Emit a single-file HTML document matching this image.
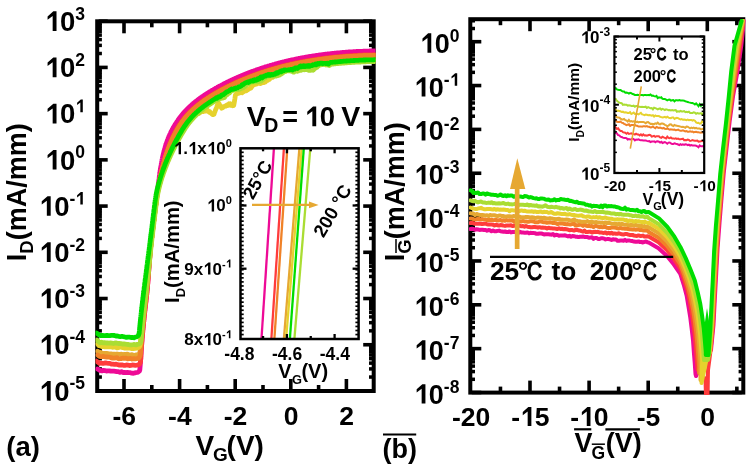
<!DOCTYPE html><html><head><meta charset="utf-8"><style>html,body{margin:0;padding:0;background:#fff;width:751px;height:468px;overflow:hidden}</style></head><body><svg width="751" height="468" viewBox="0 0 751 468" style="display:block;will-change:transform"><rect width="751" height="468" fill="#fff"/><defs><clipPath id="ca"><rect x="95.5" y="19" width="280" height="374"/></clipPath><clipPath id="cb"><rect x="469" y="17" width="276.5" height="378"/></clipPath><clipPath id="cai"><rect x="240" y="147.5" width="119" height="192"/></clipPath><clipPath id="cbi"><rect x="613.5" y="35.5" width="91.5" height="138"/></clipPath></defs><g stroke="#000" fill="none"><rect x="97.2" y="21.3" width="276.5" height="369.7" stroke-width="4"/><line x1="98.7" y1="390.96" x2="107.7" y2="390.96" stroke-width="3.6"/><line x1="98.7" y1="377.05" x2="101.9" y2="377.05" stroke-width="3.5"/><line x1="98.7" y1="368.91" x2="101.9" y2="368.91" stroke-width="3.5"/><line x1="98.7" y1="363.13" x2="101.9" y2="363.13" stroke-width="3.5"/><line x1="98.7" y1="358.65" x2="101.9" y2="358.65" stroke-width="3.5"/><line x1="98.7" y1="354.99" x2="101.9" y2="354.99" stroke-width="3.5"/><line x1="98.7" y1="351.9" x2="101.9" y2="351.9" stroke-width="3.5"/><line x1="98.7" y1="349.22" x2="101.9" y2="349.22" stroke-width="3.5"/><line x1="98.7" y1="346.85" x2="101.9" y2="346.85" stroke-width="3.5"/><line x1="98.7" y1="344.74" x2="107.7" y2="344.74" stroke-width="3.6"/><line x1="98.7" y1="330.83" x2="101.9" y2="330.83" stroke-width="3.5"/><line x1="98.7" y1="322.69" x2="101.9" y2="322.69" stroke-width="3.5"/><line x1="98.7" y1="316.91" x2="101.9" y2="316.91" stroke-width="3.5"/><line x1="98.7" y1="312.43" x2="101.9" y2="312.43" stroke-width="3.5"/><line x1="98.7" y1="308.77" x2="101.9" y2="308.77" stroke-width="3.5"/><line x1="98.7" y1="305.68" x2="101.9" y2="305.68" stroke-width="3.5"/><line x1="98.7" y1="303" x2="101.9" y2="303" stroke-width="3.5"/><line x1="98.7" y1="300.63" x2="101.9" y2="300.63" stroke-width="3.5"/><line x1="98.7" y1="298.52" x2="107.7" y2="298.52" stroke-width="3.6"/><line x1="98.7" y1="284.61" x2="101.9" y2="284.61" stroke-width="3.5"/><line x1="98.7" y1="276.47" x2="101.9" y2="276.47" stroke-width="3.5"/><line x1="98.7" y1="270.69" x2="101.9" y2="270.69" stroke-width="3.5"/><line x1="98.7" y1="266.21" x2="101.9" y2="266.21" stroke-width="3.5"/><line x1="98.7" y1="262.55" x2="101.9" y2="262.55" stroke-width="3.5"/><line x1="98.7" y1="259.46" x2="101.9" y2="259.46" stroke-width="3.5"/><line x1="98.7" y1="256.78" x2="101.9" y2="256.78" stroke-width="3.5"/><line x1="98.7" y1="254.41" x2="101.9" y2="254.41" stroke-width="3.5"/><line x1="98.7" y1="252.3" x2="107.7" y2="252.3" stroke-width="3.6"/><line x1="98.7" y1="238.39" x2="101.9" y2="238.39" stroke-width="3.5"/><line x1="98.7" y1="230.25" x2="101.9" y2="230.25" stroke-width="3.5"/><line x1="98.7" y1="224.47" x2="101.9" y2="224.47" stroke-width="3.5"/><line x1="98.7" y1="219.99" x2="101.9" y2="219.99" stroke-width="3.5"/><line x1="98.7" y1="216.33" x2="101.9" y2="216.33" stroke-width="3.5"/><line x1="98.7" y1="213.24" x2="101.9" y2="213.24" stroke-width="3.5"/><line x1="98.7" y1="210.56" x2="101.9" y2="210.56" stroke-width="3.5"/><line x1="98.7" y1="208.19" x2="101.9" y2="208.19" stroke-width="3.5"/><line x1="98.7" y1="206.08" x2="107.7" y2="206.08" stroke-width="3.6"/><line x1="98.7" y1="192.17" x2="101.9" y2="192.17" stroke-width="3.5"/><line x1="98.7" y1="184.03" x2="101.9" y2="184.03" stroke-width="3.5"/><line x1="98.7" y1="178.25" x2="101.9" y2="178.25" stroke-width="3.5"/><line x1="98.7" y1="173.77" x2="101.9" y2="173.77" stroke-width="3.5"/><line x1="98.7" y1="170.11" x2="101.9" y2="170.11" stroke-width="3.5"/><line x1="98.7" y1="167.02" x2="101.9" y2="167.02" stroke-width="3.5"/><line x1="98.7" y1="164.34" x2="101.9" y2="164.34" stroke-width="3.5"/><line x1="98.7" y1="161.97" x2="101.9" y2="161.97" stroke-width="3.5"/><line x1="98.7" y1="159.86" x2="107.7" y2="159.86" stroke-width="3.6"/><line x1="98.7" y1="145.95" x2="101.9" y2="145.95" stroke-width="3.5"/><line x1="98.7" y1="137.81" x2="101.9" y2="137.81" stroke-width="3.5"/><line x1="98.7" y1="132.03" x2="101.9" y2="132.03" stroke-width="3.5"/><line x1="98.7" y1="127.55" x2="101.9" y2="127.55" stroke-width="3.5"/><line x1="98.7" y1="123.89" x2="101.9" y2="123.89" stroke-width="3.5"/><line x1="98.7" y1="120.8" x2="101.9" y2="120.8" stroke-width="3.5"/><line x1="98.7" y1="118.12" x2="101.9" y2="118.12" stroke-width="3.5"/><line x1="98.7" y1="115.75" x2="101.9" y2="115.75" stroke-width="3.5"/><line x1="98.7" y1="113.64" x2="107.7" y2="113.64" stroke-width="3.6"/><line x1="98.7" y1="99.73" x2="101.9" y2="99.73" stroke-width="3.5"/><line x1="98.7" y1="91.59" x2="101.9" y2="91.59" stroke-width="3.5"/><line x1="98.7" y1="85.81" x2="101.9" y2="85.81" stroke-width="3.5"/><line x1="98.7" y1="81.33" x2="101.9" y2="81.33" stroke-width="3.5"/><line x1="98.7" y1="77.67" x2="101.9" y2="77.67" stroke-width="3.5"/><line x1="98.7" y1="74.58" x2="101.9" y2="74.58" stroke-width="3.5"/><line x1="98.7" y1="71.9" x2="101.9" y2="71.9" stroke-width="3.5"/><line x1="98.7" y1="69.53" x2="101.9" y2="69.53" stroke-width="3.5"/><line x1="98.7" y1="67.42" x2="107.7" y2="67.42" stroke-width="3.6"/><line x1="98.7" y1="53.51" x2="101.9" y2="53.51" stroke-width="3.5"/><line x1="98.7" y1="45.37" x2="101.9" y2="45.37" stroke-width="3.5"/><line x1="98.7" y1="39.59" x2="101.9" y2="39.59" stroke-width="3.5"/><line x1="98.7" y1="35.11" x2="101.9" y2="35.11" stroke-width="3.5"/><line x1="98.7" y1="31.45" x2="101.9" y2="31.45" stroke-width="3.5"/><line x1="98.7" y1="28.36" x2="101.9" y2="28.36" stroke-width="3.5"/><line x1="98.7" y1="25.68" x2="101.9" y2="25.68" stroke-width="3.5"/><line x1="98.7" y1="23.31" x2="101.9" y2="23.31" stroke-width="3.5"/><line x1="98.7" y1="21.2" x2="107.7" y2="21.2" stroke-width="3.6"/><line x1="372.2" y1="390.96" x2="363.2" y2="390.96" stroke-width="3.6"/><line x1="372.2" y1="377.05" x2="369" y2="377.05" stroke-width="3.5"/><line x1="372.2" y1="368.91" x2="369" y2="368.91" stroke-width="3.5"/><line x1="372.2" y1="363.13" x2="369" y2="363.13" stroke-width="3.5"/><line x1="372.2" y1="358.65" x2="369" y2="358.65" stroke-width="3.5"/><line x1="372.2" y1="354.99" x2="369" y2="354.99" stroke-width="3.5"/><line x1="372.2" y1="351.9" x2="369" y2="351.9" stroke-width="3.5"/><line x1="372.2" y1="349.22" x2="369" y2="349.22" stroke-width="3.5"/><line x1="372.2" y1="346.85" x2="369" y2="346.85" stroke-width="3.5"/><line x1="372.2" y1="344.74" x2="363.2" y2="344.74" stroke-width="3.6"/><line x1="372.2" y1="330.83" x2="369" y2="330.83" stroke-width="3.5"/><line x1="372.2" y1="322.69" x2="369" y2="322.69" stroke-width="3.5"/><line x1="372.2" y1="316.91" x2="369" y2="316.91" stroke-width="3.5"/><line x1="372.2" y1="312.43" x2="369" y2="312.43" stroke-width="3.5"/><line x1="372.2" y1="308.77" x2="369" y2="308.77" stroke-width="3.5"/><line x1="372.2" y1="305.68" x2="369" y2="305.68" stroke-width="3.5"/><line x1="372.2" y1="303" x2="369" y2="303" stroke-width="3.5"/><line x1="372.2" y1="300.63" x2="369" y2="300.63" stroke-width="3.5"/><line x1="372.2" y1="298.52" x2="363.2" y2="298.52" stroke-width="3.6"/><line x1="372.2" y1="284.61" x2="369" y2="284.61" stroke-width="3.5"/><line x1="372.2" y1="276.47" x2="369" y2="276.47" stroke-width="3.5"/><line x1="372.2" y1="270.69" x2="369" y2="270.69" stroke-width="3.5"/><line x1="372.2" y1="266.21" x2="369" y2="266.21" stroke-width="3.5"/><line x1="372.2" y1="262.55" x2="369" y2="262.55" stroke-width="3.5"/><line x1="372.2" y1="259.46" x2="369" y2="259.46" stroke-width="3.5"/><line x1="372.2" y1="256.78" x2="369" y2="256.78" stroke-width="3.5"/><line x1="372.2" y1="254.41" x2="369" y2="254.41" stroke-width="3.5"/><line x1="372.2" y1="252.3" x2="363.2" y2="252.3" stroke-width="3.6"/><line x1="372.2" y1="238.39" x2="369" y2="238.39" stroke-width="3.5"/><line x1="372.2" y1="230.25" x2="369" y2="230.25" stroke-width="3.5"/><line x1="372.2" y1="224.47" x2="369" y2="224.47" stroke-width="3.5"/><line x1="372.2" y1="219.99" x2="369" y2="219.99" stroke-width="3.5"/><line x1="372.2" y1="216.33" x2="369" y2="216.33" stroke-width="3.5"/><line x1="372.2" y1="213.24" x2="369" y2="213.24" stroke-width="3.5"/><line x1="372.2" y1="210.56" x2="369" y2="210.56" stroke-width="3.5"/><line x1="372.2" y1="208.19" x2="369" y2="208.19" stroke-width="3.5"/><line x1="372.2" y1="206.08" x2="363.2" y2="206.08" stroke-width="3.6"/><line x1="372.2" y1="192.17" x2="369" y2="192.17" stroke-width="3.5"/><line x1="372.2" y1="184.03" x2="369" y2="184.03" stroke-width="3.5"/><line x1="372.2" y1="178.25" x2="369" y2="178.25" stroke-width="3.5"/><line x1="372.2" y1="173.77" x2="369" y2="173.77" stroke-width="3.5"/><line x1="372.2" y1="170.11" x2="369" y2="170.11" stroke-width="3.5"/><line x1="372.2" y1="167.02" x2="369" y2="167.02" stroke-width="3.5"/><line x1="372.2" y1="164.34" x2="369" y2="164.34" stroke-width="3.5"/><line x1="372.2" y1="161.97" x2="369" y2="161.97" stroke-width="3.5"/><line x1="372.2" y1="159.86" x2="363.2" y2="159.86" stroke-width="3.6"/><line x1="372.2" y1="145.95" x2="369" y2="145.95" stroke-width="3.5"/><line x1="372.2" y1="137.81" x2="369" y2="137.81" stroke-width="3.5"/><line x1="372.2" y1="132.03" x2="369" y2="132.03" stroke-width="3.5"/><line x1="372.2" y1="127.55" x2="369" y2="127.55" stroke-width="3.5"/><line x1="372.2" y1="123.89" x2="369" y2="123.89" stroke-width="3.5"/><line x1="372.2" y1="120.8" x2="369" y2="120.8" stroke-width="3.5"/><line x1="372.2" y1="118.12" x2="369" y2="118.12" stroke-width="3.5"/><line x1="372.2" y1="115.75" x2="369" y2="115.75" stroke-width="3.5"/><line x1="372.2" y1="113.64" x2="363.2" y2="113.64" stroke-width="3.6"/><line x1="372.2" y1="99.73" x2="369" y2="99.73" stroke-width="3.5"/><line x1="372.2" y1="91.59" x2="369" y2="91.59" stroke-width="3.5"/><line x1="372.2" y1="85.81" x2="369" y2="85.81" stroke-width="3.5"/><line x1="372.2" y1="81.33" x2="369" y2="81.33" stroke-width="3.5"/><line x1="372.2" y1="77.67" x2="369" y2="77.67" stroke-width="3.5"/><line x1="372.2" y1="74.58" x2="369" y2="74.58" stroke-width="3.5"/><line x1="372.2" y1="71.9" x2="369" y2="71.9" stroke-width="3.5"/><line x1="372.2" y1="69.53" x2="369" y2="69.53" stroke-width="3.5"/><line x1="372.2" y1="67.42" x2="363.2" y2="67.42" stroke-width="3.6"/><line x1="372.2" y1="53.51" x2="369" y2="53.51" stroke-width="3.5"/><line x1="372.2" y1="45.37" x2="369" y2="45.37" stroke-width="3.5"/><line x1="372.2" y1="39.59" x2="369" y2="39.59" stroke-width="3.5"/><line x1="372.2" y1="35.11" x2="369" y2="35.11" stroke-width="3.5"/><line x1="372.2" y1="31.45" x2="369" y2="31.45" stroke-width="3.5"/><line x1="372.2" y1="28.36" x2="369" y2="28.36" stroke-width="3.5"/><line x1="372.2" y1="25.68" x2="369" y2="25.68" stroke-width="3.5"/><line x1="372.2" y1="23.31" x2="369" y2="23.31" stroke-width="3.5"/><line x1="372.2" y1="21.2" x2="363.2" y2="21.2" stroke-width="3.6"/><line x1="124" y1="389.5" x2="124" y2="379" stroke-width="3.6"/><line x1="179.6" y1="389.5" x2="179.6" y2="379" stroke-width="3.6"/><line x1="235.2" y1="389.5" x2="235.2" y2="379" stroke-width="3.6"/><line x1="290.8" y1="389.5" x2="290.8" y2="379" stroke-width="3.6"/><line x1="346.4" y1="389.5" x2="346.4" y2="379" stroke-width="3.6"/><line x1="151.8" y1="389.5" x2="151.8" y2="385" stroke-width="3.6"/><line x1="207.4" y1="389.5" x2="207.4" y2="385" stroke-width="3.6"/><line x1="263" y1="389.5" x2="263" y2="385" stroke-width="3.6"/><line x1="318.6" y1="389.5" x2="318.6" y2="385" stroke-width="3.6"/><line x1="124" y1="22.8" x2="124" y2="33.3" stroke-width="3.6"/><line x1="179.6" y1="22.8" x2="179.6" y2="33.3" stroke-width="3.6"/><line x1="235.2" y1="22.8" x2="235.2" y2="33.3" stroke-width="3.6"/><line x1="290.8" y1="22.8" x2="290.8" y2="33.3" stroke-width="3.6"/><line x1="346.4" y1="22.8" x2="346.4" y2="33.3" stroke-width="3.6"/><line x1="151.8" y1="22.8" x2="151.8" y2="27.3" stroke-width="3.6"/><line x1="207.4" y1="22.8" x2="207.4" y2="27.3" stroke-width="3.6"/><line x1="263" y1="22.8" x2="263" y2="27.3" stroke-width="3.6"/><line x1="318.6" y1="22.8" x2="318.6" y2="27.3" stroke-width="3.6"/></g><g clip-path="url(#ca)" fill="none" stroke-linejoin="round" stroke-linecap="round"><path d="M97.4,368.9 L98.9,369.8 L100.4,370.6 L101.9,370.9 L103.4,370.4 L104.9,370.6 L106.4,371.0 L107.9,370.9 L109.4,370.9 L110.9,371.2 L112.4,371.2 L113.9,371.2 L115.4,371.4 L116.9,371.7 L118.4,371.7 L119.9,372.3 L121.4,371.6 L122.9,372.5 L124.4,372.4 L125.9,372.7 L127.4,372.5 L128.9,372.7 L130.4,372.7 L131.9,373.2 L133.4,373.3 L134.9,372.9 L136.4,372.5 L137.5,372.3 L138.5,371.8 L139.3,371.1 L139.8,370.1 L139.9,369.0 L140.5,362.3 L140.6,361.6 L140.6,360.9 L140.6,360.3 L140.7,359.6 L140.7,358.9 L140.8,358.3 L140.8,357.6 L140.8,357.0 L140.9,356.3 L140.9,355.6 L140.9,355.0 L141.0,354.3 L141.0,353.6 L141.1,353.0 L141.1,352.3 L141.1,351.6 L141.2,351.0 L141.2,350.3 L141.3,349.7 L141.3,349.0 L141.4,348.3 L141.4,347.7 L141.5,347.0 L141.5,346.3 L141.6,345.7 L141.6,345.0 L141.7,344.3 L141.7,343.7 L141.8,343.0 L141.8,342.4 L141.9,341.7 L141.9,341.0 L142.0,340.4 L142.0,339.7 L142.1,339.0 L142.1,338.4 L142.2,337.7 L142.3,337.0 L142.3,336.4 L142.4,335.7 L142.4,335.1 L142.5,334.4 L142.5,333.7 L142.6,333.1 L142.7,332.4 L142.7,331.7 L142.8,331.1 L142.8,330.4 L142.9,329.7 L143.0,329.1 L143.0,328.4 L143.1,327.8 L143.2,327.1 L143.2,326.4 L143.3,325.8 L143.4,325.1 L143.4,324.4 L143.5,323.8 L143.6,323.1 L143.6,322.4 L143.7,321.8 L143.8,321.1 L143.8,320.4 L143.9,319.8 L144.0,319.1 L144.0,318.5 L144.1,317.8 L144.2,317.1 L144.2,316.5 L144.3,315.8 L144.4,315.1 L144.5,314.5 L144.5,313.8 L144.6,313.1 L144.7,312.5 L144.7,311.8 L144.8,311.2 L144.9,310.5 L145.0,309.8 L145.0,309.2 L145.1,308.5 L145.2,307.8 L145.3,307.2 L145.3,306.5 L145.4,305.8 L145.5,305.2 L145.6,304.5 L145.7,303.9 L145.7,303.2 L145.8,302.5 L145.9,301.9 L146.0,301.2 L146.0,300.5 L146.1,299.9 L146.2,299.2 L146.3,298.5 L146.4,297.9 L146.4,297.2 L146.5,296.5 L146.6,295.9 L146.6,295.2 L146.7,294.5 L146.8,293.9 L146.8,293.2 L146.9,292.5 L147.0,291.9 L147.0,291.2 L147.1,290.6 L147.2,289.9 L147.2,289.2 L147.3,288.5 L147.4,287.9 L147.4,287.2 L147.5,286.5 L147.5,285.9 L147.6,285.2 L147.6,284.5 L147.7,283.9 L147.8,283.2 L147.8,282.5 L147.9,281.9 L147.9,281.2 L148.0,280.5 L148.0,279.9 L148.1,279.2 L148.1,278.5 L148.2,277.9 L148.2,277.2 L148.3,276.5 L148.3,275.9 L148.4,275.2 L148.4,274.5 L148.5,273.8 L148.5,273.2 L148.6,272.5 L148.6,271.8 L148.7,271.2 L148.7,270.5 L148.8,269.8 L148.8,269.2 L148.9,268.5 L148.9,267.8 L149.0,267.2 L149.0,266.5 L149.1,265.8 L149.1,265.1 L149.2,264.5 L149.2,263.8 L149.3,263.1 L149.3,262.5 L149.4,261.8 L149.4,261.1 L149.5,260.5 L149.5,259.8 L149.6,259.1 L149.6,258.5 L149.7,257.8 L149.8,257.1 L149.8,256.4 L149.9,255.8 L149.9,255.1 L150.0,254.4 L150.0,253.8 L150.1,253.1 L150.1,252.4 L150.2,251.8 L150.3,251.1 L150.3,250.4 L150.4,249.8 L150.4,249.1 L150.5,248.4 L150.6,247.8 L150.6,247.1 L150.7,246.4 L150.7,245.8 L150.8,245.1 L150.9,244.4 L150.9,243.8 L151.0,243.1 L151.1,242.4 L151.2,241.8 L151.2,241.1 L151.3,240.4 L151.4,239.8 L151.4,239.1 L151.5,238.4 L151.6,237.8 L151.7,237.1 L151.8,236.4 L151.8,235.8 L151.9,235.1 L152.0,234.4 L152.1,233.8 L152.2,233.1 L152.2,232.4 L152.3,231.8 L152.4,231.1 L152.5,230.4 L152.6,229.8 L152.6,229.1 L152.7,228.5 L152.8,227.8 L152.9,227.1 L153.0,226.5 L153.0,225.8 L153.1,225.1 L153.2,224.5 L153.3,223.8 L153.4,223.1 L153.4,222.5 L153.5,221.8 L153.6,221.1 L153.7,220.5 L153.8,219.8 L153.9,219.2 L153.9,218.5 L154.0,217.8 L154.1,217.2 L154.2,216.5 L154.3,215.8 L154.3,215.2 L154.4,214.5 L154.5,213.8 L154.6,213.2 L154.7,212.5 L154.7,211.9 L154.8,211.2 L154.9,210.5 L155.0,209.9 L155.1,209.2 L155.2,208.5 L155.2,207.9 L155.3,207.2 L155.4,206.5 L155.5,205.9 L155.6,205.2 L155.7,204.5 L155.8,203.9 L155.8,203.2 L155.9,202.5 L156.0,201.9 L156.1,201.2 L156.2,200.5 L156.3,199.9 L156.4,199.2 L156.4,198.6 L156.5,197.9 L156.6,197.2 L156.7,196.6 L156.8,195.9 L156.9,195.2 L157.0,194.6 L157.0,193.9 L157.1,193.2 L157.2,192.6 L157.3,191.9 L157.4,191.2 L157.5,190.6 L157.6,189.9 L157.6,189.2 L157.7,188.5 L157.8,187.9 L157.9,187.2 L158.0,186.5 L158.1,185.9 L158.2,185.2 L158.3,184.5 L158.3,183.9 L158.4,183.2 L158.5,182.5 L158.6,181.9 L158.7,181.2 L158.8,180.5 L158.9,179.8 L159.0,179.2 L159.1,178.5 L159.2,177.8 L159.3,177.2 L159.3,176.5 L159.4,175.8 L159.5,175.2 L159.6,174.5 L159.7,173.8 L159.8,173.1 L159.9,172.5 L160.0,171.8 L160.1,171.1 L160.2,170.5 L160.3,169.8 L160.4,169.1 L160.5,168.5 L160.6,167.8 L160.7,167.2 L160.9,166.5 L161.0,165.8 L161.1,165.2 L161.2,164.5 L161.3,163.8 L161.4,163.2 L161.5,162.5 L161.7,161.9 L161.8,161.2 L161.9,160.6 L162.0,159.9 L162.2,159.2 L162.3,158.6 L162.4,157.9 L162.6,157.3 L162.7,156.6 L162.9,156.0 L163.0,155.3 L163.2,154.7 L163.3,154.0 L163.5,153.4 L163.6,152.8 L163.8,152.1 L163.9,151.5 L164.1,150.8 L164.3,150.2 L164.5,149.6 L164.6,148.9 L164.8,148.3 L165.0,147.7 L165.2,147.0 L165.4,146.4 L165.5,145.8 L165.7,145.2 L165.9,144.6 L166.1,143.9 L166.4,143.3 L166.6,142.7 L166.8,142.1 L167.0,141.5 L167.2,140.9 L167.4,140.3 L167.7,139.6 L167.9,139.0 L168.1,138.4 L168.4,137.8 L168.6,137.2 L168.9,136.6 L169.1,136.1 L169.4,135.5 L169.6,134.9 L169.9,134.3 L170.2,133.7 L170.5,133.1 L170.7,132.5 L171.0,132.0 L171.3,131.4 L171.6,130.8 L171.9,130.2 L172.2,129.7 L172.5,129.1 L172.8,128.5 L173.1,128.0 L173.4,127.4 L173.7,126.9 L174.1,126.3 L174.4,125.7 L174.7,125.2 L175.0,124.7 L175.4,124.1 L175.7,123.6 L176.1,123.0 L176.4,122.5 L176.8,122.0 L177.1,121.4 L177.5,120.9 L177.9,120.4 L178.2,119.8 L178.6,119.3 L179.0,118.8 L179.3,118.3 L179.7,117.8 L180.1,117.3 L180.5,116.8 L180.9,116.3 L181.3,115.8 L181.7,115.3 L182.1,114.8 L182.5,114.3 L182.9,113.8 L183.3,113.3 L183.8,112.8 L184.2,112.3 L184.6,111.8 L185.0,111.4 L185.5,110.9 L185.9,110.4 L186.4,110.0 L186.8,109.5 L187.2,109.0 L187.7,108.6 L188.2,108.1 L188.6,107.7 L189.1,107.2 L189.6,106.8 L190.0,106.4 L190.5,105.9 L191.0,105.5 L191.5,105.1 L191.9,104.6 L192.4,104.2 L192.9,103.8 L193.4,103.3 L193.9,102.9 L194.4,102.5 L194.9,102.1 L195.4,101.7 L196.0,101.3 L196.5,100.9 L197.0,100.5 L197.5,100.1 L198.0,99.7 L198.6,99.3 L199.1,98.9 L199.6,98.5 L200.2,98.1 L200.7,97.7 L201.2,97.3 L201.8,97.0 L202.3,96.6 L202.9,96.2 L203.4,95.8 L204.0,95.5 L204.5,95.1 L205.1,94.7 L205.6,94.4 L206.2,94.0 L206.8,93.6 L207.3,93.3 L207.9,92.9 L208.5,92.6 L209.0,92.2 L209.6,91.9 L210.2,91.5 L210.7,91.2 L211.3,90.8 L211.9,90.5 L212.5,90.1 L213.1,89.8 L213.6,89.5 L214.2,89.1 L214.8,88.8 L215.4,88.5 L216.0,88.1 L216.6,87.8 L217.1,87.5 L217.7,87.2 L218.3,86.8 L218.9,86.5 L219.5,86.2 L220.1,85.9 L220.7,85.6 L221.3,85.3 L221.9,84.9 L222.5,84.6 L223.1,84.3 L223.6,84.0 L224.2,83.7 L224.8,83.4 L225.4,83.1 L226.0,82.8 L226.6,82.5 L227.2,82.2 L227.8,81.9 L228.4,81.6 L229.0,81.3 L229.6,81.0 L230.2,80.8 L230.8,80.5 L231.4,80.2 L232.0,79.9 L232.6,79.6 L233.3,79.3 L233.9,79.1 L234.5,78.8 L235.1,78.5 L235.7,78.2 L236.3,78.0 L236.9,77.7 L237.5,77.4 L238.1,77.2 L238.7,76.9 L239.3,76.6 L240.0,76.4 L240.6,76.1 L241.2,75.8 L241.8,75.6 L242.4,75.3 L243.0,75.1 L243.6,74.8 L244.3,74.6 L244.9,74.3 L245.5,74.1 L246.1,73.8 L246.7,73.6 L247.4,73.3 L248.0,73.1 L248.6,72.9 L249.2,72.6 L249.8,72.4 L250.5,72.1 L251.1,71.9 L251.7,71.7 L252.3,71.4 L253.0,71.2 L253.6,71.0 L254.2,70.8 L254.8,70.5 L255.5,70.3 L256.1,70.1 L256.7,69.9 L257.3,69.6 L258.0,69.4 L258.6,69.2 L259.2,69.0 L259.9,68.8 L260.5,68.6 L261.1,68.4 L261.7,68.2 L262.4,67.9 L263.0,67.7 L263.6,67.5 L264.3,67.3 L264.9,67.1 L265.5,66.9 L266.2,66.7 L266.8,66.5 L267.5,66.3 L268.1,66.1 L268.7,66.0 L269.4,65.8 L270.0,65.6 L270.6,65.4 L271.3,65.2 L271.9,65.0 L272.6,64.8 L273.2,64.6 L273.8,64.5 L274.5,64.3 L275.1,64.1 L275.8,63.9 L276.4,63.8 L277.0,63.6 L277.7,63.4 L278.3,63.2 L279.0,63.1 L279.6,62.9 L280.3,62.7 L280.9,62.6 L281.5,62.4 L282.2,62.2 L282.8,62.1 L283.5,61.9 L284.1,61.8 L284.8,61.6 L285.4,61.4 L286.1,61.3 L286.7,61.1 L287.4,61.0 L288.0,60.8 L288.7,60.7 L289.3,60.5 L290.0,60.4 L290.6,60.2 L291.3,60.1 L291.9,59.9 L292.6,59.8 L293.2,59.7 L293.9,59.5 L294.5,59.4 L295.2,59.2 L295.8,59.1 L296.5,59.0 L297.1,58.8 L297.8,58.7 L298.4,58.6 L299.1,58.4 L299.7,58.3 L300.4,58.2 L301.1,58.1 L301.7,57.9 L302.4,57.8 L303.0,57.7 L303.7,57.6 L304.3,57.5 L305.0,57.3 L305.6,57.2 L306.3,57.1 L307.0,57.0 L307.6,56.9 L308.3,56.8 L308.9,56.6 L309.6,56.5 L310.2,56.4 L310.9,56.3 L311.6,56.2 L312.2,56.1 L312.9,56.0 L313.5,55.9 L314.2,55.8 L314.9,55.7 L315.5,55.6 L316.2,55.5 L316.8,55.4 L317.5,55.3 L318.2,55.2 L318.8,55.1 L319.5,55.0 L320.1,54.9 L320.8,54.8 L321.5,54.8 L322.1,54.7 L322.8,54.6 L323.5,54.5 L324.1,54.4 L324.8,54.3 L325.4,54.2 L326.1,54.2 L326.8,54.1 L327.4,54.0 L328.1,53.9 L328.8,53.8 L329.4,53.8 L330.1,53.7 L330.7,53.6 L331.4,53.6 L332.1,53.5 L332.7,53.4 L333.4,53.3 L334.1,53.3 L334.7,53.2 L335.4,53.1 L336.1,53.1 L336.7,53.0 L337.4,52.9 L338.1,52.9 L338.7,52.8 L339.4,52.8 L340.1,52.7 L340.7,52.6 L341.4,52.6 L342.0,52.5 L342.7,52.5 L343.4,52.4 L344.0,52.4 L344.7,52.3 L345.4,52.3 L346.0,52.2 L346.7,52.2 L347.4,52.1 L348.0,52.1 L348.7,52.0 L349.4,52.0 L350.0,51.9 L350.7,51.9 L351.4,51.8 L352.0,51.8 L352.7,51.8 L353.4,51.7 L354.0,51.7 L354.7,51.6 L355.4,51.6 L356.0,51.6 L356.7,51.5 L357.4,51.5 L358.0,51.5 L358.7,51.4 L359.4,51.4 L360.0,51.4 L360.7,51.3 L361.4,51.3 L362.0,51.3 L362.7,51.3 L363.4,51.2 L364.0,51.2 L364.7,51.2 L365.4,51.2 L366.0,51.1 L366.7,51.1 L367.3,51.1 L368.0,51.1 L368.7,51.1 L369.3,51.0 L370.0,51.0 L370.7,51.0 L371.3,51.0 L372.0,51.0 L372.7,51.0 L373.3,51.0 L374.0,50.9 L374.7,50.9 L375.3,50.9 L376.0,50.9 L376.7,50.9 L377.3,50.9 L378.0,50.9" stroke="#EE0A96" stroke-width="4.8"/><path d="M96.4,361.1 L97.9,362.2 L99.4,363.4 L100.9,363.0 L102.4,363.4 L103.9,363.3 L105.4,362.9 L106.9,363.2 L108.4,363.4 L109.9,363.4 L111.4,364.1 L112.9,364.1 L114.4,364.3 L115.9,364.2 L117.4,364.5 L118.9,365.0 L120.4,365.0 L121.9,364.9 L123.4,365.3 L124.9,365.3 L126.4,365.0 L127.9,365.2 L129.4,365.5 L130.9,365.3 L132.4,365.0 L133.9,365.1 L135.4,365.3 L136.9,365.2 L137.9,365.0 L138.9,364.5 L139.7,363.8 L140.2,362.8 L140.4,361.7 L140.6,361.6 L140.6,360.9 L140.6,360.3 L140.7,359.6 L140.7,358.9 L140.8,358.3 L140.8,357.6 L140.8,357.0 L140.9,356.3 L140.9,355.6 L140.9,355.0 L141.0,354.3 L141.0,353.6 L141.1,353.0 L141.1,352.3 L141.1,351.6 L141.2,351.0 L141.2,350.3 L141.3,349.7 L141.3,349.0 L141.4,348.3 L141.4,347.7 L141.5,347.0 L141.5,346.3 L141.6,345.7 L141.6,345.0 L141.7,344.3 L141.7,343.7 L141.8,343.0 L141.8,342.4 L141.9,341.7 L141.9,341.0 L142.0,340.4 L142.0,339.7 L142.1,339.0 L142.1,338.4 L142.2,337.7 L142.3,337.0 L142.3,336.4 L142.4,335.7 L142.4,335.1 L142.5,334.4 L142.5,333.7 L142.6,333.1 L142.7,332.4 L142.7,331.7 L142.8,331.1 L142.8,330.4 L142.9,329.7 L143.0,329.1 L143.0,328.4 L143.1,327.8 L143.2,327.1 L143.2,326.4 L143.3,325.8 L143.4,325.1 L143.4,324.4 L143.5,323.8 L143.6,323.1 L143.6,322.4 L143.7,321.8 L143.8,321.1 L143.8,320.4 L143.9,319.8 L144.0,319.1 L144.0,318.5 L144.1,317.8 L144.2,317.1 L144.2,316.5 L144.3,315.8 L144.4,315.1 L144.5,314.5 L144.5,313.8 L144.6,313.1 L144.7,312.5 L144.7,311.8 L144.8,311.2 L144.9,310.5 L145.0,309.8 L145.0,309.2 L145.1,308.5 L145.2,307.8 L145.3,307.2 L145.3,306.5 L145.4,305.8 L145.5,305.2 L145.6,304.5 L145.7,303.9 L145.7,303.2 L145.8,302.5 L145.9,301.9 L146.0,301.2 L146.0,300.5 L146.1,299.9 L146.2,299.2 L146.3,298.5 L146.4,297.9 L146.4,297.2 L146.5,296.5 L146.6,295.9 L146.6,295.2 L146.7,294.5 L146.8,293.9 L146.8,293.2 L146.9,292.6 L147.0,291.9 L147.0,291.2 L147.1,290.6 L147.2,289.9 L147.2,289.2 L147.3,288.6 L147.4,287.9 L147.4,287.2 L147.5,286.5 L147.5,285.9 L147.6,285.2 L147.7,284.5 L147.7,283.9 L147.8,283.2 L147.8,282.5 L147.9,281.9 L147.9,281.2 L148.0,280.5 L148.1,279.9 L148.1,279.2 L148.2,278.5 L148.2,277.9 L148.3,277.2 L148.3,276.5 L148.4,275.9 L148.4,275.2 L148.5,274.5 L148.5,273.9 L148.6,273.2 L148.6,272.5 L148.7,271.8 L148.7,271.2 L148.8,270.5 L148.8,269.8 L148.9,269.2 L148.9,268.5 L149.0,267.8 L149.0,267.2 L149.1,266.5 L149.1,265.8 L149.2,265.2 L149.2,264.5 L149.3,263.8 L149.3,263.1 L149.4,262.5 L149.5,261.8 L149.5,261.1 L149.6,260.5 L149.6,259.8 L149.7,259.1 L149.7,258.5 L149.8,257.8 L149.8,257.1 L149.9,256.5 L149.9,255.8 L150.0,255.1 L150.1,254.4 L150.1,253.8 L150.2,253.1 L150.2,252.4 L150.3,251.8 L150.3,251.1 L150.4,250.4 L150.5,249.8 L150.5,249.1 L150.6,248.4 L150.6,247.8 L150.7,247.1 L150.8,246.4 L150.8,245.8 L150.9,245.1 L151.0,244.4 L151.0,243.8 L151.1,243.1 L151.2,242.4 L151.2,241.8 L151.3,241.1 L151.4,240.4 L151.5,239.8 L151.5,239.1 L151.6,238.4 L151.7,237.8 L151.8,237.1 L151.8,236.4 L151.9,235.8 L152.0,235.1 L152.1,234.4 L152.2,233.8 L152.3,233.1 L152.3,232.5 L152.4,231.8 L152.5,231.1 L152.6,230.5 L152.7,229.8 L152.7,229.1 L152.8,228.5 L152.9,227.8 L153.0,227.1 L153.1,226.5 L153.1,225.8 L153.2,225.1 L153.3,224.5 L153.4,223.8 L153.5,223.2 L153.5,222.5 L153.6,221.8 L153.7,221.2 L153.8,220.5 L153.9,219.8 L153.9,219.2 L154.0,218.5 L154.1,217.8 L154.2,217.2 L154.3,216.5 L154.4,215.8 L154.4,215.2 L154.5,214.5 L154.6,213.9 L154.7,213.2 L154.8,212.5 L154.8,211.9 L154.9,211.2 L155.0,210.5 L155.1,209.9 L155.2,209.2 L155.3,208.5 L155.3,207.9 L155.4,207.2 L155.5,206.5 L155.6,205.9 L155.7,205.2 L155.8,204.6 L155.9,203.9 L155.9,203.2 L156.0,202.6 L156.1,201.9 L156.2,201.2 L156.3,200.6 L156.4,199.9 L156.5,199.2 L156.5,198.6 L156.6,197.9 L156.7,197.2 L156.8,196.6 L156.9,195.9 L157.0,195.2 L157.1,194.6 L157.2,193.9 L157.3,193.2 L157.4,192.6 L157.5,191.9 L157.6,191.3 L157.8,190.6 L157.9,189.9 L158.0,189.3 L158.1,188.6 L158.2,187.9 L158.3,187.3 L158.4,186.6 L158.5,185.9 L158.7,185.3 L158.8,184.6 L158.9,183.9 L159.0,183.3 L159.2,182.6 L159.3,182.0 L159.4,181.3 L159.5,180.6 L159.7,180.0 L159.8,179.3 L159.9,178.6 L160.1,178.0 L160.2,177.3 L160.3,176.6 L160.5,176.0 L160.6,175.3 L160.7,174.7 L160.9,174.0 L161.0,173.3 L161.2,172.7 L161.3,172.0 L161.5,171.4 L161.6,170.7 L161.8,170.1 L161.9,169.4 L162.1,168.8 L162.2,168.1 L162.4,167.4 L162.5,166.8 L162.7,166.1 L162.8,165.5 L163.0,164.9 L163.2,164.2 L163.3,163.6 L163.5,162.9 L163.7,162.3 L163.8,161.6 L164.0,161.0 L164.2,160.4 L164.4,159.7 L164.5,159.1 L164.7,158.5 L164.9,157.8 L165.1,157.2 L165.3,156.6 L165.5,155.9 L165.7,155.3 L165.8,154.7 L166.0,154.1 L166.2,153.5 L166.4,152.8 L166.6,152.2 L166.8,151.6 L167.0,151.0 L167.3,150.4 L167.5,149.8 L167.7,149.2 L167.9,148.6 L168.1,148.0 L168.3,147.4 L168.5,146.8 L168.8,146.2 L169.0,145.6 L169.2,145.0 L169.5,144.4 L169.7,143.8 L169.9,143.2 L170.2,142.7 L170.4,142.1 L170.7,141.5 L170.9,140.9 L171.1,140.4 L171.4,139.8 L171.7,139.2 L171.9,138.6 L172.2,138.1 L172.4,137.5 L172.7,137.0 L173.0,136.4 L173.2,135.8 L173.5,135.3 L173.8,134.7 L174.1,134.2 L174.4,133.6 L174.6,133.1 L174.9,132.5 L175.2,132.0 L175.5,131.4 L175.8,130.9 L176.1,130.4 L176.4,129.8 L176.7,129.3 L177.0,128.8 L177.3,128.2 L177.6,127.7 L178.0,127.2 L178.3,126.6 L178.6,126.1 L178.9,125.6 L179.3,125.1 L179.6,124.6 L179.9,124.1 L180.3,123.5 L180.6,123.0 L181.0,122.5 L181.3,122.0 L181.7,121.5 L182.0,121.0 L182.4,120.6 L182.8,120.1 L183.1,119.6 L183.5,119.1 L183.9,118.6 L184.3,118.1 L184.6,117.6 L185.0,117.2 L185.4,116.7 L185.8,116.2 L186.2,115.8 L186.6,115.3 L187.0,114.8 L187.4,114.4 L187.8,113.9 L188.3,113.5 L188.7,113.0 L189.1,112.6 L189.5,112.2 L190.0,111.7 L190.4,111.3 L190.8,110.8 L191.3,110.4 L191.7,110.0 L192.2,109.6 L192.6,109.1 L193.1,108.7 L193.5,108.3 L194.0,107.9 L194.5,107.5 L194.9,107.1 L195.4,106.7 L195.9,106.3 L196.4,105.9 L196.8,105.5 L197.3,105.1 L197.8,104.7 L198.3,104.3 L198.8,103.9 L199.3,103.5 L199.8,103.1 L200.3,102.7 L200.8,102.3 L201.3,101.9 L201.9,101.6 L202.4,101.2 L202.9,100.8 L203.4,100.4 L204.0,100.1 L204.5,99.7 L205.0,99.3 L205.5,99.0 L206.1,98.6 L206.6,98.3 L207.2,97.9 L207.7,97.5 L208.3,97.2 L208.8,96.8 L209.4,96.5 L209.9,96.1 L210.5,95.8 L211.0,95.5 L211.6,95.1 L212.1,94.8 L212.7,94.4 L213.3,94.1 L213.8,93.8 L214.4,93.4 L215.0,93.1 L215.5,92.8 L216.1,92.4 L216.7,92.1 L217.3,91.8 L217.8,91.5 L218.4,91.1 L219.0,90.8 L219.6,90.5 L220.1,90.2 L220.7,89.9 L221.3,89.5 L221.9,89.2 L222.5,88.9 L223.0,88.6 L223.6,88.3 L224.2,88.0 L224.8,87.7 L225.4,87.4 L226.0,87.1 L226.6,86.8 L227.1,86.5 L227.7,86.2 L228.3,85.9 L228.9,85.6 L229.5,85.3 L230.1,85.0 L230.7,84.8 L231.3,84.5 L231.9,84.2 L232.5,83.9 L233.1,83.6 L233.7,83.3 L234.3,83.1 L234.8,82.8 L235.4,82.5 L236.0,82.2 L236.6,82.0 L237.2,81.7 L237.8,81.4 L238.4,81.2 L239.0,80.9 L239.6,80.6 L240.2,80.4 L240.8,80.1 L241.4,79.9 L242.1,79.6 L242.7,79.3 L243.3,79.1 L243.9,78.8 L244.5,78.6 L245.1,78.3 L245.7,78.1 L246.3,77.8 L246.9,77.6 L247.5,77.4 L248.1,77.1 L248.7,76.9 L249.3,76.6 L250.0,76.4 L250.6,76.2 L251.2,75.9 L251.8,75.7 L252.4,75.5 L253.0,75.2 L253.6,75.0 L254.3,74.8 L254.9,74.6 L255.5,74.3 L256.1,74.1 L256.7,73.9 L257.3,73.7 L258.0,73.5 L258.6,73.2 L259.2,73.0 L259.8,72.8 L260.4,72.6 L261.1,72.4 L261.7,72.2 L262.3,72.0 L262.9,71.8 L263.6,71.6 L264.2,71.4 L264.8,71.2 L265.4,71.0 L266.1,70.8 L266.7,70.6 L267.3,70.4 L267.9,70.2 L268.6,70.0 L269.2,69.8 L269.8,69.6 L270.4,69.4 L271.1,69.2 L271.7,69.0 L272.3,68.8 L273.0,68.7 L273.6,68.5 L274.2,68.3 L274.9,68.1 L275.5,67.9 L276.1,67.8 L276.8,67.6 L277.4,67.4 L278.0,67.2 L278.7,67.1 L279.3,66.9 L279.9,66.7 L280.6,66.6 L281.2,66.4 L281.8,66.2 L282.5,66.1 L283.1,65.9 L283.8,65.8 L284.4,65.6 L285.0,65.4 L285.7,65.3 L286.3,65.1 L287.0,65.0 L287.6,64.8 L288.2,64.7 L288.9,64.5 L289.5,64.4 L290.2,64.2 L290.8,64.1 L291.4,63.9 L292.1,63.8 L292.7,63.7 L293.4,63.5 L294.0,63.4 L294.7,63.2 L295.3,63.1 L295.9,63.0 L296.6,62.8 L297.2,62.7 L297.9,62.6 L298.5,62.4 L299.2,62.3 L299.8,62.2 L300.5,62.0 L301.1,61.9 L301.8,61.8 L302.4,61.7 L303.1,61.6 L303.7,61.4 L304.4,61.3 L305.0,61.2 L305.7,61.1 L306.3,61.0 L307.0,60.8 L307.6,60.7 L308.3,60.6 L308.9,60.5 L309.6,60.4 L310.2,60.3 L310.9,60.2 L311.5,60.1 L312.2,60.0 L312.8,59.9 L313.5,59.8 L314.1,59.7 L314.8,59.6 L315.4,59.5 L316.1,59.4 L316.7,59.3 L317.4,59.2 L318.0,59.1 L318.7,59.0 L319.4,58.9 L320.0,58.8 L320.7,58.7 L321.3,58.6 L322.0,58.5 L322.6,58.4 L323.3,58.3 L323.9,58.3 L324.6,58.2 L325.3,58.1 L325.9,58.0 L326.6,57.9 L327.2,57.9 L327.9,57.8 L328.5,57.7 L329.2,57.6 L329.9,57.5 L330.5,57.5 L331.2,57.4 L331.8,57.3 L332.5,57.3 L333.1,57.2 L333.8,57.1 L334.5,57.1 L335.1,57.0 L335.8,56.9 L336.4,56.9 L337.1,56.8 L337.8,56.7 L338.4,56.7 L339.1,56.6 L339.7,56.5 L340.4,56.5 L341.0,56.4 L341.7,56.4 L342.4,56.3 L343.0,56.3 L343.7,56.2 L344.3,56.2 L345.0,56.1 L345.7,56.1 L346.3,56.0 L347.0,56.0 L347.6,55.9 L348.3,55.9 L349.0,55.8 L349.6,55.8 L350.3,55.7 L350.9,55.7 L351.6,55.6 L352.3,55.6 L352.9,55.6 L353.6,55.5 L354.3,55.5 L354.9,55.4 L355.6,55.4 L356.2,55.4 L356.9,55.3 L357.6,55.3 L358.2,55.3 L358.9,55.2 L359.5,55.2 L360.2,55.2 L360.9,55.1 L361.5,55.1 L362.2,55.1 L362.8,55.1 L363.5,55.0 L364.2,55.0 L364.8,55.0 L365.5,55.0 L366.1,54.9 L366.8,54.9 L367.5,54.9 L368.1,54.9 L368.8,54.9 L369.4,54.8 L370.1,54.8 L370.8,54.8 L371.4,54.8 L372.1,54.8 L372.7,54.8 L373.4,54.8 L374.1,54.7 L374.7,54.7 L375.4,54.7 L376.0,54.7 L376.7,54.7 L377.4,54.7 L378.0,54.7" stroke="#FF3C3C" stroke-width="4.8"/><path d="M97.5,351.2 L99.0,352.4 L100.5,352.3 L102.0,353.3 L103.5,353.4 L105.0,353.4 L106.5,353.4 L108.0,353.7 L109.5,354.0 L111.0,353.8 L112.5,354.2 L114.0,354.1 L115.5,354.4 L117.0,354.0 L118.5,354.4 L120.0,354.3 L121.5,354.2 L123.0,354.6 L124.5,354.4 L126.0,354.6 L127.5,354.1 L129.0,354.8 L130.5,355.0 L132.0,354.7 L133.5,355.4 L135.0,355.4 L136.5,354.9 L137.5,354.7 L138.5,354.2 L139.3,353.5 L139.8,352.5 L140.0,351.4 L140.2,350.9 L140.2,350.3 L140.3,349.6 L140.3,348.9 L140.4,348.3 L140.4,347.6 L140.5,346.9 L140.5,346.3 L140.6,345.6 L140.6,344.9 L140.7,344.3 L140.7,343.6 L140.8,342.9 L140.8,342.3 L140.9,341.6 L140.9,340.9 L141.0,340.3 L141.0,339.6 L141.1,339.0 L141.1,338.3 L141.2,337.6 L141.3,337.0 L141.3,336.3 L141.4,335.6 L141.4,335.0 L141.5,334.3 L141.5,333.6 L141.6,333.0 L141.7,332.3 L141.7,331.6 L141.8,331.0 L141.8,330.3 L141.9,329.6 L142.0,329.0 L142.0,328.3 L142.1,327.7 L142.2,327.0 L142.2,326.3 L142.3,325.7 L142.4,325.0 L142.4,324.3 L142.5,323.7 L142.6,323.0 L142.6,322.3 L142.7,321.7 L142.8,321.0 L142.8,320.3 L142.9,319.7 L143.0,319.0 L143.0,318.4 L143.1,317.7 L143.2,317.0 L143.2,316.4 L143.3,315.7 L143.4,315.0 L143.5,314.4 L143.5,313.7 L143.6,313.0 L143.7,312.4 L143.8,311.7 L143.8,311.0 L143.9,310.4 L144.0,309.7 L144.1,309.1 L144.1,308.4 L144.2,307.7 L144.3,307.1 L144.4,306.4 L144.4,305.7 L144.5,305.1 L144.6,304.4 L144.7,303.7 L144.7,303.1 L144.8,302.4 L144.9,301.7 L145.0,301.1 L145.1,300.4 L145.1,299.7 L145.2,299.1 L145.3,298.4 L145.4,297.8 L145.4,297.1 L145.5,296.4 L145.6,295.8 L145.7,295.1 L145.7,294.4 L145.8,293.8 L145.9,293.1 L146.0,292.4 L146.0,291.8 L146.1,291.1 L146.2,290.4 L146.3,289.8 L146.3,289.1 L146.4,288.4 L146.5,287.8 L146.5,287.1 L146.6,286.4 L146.7,285.8 L146.7,285.1 L146.8,284.4 L146.9,283.8 L147.0,283.1 L147.0,282.4 L147.1,281.8 L147.2,281.1 L147.2,280.4 L147.3,279.8 L147.4,279.1 L147.4,278.4 L147.5,277.8 L147.6,277.1 L147.6,276.4 L147.7,275.8 L147.8,275.1 L147.8,274.4 L147.9,273.8 L148.0,273.1 L148.0,272.4 L148.1,271.8 L148.2,271.1 L148.2,270.4 L148.3,269.8 L148.4,269.1 L148.4,268.4 L148.5,267.8 L148.6,267.1 L148.6,266.4 L148.7,265.8 L148.8,265.1 L148.8,264.4 L148.9,263.8 L149.0,263.1 L149.0,262.4 L149.1,261.8 L149.2,261.1 L149.2,260.4 L149.3,259.8 L149.4,259.1 L149.4,258.4 L149.5,257.8 L149.6,257.1 L149.6,256.4 L149.7,255.8 L149.8,255.1 L149.8,254.4 L149.9,253.8 L150.0,253.1 L150.1,252.4 L150.1,251.8 L150.2,251.1 L150.3,250.4 L150.3,249.8 L150.4,249.1 L150.5,248.4 L150.6,247.8 L150.6,247.1 L150.7,246.4 L150.8,245.8 L150.8,245.1 L150.9,244.4 L151.0,243.8 L151.1,243.1 L151.1,242.4 L151.2,241.8 L151.3,241.1 L151.4,240.4 L151.5,239.8 L151.5,239.1 L151.6,238.4 L151.7,237.8 L151.8,237.1 L151.8,236.4 L151.9,235.8 L152.0,235.1 L152.1,234.4 L152.2,233.8 L152.3,233.1 L152.3,232.5 L152.4,231.8 L152.5,231.1 L152.6,230.5 L152.7,229.8 L152.7,229.1 L152.8,228.5 L152.9,227.8 L153.0,227.1 L153.1,226.5 L153.1,225.8 L153.2,225.1 L153.3,224.5 L153.4,223.8 L153.5,223.2 L153.5,222.5 L153.6,221.8 L153.7,221.2 L153.8,220.5 L153.9,219.8 L153.9,219.2 L154.0,218.5 L154.1,217.8 L154.2,217.2 L154.3,216.5 L154.4,215.8 L154.4,215.2 L154.5,214.5 L154.6,213.9 L154.7,213.2 L154.8,212.5 L154.8,211.9 L154.9,211.2 L155.0,210.5 L155.1,209.9 L155.2,209.2 L155.3,208.5 L155.3,207.9 L155.4,207.2 L155.5,206.5 L155.6,205.9 L155.7,205.2 L155.8,204.6 L155.9,203.9 L155.9,203.2 L156.0,202.6 L156.1,201.9 L156.2,201.2 L156.3,200.6 L156.4,199.9 L156.5,199.2 L156.5,198.6 L156.6,197.9 L156.7,197.2 L156.8,196.6 L156.9,195.9 L157.0,195.2 L157.1,194.6 L157.2,193.9 L157.4,193.3 L157.5,192.6 L157.6,191.9 L157.7,191.3 L157.8,190.6 L157.9,189.9 L158.0,189.3 L158.2,188.6 L158.3,187.9 L158.4,187.3 L158.5,186.6 L158.6,186.0 L158.8,185.3 L158.9,184.6 L159.0,184.0 L159.2,183.3 L159.3,182.6 L159.4,182.0 L159.6,181.3 L159.7,180.7 L159.8,180.0 L160.0,179.3 L160.1,178.7 L160.3,178.0 L160.4,177.3 L160.6,176.7 L160.7,176.0 L160.9,175.4 L161.0,174.7 L161.2,174.1 L161.3,173.4 L161.5,172.7 L161.6,172.1 L161.8,171.4 L162.0,170.8 L162.1,170.1 L162.3,169.5 L162.4,168.8 L162.6,168.2 L162.8,167.5 L162.9,166.9 L163.1,166.2 L163.3,165.6 L163.5,164.9 L163.6,164.3 L163.8,163.7 L164.0,163.0 L164.2,162.4 L164.4,161.8 L164.5,161.1 L164.7,160.5 L164.9,159.9 L165.1,159.2 L165.3,158.6 L165.5,158.0 L165.7,157.3 L165.9,156.7 L166.1,156.1 L166.3,155.5 L166.5,154.9 L166.7,154.2 L166.9,153.6 L167.1,153.0 L167.3,152.4 L167.6,151.8 L167.8,151.2 L168.0,150.6 L168.2,150.0 L168.4,149.4 L168.6,148.8 L168.9,148.2 L169.1,147.6 L169.3,147.0 L169.6,146.4 L169.8,145.9 L170.0,145.3 L170.3,144.7 L170.5,144.1 L170.8,143.5 L171.0,143.0 L171.2,142.4 L171.5,141.8 L171.7,141.3 L172.0,140.7 L172.3,140.1 L172.5,139.6 L172.8,139.0 L173.0,138.5 L173.3,137.9 L173.6,137.3 L173.8,136.8 L174.1,136.2 L174.4,135.7 L174.7,135.1 L175.0,134.6 L175.2,134.1 L175.5,133.5 L175.8,133.0 L176.1,132.4 L176.4,131.9 L176.7,131.4 L177.0,130.8 L177.3,130.3 L177.6,129.8 L177.9,129.3 L178.2,128.7 L178.5,128.2 L178.8,127.7 L179.1,127.2 L179.5,126.7 L179.8,126.1 L180.1,125.6 L180.4,125.1 L180.8,124.6 L181.1,124.1 L181.4,123.6 L181.8,123.1 L182.1,122.6 L182.5,122.1 L182.8,121.6 L183.2,121.1 L183.6,120.7 L183.9,120.2 L184.3,119.7 L184.7,119.2 L185.0,118.7 L185.4,118.3 L185.8,117.8 L186.2,117.3 L186.6,116.9 L187.0,116.4 L187.4,116.0 L187.8,115.5 L188.2,115.1 L188.6,114.6 L189.0,114.2 L189.4,113.7 L189.8,113.3 L190.2,112.9 L190.7,112.4 L191.1,112.0 L191.5,111.6 L192.0,111.1 L192.4,110.7 L192.8,110.3 L193.3,109.9 L193.7,109.5 L194.2,109.0 L194.7,108.6 L195.1,108.2 L195.6,107.8 L196.0,107.4 L196.5,107.0 L197.0,106.6 L197.5,106.2 L198.0,105.8 L198.4,105.4 L198.9,105.0 L199.4,104.7 L199.9,104.3 L200.4,103.9 L200.9,103.5 L201.4,103.1 L201.9,102.8 L202.5,102.4 L203.0,102.0 L203.5,101.6 L204.0,101.3 L204.5,100.9 L205.1,100.5 L205.6,100.2 L206.1,99.8 L206.6,99.5 L207.2,99.1 L207.7,98.7 L208.3,98.4 L208.8,98.0 L209.3,97.7 L209.9,97.3 L210.4,97.0 L211.0,96.6 L211.5,96.3 L212.1,96.0 L212.7,95.6 L213.2,95.3 L213.8,95.0 L214.3,94.6 L214.9,94.3 L215.5,94.0 L216.0,93.6 L216.6,93.3 L217.2,93.0 L217.7,92.7 L218.3,92.3 L218.9,92.0 L219.5,91.7 L220.0,91.4 L220.6,91.1 L221.2,90.7 L221.8,90.4 L222.4,90.1 L222.9,89.8 L223.5,89.5 L224.1,89.2 L224.7,88.9 L225.3,88.6 L225.8,88.3 L226.4,88.0 L227.0,87.7 L227.6,87.4 L228.2,87.1 L228.8,86.8 L229.4,86.5 L229.9,86.2 L230.5,85.9 L231.1,85.7 L231.7,85.4 L232.3,85.1 L232.9,84.8 L233.5,84.5 L234.1,84.2 L234.7,84.0 L235.3,83.7 L235.9,83.4 L236.5,83.1 L237.1,82.9 L237.6,82.6 L238.2,82.3 L238.8,82.1 L239.4,81.8 L240.0,81.6 L240.6,81.3 L241.2,81.0 L241.8,80.8 L242.4,80.5 L243.0,80.3 L243.6,80.0 L244.3,79.8 L244.9,79.5 L245.5,79.3 L246.1,79.0 L246.7,78.8 L247.3,78.5 L247.9,78.3 L248.5,78.0 L249.1,77.8 L249.7,77.6 L250.3,77.3 L250.9,77.1 L251.5,76.9 L252.2,76.6 L252.8,76.4 L253.4,76.2 L254.0,75.9 L254.6,75.7 L255.2,75.5 L255.8,75.3 L256.4,75.1 L257.1,74.8 L257.7,74.6 L258.3,74.4 L258.9,74.2 L259.5,74.0 L260.1,73.8 L260.8,73.5 L261.4,73.3 L262.0,73.1 L262.6,72.9 L263.2,72.7 L263.9,72.5 L264.5,72.3 L265.1,72.1 L265.7,71.9 L266.4,71.7 L267.0,71.5 L267.6,71.3 L268.2,71.1 L268.9,70.9 L269.5,70.7 L270.1,70.6 L270.7,70.4 L271.4,70.2 L272.0,70.0 L272.6,69.8 L273.2,69.6 L273.9,69.4 L274.5,69.3 L275.1,69.1 L275.8,68.9 L276.4,68.7 L277.0,68.6 L277.7,68.4 L278.3,68.2 L278.9,68.0 L279.6,67.9 L280.2,67.7 L280.8,67.5 L281.5,67.4 L282.1,67.2 L282.7,67.0 L283.4,66.9 L284.0,66.7 L284.6,66.6 L285.3,66.4 L285.9,66.3 L286.5,66.1 L287.2,65.9 L287.8,65.8 L288.5,65.6 L289.1,65.5 L289.7,65.3 L290.4,65.2 L291.0,65.1 L291.7,64.9 L292.3,64.8 L292.9,64.6 L293.6,64.5 L294.2,64.3 L294.9,64.2 L295.5,64.1 L296.2,63.9 L296.8,63.8 L297.4,63.7 L298.1,63.5 L298.7,63.4 L299.4,63.3 L300.0,63.2 L300.7,63.0 L301.3,62.9 L302.0,62.8 L302.6,62.7 L303.2,62.5 L303.9,62.4 L304.5,62.3 L305.2,62.2 L305.8,62.1 L306.5,61.9 L307.1,61.8 L307.8,61.7 L308.4,61.6 L309.1,61.5 L309.7,61.4 L310.4,61.3 L311.0,61.2 L311.7,61.1 L312.3,61.0 L313.0,60.9 L313.6,60.7 L314.3,60.6 L314.9,60.5 L315.6,60.4 L316.2,60.3 L316.9,60.3 L317.5,60.2 L318.2,60.1 L318.8,60.0 L319.5,59.9 L320.1,59.8 L320.8,59.7 L321.5,59.6 L322.1,59.5 L322.8,59.4 L323.4,59.3 L324.1,59.3 L324.7,59.2 L325.4,59.1 L326.0,59.0 L326.7,58.9 L327.3,58.8 L328.0,58.8 L328.7,58.7 L329.3,58.6 L330.0,58.5 L330.6,58.5 L331.3,58.4 L331.9,58.3 L332.6,58.3 L333.2,58.2 L333.9,58.1 L334.6,58.0 L335.2,58.0 L335.9,57.9 L336.5,57.8 L337.2,57.8 L337.8,57.7 L338.5,57.7 L339.2,57.6 L339.8,57.5 L340.5,57.5 L341.1,57.4 L341.8,57.4 L342.5,57.3 L343.1,57.3 L343.8,57.2 L344.4,57.2 L345.1,57.1 L345.7,57.0 L346.4,57.0 L347.1,56.9 L347.7,56.9 L348.4,56.9 L349.0,56.8 L349.7,56.8 L350.4,56.7 L351.0,56.7 L351.7,56.6 L352.3,56.6 L353.0,56.6 L353.6,56.5 L354.3,56.5 L355.0,56.4 L355.6,56.4 L356.3,56.4 L356.9,56.3 L357.6,56.3 L358.3,56.3 L358.9,56.2 L359.6,56.2 L360.2,56.2 L360.9,56.1 L361.6,56.1 L362.2,56.1 L362.9,56.1 L363.5,56.0 L364.2,56.0 L364.9,56.0 L365.5,56.0 L366.2,55.9 L366.8,55.9 L367.5,55.9 L368.2,55.9 L368.8,55.9 L369.5,55.8 L370.1,55.8 L370.8,55.8 L371.4,55.8 L372.1,55.8 L372.8,55.8 L373.4,55.8 L374.1,55.7 L374.7,55.7 L375.4,55.7 L376.1,55.7 L376.7,55.7 L377.4,55.7 L378.0,55.7" stroke="#E6A832" stroke-width="4.8"/><path d="M97.6,355.0 L99.1,356.2 L100.6,356.6 L102.1,356.7 L103.6,356.5 L105.1,356.8 L106.6,357.0 L108.1,357.2 L109.6,357.2 L111.1,357.6 L112.6,358.1 L114.1,358.1 L115.6,357.9 L117.1,357.7 L118.6,358.8 L120.1,358.7 L121.6,358.5 L123.1,358.1 L124.6,358.4 L126.1,358.1 L127.6,358.8 L129.1,358.7 L130.6,358.3 L132.1,359.0 L133.6,358.6 L135.1,358.9 L136.6,358.7 L137.7,358.5 L138.7,358.0 L139.4,357.3 L139.9,356.3 L140.1,355.2 L140.3,354.9 L140.4,354.3 L140.4,353.6 L140.5,352.9 L140.5,352.3 L140.6,351.6 L140.6,350.9 L140.6,350.3 L140.7,349.6 L140.7,349.0 L140.8,348.3 L140.8,347.6 L140.9,347.0 L140.9,346.3 L141.0,345.6 L141.0,345.0 L141.1,344.3 L141.1,343.6 L141.2,343.0 L141.2,342.3 L141.3,341.6 L141.3,341.0 L141.4,340.3 L141.4,339.7 L141.5,339.0 L141.5,338.3 L141.6,337.7 L141.7,337.0 L141.7,336.3 L141.8,335.7 L141.8,335.0 L141.9,334.3 L141.9,333.7 L142.0,333.0 L142.1,332.3 L142.1,331.7 L142.2,331.0 L142.2,330.4 L142.3,329.7 L142.4,329.0 L142.4,328.4 L142.5,327.7 L142.6,327.0 L142.6,326.4 L142.7,325.7 L142.8,325.0 L142.8,324.4 L142.9,323.7 L143.0,323.0 L143.0,322.4 L143.1,321.7 L143.2,321.1 L143.2,320.4 L143.3,319.7 L143.4,319.1 L143.4,318.4 L143.5,317.7 L143.6,317.1 L143.6,316.4 L143.7,315.7 L143.8,315.1 L143.9,314.4 L143.9,313.7 L144.0,313.1 L144.1,312.4 L144.2,311.8 L144.2,311.1 L144.3,310.4 L144.4,309.8 L144.4,309.1 L144.5,308.4 L144.6,307.8 L144.7,307.1 L144.8,306.4 L144.8,305.8 L144.9,305.1 L145.0,304.4 L145.1,303.8 L145.1,303.1 L145.2,302.5 L145.3,301.8 L145.4,301.1 L145.5,300.5 L145.5,299.8 L145.6,299.1 L145.7,298.5 L145.8,297.8 L145.8,297.1 L145.9,296.5 L146.0,295.8 L146.1,295.1 L146.1,294.5 L146.2,293.8 L146.3,293.1 L146.3,292.5 L146.4,291.8 L146.5,291.1 L146.6,290.5 L146.6,289.8 L146.7,289.1 L146.8,288.5 L146.8,287.8 L146.9,287.2 L147.0,286.5 L147.0,285.8 L147.1,285.1 L147.2,284.5 L147.2,283.8 L147.3,283.1 L147.3,282.5 L147.4,281.8 L147.5,281.1 L147.5,280.5 L147.6,279.8 L147.7,279.1 L147.7,278.5 L147.8,277.8 L147.8,277.1 L147.9,276.5 L148.0,275.8 L148.0,275.1 L148.1,274.5 L148.2,273.8 L148.2,273.1 L148.3,272.5 L148.3,271.8 L148.4,271.1 L148.5,270.5 L148.5,269.8 L148.6,269.1 L148.6,268.5 L148.7,267.8 L148.8,267.1 L148.8,266.5 L148.9,265.8 L148.9,265.1 L149.0,264.5 L149.1,263.8 L149.1,263.1 L149.2,262.4 L149.2,261.8 L149.3,261.1 L149.4,260.4 L149.4,259.8 L149.5,259.1 L149.6,258.4 L149.6,257.8 L149.7,257.1 L149.7,256.4 L149.8,255.8 L149.9,255.1 L149.9,254.4 L150.0,253.8 L150.1,253.1 L150.1,252.4 L150.2,251.8 L150.3,251.1 L150.3,250.4 L150.4,249.8 L150.5,249.1 L150.5,248.4 L150.6,247.8 L150.7,247.1 L150.7,246.4 L150.8,245.8 L150.9,245.1 L150.9,244.4 L151.0,243.8 L151.1,243.1 L151.2,242.4 L151.2,241.8 L151.3,241.1 L151.4,240.4 L151.5,239.8 L151.5,239.1 L151.6,238.4 L151.7,237.8 L151.8,237.1 L151.8,236.4 L151.9,235.8 L152.0,235.1 L152.1,234.4 L152.2,233.8 L152.3,233.1 L152.3,232.5 L152.4,231.8 L152.5,231.1 L152.6,230.5 L152.7,229.8 L152.7,229.1 L152.8,228.5 L152.9,227.8 L153.0,227.1 L153.1,226.5 L153.1,225.8 L153.2,225.1 L153.3,224.5 L153.4,223.8 L153.5,223.2 L153.5,222.5 L153.6,221.8 L153.7,221.2 L153.8,220.5 L153.9,219.8 L153.9,219.2 L154.0,218.5 L154.1,217.8 L154.2,217.2 L154.3,216.5 L154.4,215.8 L154.4,215.2 L154.5,214.5 L154.6,213.9 L154.7,213.2 L154.8,212.5 L154.8,211.9 L154.9,211.2 L155.0,210.5 L155.1,209.9 L155.2,209.2 L155.3,208.5 L155.3,207.9 L155.4,207.2 L155.5,206.5 L155.6,205.9 L155.7,205.2 L155.8,204.6 L155.9,203.9 L155.9,203.2 L156.0,202.6 L156.1,201.9 L156.2,201.2 L156.3,200.6 L156.4,199.9 L156.5,199.2 L156.5,198.6 L156.6,197.9 L156.7,197.2 L156.8,196.6 L156.9,195.9 L157.0,195.2 L157.1,194.6 L157.2,193.9 L157.3,193.3 L157.5,192.6 L157.6,191.9 L157.7,191.3 L157.8,190.6 L157.9,189.9 L158.0,189.3 L158.1,188.6 L158.2,187.9 L158.4,187.3 L158.5,186.6 L158.6,186.0 L158.7,185.3 L158.9,184.6 L159.0,184.0 L159.1,183.3 L159.3,182.6 L159.4,182.0 L159.5,181.3 L159.7,180.6 L159.8,180.0 L159.9,179.3 L160.1,178.7 L160.2,178.0 L160.4,177.3 L160.5,176.7 L160.6,176.0 L160.8,175.4 L160.9,174.7 L161.1,174.0 L161.2,173.4 L161.4,172.7 L161.5,172.1 L161.7,171.4 L161.8,170.8 L162.0,170.1 L162.2,169.5 L162.3,168.8 L162.5,168.2 L162.7,167.5 L162.8,166.9 L163.0,166.2 L163.2,165.6 L163.3,164.9 L163.5,164.3 L163.7,163.6 L163.8,163.0 L164.0,162.4 L164.2,161.7 L164.4,161.1 L164.6,160.4 L164.8,159.8 L164.9,159.2 L165.1,158.6 L165.3,157.9 L165.5,157.3 L165.7,156.7 L165.9,156.1 L166.1,155.4 L166.3,154.8 L166.5,154.2 L166.7,153.6 L166.9,153.0 L167.1,152.4 L167.3,151.7 L167.5,151.1 L167.8,150.5 L168.0,149.9 L168.2,149.3 L168.4,148.7 L168.6,148.1 L168.9,147.5 L169.1,147.0 L169.3,146.4 L169.6,145.8 L169.8,145.2 L170.0,144.6 L170.3,144.0 L170.5,143.4 L170.7,142.9 L171.0,142.3 L171.2,141.7 L171.5,141.2 L171.7,140.6 L172.0,140.0 L172.3,139.5 L172.5,138.9 L172.8,138.3 L173.0,137.8 L173.3,137.2 L173.6,136.7 L173.9,136.1 L174.1,135.6 L174.4,135.0 L174.7,134.5 L175.0,133.9 L175.3,133.4 L175.5,132.8 L175.8,132.3 L176.1,131.8 L176.4,131.2 L176.7,130.7 L177.0,130.2 L177.3,129.6 L177.6,129.1 L177.9,128.6 L178.3,128.1 L178.6,127.5 L178.9,127.0 L179.2,126.5 L179.5,126.0 L179.9,125.5 L180.2,125.0 L180.5,124.4 L180.9,123.9 L181.2,123.4 L181.5,122.9 L181.9,122.4 L182.2,121.9 L182.6,121.5 L183.0,121.0 L183.3,120.5 L183.7,120.0 L184.1,119.5 L184.4,119.0 L184.8,118.6 L185.2,118.1 L185.6,117.6 L186.0,117.2 L186.4,116.7 L186.7,116.2 L187.1,115.8 L187.5,115.3 L188.0,114.9 L188.4,114.4 L188.8,114.0 L189.2,113.5 L189.6,113.1 L190.0,112.6 L190.5,112.2 L190.9,111.8 L191.3,111.3 L191.8,110.9 L192.2,110.5 L192.6,110.1 L193.1,109.7 L193.5,109.2 L194.0,108.8 L194.5,108.4 L194.9,108.0 L195.4,107.6 L195.9,107.2 L196.3,106.8 L196.8,106.4 L197.3,106.0 L197.8,105.6 L198.3,105.2 L198.7,104.8 L199.2,104.4 L199.7,104.0 L200.2,103.7 L200.7,103.3 L201.3,102.9 L201.8,102.5 L202.3,102.1 L202.8,101.8 L203.3,101.4 L203.8,101.0 L204.4,100.7 L204.9,100.3 L205.4,99.9 L205.9,99.6 L206.5,99.2 L207.0,98.8 L207.6,98.5 L208.1,98.1 L208.6,97.8 L209.2,97.4 L209.7,97.1 L210.3,96.7 L210.8,96.4 L211.4,96.1 L211.9,95.7 L212.5,95.4 L213.1,95.0 L213.6,94.7 L214.2,94.4 L214.7,94.0 L215.3,93.7 L215.9,93.4 L216.5,93.0 L217.0,92.7 L217.6,92.4 L218.2,92.1 L218.7,91.7 L219.3,91.4 L219.9,91.1 L220.5,90.8 L221.1,90.5 L221.6,90.2 L222.2,89.9 L222.8,89.5 L223.4,89.2 L224.0,88.9 L224.5,88.6 L225.1,88.3 L225.7,88.0 L226.3,87.7 L226.9,87.4 L227.5,87.1 L228.0,86.8 L228.6,86.5 L229.2,86.2 L229.8,86.0 L230.4,85.7 L231.0,85.4 L231.6,85.1 L232.2,84.8 L232.8,84.5 L233.4,84.3 L234.0,84.0 L234.5,83.7 L235.1,83.4 L235.7,83.1 L236.3,82.9 L236.9,82.6 L237.5,82.3 L238.1,82.1 L238.7,81.8 L239.3,81.5 L239.9,81.3 L240.5,81.0 L241.1,80.8 L241.7,80.5 L242.3,80.2 L242.9,80.0 L243.5,79.7 L244.1,79.5 L244.7,79.2 L245.3,79.0 L246.0,78.7 L246.6,78.5 L247.2,78.2 L247.8,78.0 L248.4,77.8 L249.0,77.5 L249.6,77.3 L250.2,77.0 L250.8,76.8 L251.4,76.6 L252.0,76.3 L252.7,76.1 L253.3,75.9 L253.9,75.7 L254.5,75.4 L255.1,75.2 L255.7,75.0 L256.3,74.8 L257.0,74.5 L257.6,74.3 L258.2,74.1 L258.8,73.9 L259.4,73.7 L260.1,73.5 L260.7,73.3 L261.3,73.0 L261.9,72.8 L262.5,72.6 L263.2,72.4 L263.8,72.2 L264.4,72.0 L265.0,71.8 L265.6,71.6 L266.3,71.4 L266.9,71.2 L267.5,71.0 L268.1,70.8 L268.8,70.6 L269.4,70.5 L270.0,70.3 L270.6,70.1 L271.3,69.9 L271.9,69.7 L272.5,69.5 L273.2,69.3 L273.8,69.2 L274.4,69.0 L275.1,68.8 L275.7,68.6 L276.3,68.4 L276.9,68.3 L277.6,68.1 L278.2,67.9 L278.8,67.8 L279.5,67.6 L280.1,67.4 L280.7,67.2 L281.4,67.1 L282.0,66.9 L282.7,66.8 L283.3,66.6 L283.9,66.4 L284.6,66.3 L285.2,66.1 L285.8,66.0 L286.5,65.8 L287.1,65.7 L287.8,65.5 L288.4,65.4 L289.0,65.2 L289.7,65.1 L290.3,64.9 L291.0,64.8 L291.6,64.6 L292.2,64.5 L292.9,64.3 L293.5,64.2 L294.2,64.1 L294.8,63.9 L295.4,63.8 L296.1,63.6 L296.7,63.5 L297.4,63.4 L298.0,63.2 L298.7,63.1 L299.3,63.0 L300.0,62.9 L300.6,62.7 L301.3,62.6 L301.9,62.5 L302.5,62.4 L303.2,62.2 L303.8,62.1 L304.5,62.0 L305.1,61.9 L305.8,61.8 L306.4,61.6 L307.1,61.5 L307.7,61.4 L308.4,61.3 L309.0,61.2 L309.7,61.1 L310.3,61.0 L311.0,60.9 L311.6,60.8 L312.3,60.7 L312.9,60.6 L313.6,60.5 L314.2,60.3 L314.9,60.2 L315.5,60.1 L316.2,60.1 L316.8,60.0 L317.5,59.9 L318.1,59.8 L318.8,59.7 L319.5,59.6 L320.1,59.5 L320.8,59.4 L321.4,59.3 L322.1,59.2 L322.7,59.1 L323.4,59.0 L324.0,59.0 L324.7,58.9 L325.3,58.8 L326.0,58.7 L326.7,58.6 L327.3,58.6 L328.0,58.5 L328.6,58.4 L329.3,58.3 L329.9,58.2 L330.6,58.2 L331.2,58.1 L331.9,58.0 L332.6,58.0 L333.2,57.9 L333.9,57.8 L334.5,57.7 L335.2,57.7 L335.8,57.6 L336.5,57.5 L337.2,57.5 L337.8,57.4 L338.5,57.4 L339.1,57.3 L339.8,57.2 L340.4,57.2 L341.1,57.1 L341.8,57.1 L342.4,57.0 L343.1,57.0 L343.7,56.9 L344.4,56.9 L345.1,56.8 L345.7,56.7 L346.4,56.7 L347.0,56.6 L347.7,56.6 L348.4,56.6 L349.0,56.5 L349.7,56.5 L350.3,56.4 L351.0,56.4 L351.7,56.3 L352.3,56.3 L353.0,56.3 L353.6,56.2 L354.3,56.2 L355.0,56.1 L355.6,56.1 L356.3,56.1 L356.9,56.0 L357.6,56.0 L358.3,56.0 L358.9,55.9 L359.6,55.9 L360.2,55.9 L360.9,55.8 L361.5,55.8 L362.2,55.8 L362.9,55.8 L363.5,55.7 L364.2,55.7 L364.8,55.7 L365.5,55.7 L366.2,55.6 L366.8,55.6 L367.5,55.6 L368.1,55.6 L368.8,55.6 L369.5,55.5 L370.1,55.5 L370.8,55.5 L371.4,55.5 L372.1,55.5 L372.8,55.5 L373.4,55.5 L374.1,55.4 L374.7,55.4 L375.4,55.4 L376.1,55.4 L376.7,55.4 L377.4,55.4 L378.0,55.4" stroke="#F08228" stroke-width="4.8"/><path d="M97.5,343.9 L99.0,345.7 L100.5,346.0 L102.0,346.6 L103.5,346.5 L105.0,346.9 L106.5,346.9 L108.0,346.8 L109.5,346.9 L111.0,346.9 L112.5,347.3 L114.0,347.0 L115.5,347.0 L117.0,347.9 L118.5,347.6 L120.0,346.9 L121.5,347.3 L123.0,347.5 L124.5,348.1 L126.0,347.9 L127.5,348.2 L129.0,347.7 L130.5,348.2 L132.0,348.7 L133.5,348.5 L135.0,348.4 L136.5,348.1 L137.6,347.9 L138.6,347.4 L139.4,346.7 L139.9,345.7 L140.0,344.6 L140.3,344.2 L140.3,343.6 L140.4,342.9 L140.4,342.2 L140.5,341.6 L140.5,340.9 L140.6,340.3 L140.6,339.6 L140.7,338.9 L140.7,338.3 L140.8,337.6 L140.9,336.9 L140.9,336.3 L141.0,335.6 L141.0,334.9 L141.1,334.3 L141.1,333.6 L141.2,332.9 L141.3,332.3 L141.3,331.6 L141.4,330.9 L141.5,330.3 L141.5,329.6 L141.6,328.9 L141.6,328.3 L141.7,327.6 L141.8,327.0 L141.8,326.3 L141.9,325.6 L142.0,325.0 L142.0,324.3 L142.1,323.6 L142.2,323.0 L142.2,322.3 L142.3,321.6 L142.4,321.0 L142.4,320.3 L142.5,319.6 L142.6,319.0 L142.6,318.3 L142.7,317.6 L142.8,317.0 L142.9,316.3 L142.9,315.7 L143.0,315.0 L143.1,314.3 L143.1,313.7 L143.2,313.0 L143.3,312.3 L143.4,311.7 L143.4,311.0 L143.5,310.3 L143.6,309.7 L143.7,309.0 L143.7,308.3 L143.8,307.7 L143.9,307.0 L144.0,306.3 L144.0,305.7 L144.1,305.0 L144.2,304.4 L144.3,303.7 L144.3,303.0 L144.4,302.4 L144.5,301.7 L144.6,301.0 L144.7,300.4 L144.7,299.7 L144.8,299.0 L144.9,298.4 L145.0,297.7 L145.0,297.0 L145.1,296.4 L145.2,295.7 L145.3,295.0 L145.4,294.4 L145.4,293.7 L145.5,293.1 L145.6,292.4 L145.7,291.7 L145.7,291.1 L145.8,290.4 L145.9,289.7 L146.0,289.1 L146.0,288.4 L146.1,287.7 L146.2,287.1 L146.3,286.4 L146.3,285.7 L146.4,285.1 L146.5,284.4 L146.6,283.7 L146.6,283.1 L146.7,282.4 L146.8,281.7 L146.9,281.1 L146.9,280.4 L147.0,279.7 L147.1,279.1 L147.1,278.4 L147.2,277.7 L147.3,277.1 L147.4,276.4 L147.4,275.7 L147.5,275.1 L147.6,274.4 L147.7,273.7 L147.7,273.1 L147.8,272.4 L147.9,271.7 L147.9,271.1 L148.0,270.4 L148.1,269.7 L148.2,269.1 L148.2,268.4 L148.3,267.7 L148.4,267.1 L148.4,266.4 L148.5,265.7 L148.6,265.1 L148.7,264.4 L148.7,263.7 L148.8,263.1 L148.9,262.4 L149.0,261.7 L149.0,261.1 L149.1,260.4 L149.2,259.7 L149.3,259.1 L149.3,258.4 L149.4,257.7 L149.5,257.1 L149.5,256.4 L149.6,255.7 L149.7,255.1 L149.8,254.4 L149.8,253.7 L149.9,253.1 L150.0,252.4 L150.1,251.7 L150.1,251.1 L150.2,250.4 L150.3,249.7 L150.4,249.1 L150.4,248.4 L150.5,247.7 L150.6,247.1 L150.7,246.4 L150.7,245.8 L150.8,245.1 L150.9,244.4 L151.0,243.8 L151.1,243.1 L151.1,242.4 L151.2,241.8 L151.3,241.1 L151.4,240.4 L151.4,239.8 L151.5,239.1 L151.6,238.4 L151.7,237.8 L151.8,237.1 L151.8,236.4 L151.9,235.8 L152.0,235.1 L152.1,234.4 L152.2,233.8 L152.3,233.1 L152.3,232.5 L152.4,231.8 L152.5,231.1 L152.6,230.5 L152.7,229.8 L152.7,229.1 L152.8,228.5 L152.9,227.8 L153.0,227.1 L153.1,226.5 L153.1,225.8 L153.2,225.1 L153.3,224.5 L153.4,223.8 L153.5,223.2 L153.5,222.5 L153.6,221.8 L153.7,221.2 L153.8,220.5 L153.9,219.8 L153.9,219.2 L154.0,218.5 L154.1,217.8 L154.2,217.2 L154.3,216.5 L154.4,215.8 L154.4,215.2 L154.5,214.5 L154.6,213.9 L154.7,213.2 L154.8,212.5 L154.8,211.9 L154.9,211.2 L155.0,210.5 L155.1,209.9 L155.2,209.2 L155.3,208.5 L155.3,207.9 L155.4,207.2 L155.5,206.5 L155.6,205.9 L155.7,205.2 L155.8,204.6 L155.9,203.9 L155.9,203.2 L156.0,202.6 L156.1,201.9 L156.2,201.2 L156.3,200.6 L156.4,199.9 L156.5,199.2 L156.6,198.6 L156.7,197.9 L156.8,197.2 L156.9,196.6 L157.0,195.9 L157.1,195.3 L157.2,194.6 L157.3,193.9 L157.5,193.3 L157.6,192.6 L157.7,191.9 L157.9,191.3 L158.0,190.6 L158.2,190.0 L158.3,189.3 L158.5,188.7 L158.6,188.0 L158.8,187.3 L158.9,186.7 L159.1,186.0 L159.3,185.4 L159.4,184.7 L159.6,184.0 L159.8,183.4 L160.0,182.7 L160.1,182.1 L160.3,181.4 L160.5,180.8 L160.7,180.1 L160.9,179.5 L161.1,178.8 L161.3,178.2 L161.5,177.5 L161.7,176.9 L161.9,176.2 L162.1,175.6 L162.3,174.9 L162.5,174.3 L162.7,173.6 L162.9,173.0 L163.1,172.3 L163.3,171.7 L163.5,171.1 L163.8,170.4 L164.0,169.8 L164.2,169.1 L164.4,168.5 L164.7,167.9 L164.9,167.2 L165.1,166.6 L165.4,166.0 L165.6,165.4 L165.8,164.7 L166.1,164.1 L166.3,163.5 L166.5,162.9 L166.8,162.3 L167.0,161.6 L167.3,161.0 L167.5,160.4 L167.8,159.8 L168.0,159.2 L168.3,158.6 L168.5,158.0 L168.8,157.4 L169.0,156.8 L169.3,156.2 L169.5,155.6 L169.8,155.1 L170.0,154.5 L170.3,153.9 L170.6,153.3 L170.8,152.7 L171.1,152.2 L171.3,151.6 L171.6,151.0 L171.9,150.4 L172.1,149.9 L172.4,149.3 L172.7,148.8 L172.9,148.2 L173.2,147.7 L173.5,147.1 L173.7,146.6 L174.0,146.0 L174.3,145.5 L174.6,144.9 L174.8,144.4 L175.1,143.9 L175.4,143.3 L175.6,142.8 L175.9,142.3 L176.2,141.7 L176.5,141.2 L176.8,140.7 L177.0,140.2 L177.3,139.7 L177.6,139.1 L177.9,138.6 L178.2,138.1 L178.4,137.6 L178.7,137.1 L179.0,136.6 L179.3,136.1 L179.6,135.6 L179.9,135.1 L180.1,134.6 L180.4,134.1 L180.7,133.6 L181.0,133.1 L181.3,132.6 L181.6,132.1 L181.9,131.6 L182.2,131.1 L182.5,130.6 L182.8,130.1 L183.1,129.6 L183.4,129.1 L183.7,128.6 L184.0,128.1 L184.3,127.6 L184.6,127.2 L184.9,126.7 L185.2,126.2 L185.6,125.7 L185.9,125.3 L186.2,124.8 L186.6,124.3 L186.9,123.9 L187.2,123.4 L187.6,123.0 L187.9,122.5 L188.3,122.1 L188.6,121.6 L189.0,121.2 L189.4,120.7 L189.7,120.3 L190.1,119.9 L190.5,119.4 L190.8,119.0 L191.2,118.6 L191.6,118.1 L192.0,117.7 L192.4,117.3 L192.8,116.9 L193.1,116.5 L193.5,116.1 L193.9,115.6 L194.3,115.2 L194.8,114.8 L195.2,114.4 L195.6,114.0 L196.0,113.6 L196.4,112.8 L196.8,113.6 L197.3,113.0 L197.7,113.4 L198.1,113.3 L198.6,113.5 L199.0,113.2 L199.5,113.2 L199.9,112.6 L200.4,112.3 L200.9,112.1 L201.3,112.0 L201.8,111.6 L202.3,111.7 L202.7,111.7 L203.2,111.7 L203.7,111.3 L204.2,110.4 L204.7,111.0 L205.2,111.0 L205.7,111.1 L206.2,110.7 L206.7,110.1 L207.2,109.9 L207.7,110.9 L208.2,110.8 L208.7,111.7 L209.2,112.3 L209.7,111.5 L210.2,112.5 L210.8,113.0 L211.3,113.5 L211.8,113.9 L212.3,114.3 L212.9,114.7 L213.4,114.5 L214.0,114.3 L214.5,112.6 L215.0,111.5 L215.6,109.8 L216.1,108.7 L216.7,107.3 L217.2,105.6 L217.8,104.1 L218.3,102.7 L218.9,103.4 L219.4,104.4 L220.0,105.2 L220.6,106.5 L221.1,107.2 L221.7,108.2 L222.3,107.1 L222.8,107.7 L223.4,106.8 L224.0,106.5 L224.5,106.5 L225.1,106.0 L225.7,106.1 L226.2,105.5 L226.8,105.0 L227.4,104.8 L227.9,105.4 L228.5,104.6 L229.1,103.8 L229.7,104.0 L230.2,103.7 L230.8,105.3 L231.4,104.3 L232.0,105.4 L232.5,105.7 L233.1,105.2 L233.7,105.5 L234.3,102.3 L234.9,98.6 L235.4,95.0 L236.0,94.3 L236.6,93.8 L237.2,93.7 L237.8,93.3 L238.4,93.4 L238.9,92.6 L239.5,93.1 L240.1,92.5 L240.7,92.0 L241.3,92.4 L241.9,92.8 L242.5,92.3 L243.1,91.5 L243.6,91.8 L244.2,91.1 L244.8,91.1 L245.4,91.0 L246.0,89.8 L246.6,90.6 L247.2,89.9 L247.8,89.9 L248.4,89.3 L249.0,88.7 L249.6,88.3 L250.2,88.4 L250.8,88.1 L251.4,86.9 L252.0,86.7 L252.6,85.5 L253.2,84.3 L253.8,84.6 L254.4,84.6 L255.0,84.1 L255.6,84.2 L256.2,84.2 L256.8,83.5 L257.4,83.1 L258.0,83.4 L258.6,83.3 L259.2,83.1 L259.8,83.5 L260.4,83.6 L261.0,82.6 L261.6,82.9 L262.2,82.9 L262.9,82.6 L263.5,82.6 L264.1,81.9 L264.7,82.0 L265.3,82.1 L265.9,81.3 L266.5,80.3 L267.1,80.4 L267.7,80.3 L268.4,79.5 L269.0,78.8 L269.6,79.2 L270.2,77.7 L270.8,78.1 L271.4,77.5 L272.1,76.6 L272.7,77.2 L273.3,76.4 L273.9,75.5 L274.5,75.8 L275.1,75.2 L275.8,74.9 L276.4,74.7 L277.0,74.4 L277.6,74.1 L278.2,73.9 L278.9,73.6 L279.5,73.4 L280.1,73.1 L280.7,72.9 L281.4,72.7 L282.0,72.4 L282.6,72.2 L283.2,72.0 L283.9,71.8 L284.5,71.6 L285.1,71.4 L285.7,71.2 L286.4,71.0 L287.0,70.8 L287.6,70.6 L288.3,70.4 L288.9,70.3 L289.5,70.1 L290.1,70.0 L290.8,69.8 L291.4,69.7 L292.0,69.5 L292.7,69.4 L293.3,69.3 L293.9,69.1 L294.6,69.0 L295.2,68.8 L295.8,68.7 L296.5,68.6 L297.1,68.4 L297.7,68.3 L298.4,68.2 L299.0,68.0 L299.6,67.9 L300.3,67.8 L300.9,67.7 L301.5,67.5 L302.2,67.4 L302.8,67.3 L303.5,67.2 L304.1,67.1 L304.7,66.9 L305.4,66.8 L306.0,66.7 L306.6,66.6 L307.3,66.5 L307.9,66.4 L308.6,66.2 L309.2,66.1 L309.8,66.0 L310.5,65.9 L311.1,65.8 L311.8,65.7 L312.4,65.6 L313.1,65.5 L313.7,65.4 L314.3,65.3 L315.0,65.2 L315.6,65.1 L316.3,65.0 L316.9,64.9 L317.6,64.8 L318.2,64.7 L318.8,64.6 L319.5,64.5 L320.1,64.4 L320.8,64.3 L321.4,64.2 L322.1,64.2 L322.7,64.1 L323.4,64.0 L324.0,63.9 L324.7,63.8 L325.3,63.7 L326.0,63.7 L326.6,63.6 L327.2,63.5 L327.9,63.4 L328.5,63.3 L329.2,63.3 L329.8,63.2 L330.5,63.1 L331.1,63.0 L331.8,63.0 L332.4,62.9 L333.1,62.8 L333.7,62.8 L334.4,62.7 L335.0,62.6 L335.7,62.6 L336.3,62.5 L337.0,62.4 L337.6,62.4 L338.3,62.3 L338.9,62.2 L339.6,62.2 L340.2,62.1 L340.9,62.1 L341.5,62.0 L342.2,61.9 L342.8,61.9 L343.5,61.8 L344.1,61.8 L344.8,61.7 L345.4,61.7 L346.1,61.6 L346.7,61.6 L347.4,61.5 L348.0,61.5 L348.7,61.4 L349.4,61.4 L350.0,61.4 L350.7,61.3 L351.3,61.3 L352.0,61.2 L352.6,61.2 L353.3,61.1 L353.9,61.1 L354.6,61.1 L355.2,61.0 L355.9,61.0 L356.5,61.0 L357.2,60.9 L357.8,60.9 L358.5,60.9 L359.1,60.8 L359.8,60.8 L360.5,60.8 L361.1,60.7 L361.8,60.7 L362.4,60.7 L363.1,60.7 L363.7,60.6 L364.4,60.6 L365.0,60.6 L365.7,60.6 L366.3,60.5 L367.0,60.5 L367.6,60.5 L368.3,60.5 L368.9,60.5 L369.6,60.4 L370.2,60.4 L370.9,60.4 L371.6,60.4 L372.2,60.4 L372.9,60.4 L373.5,60.4 L374.2,60.3 L374.8,60.3 L375.5,60.3 L376.1,60.3 L376.8,60.3 L377.4,60.3 L378.1,60.3" stroke="#E6D22D" stroke-width="4.8"/><path d="M96.9,340.0 L98.4,341.5 L99.9,342.8 L101.4,342.2 L102.9,342.8 L104.4,342.7 L105.9,343.0 L107.4,342.9 L108.9,343.1 L110.4,343.0 L111.9,343.2 L113.4,343.5 L114.9,343.0 L116.4,343.0 L117.9,343.5 L119.4,343.5 L120.9,343.6 L122.4,344.0 L123.9,343.8 L125.4,344.2 L126.9,344.3 L128.4,344.5 L129.9,344.8 L131.4,344.8 L132.9,344.7 L134.4,344.5 L135.9,344.9 L137.4,344.3 L138.5,344.1 L139.5,343.6 L140.3,342.9 L140.8,341.9 L140.9,340.8 L141.2,340.3 L141.2,339.6 L141.3,339.0 L141.3,338.3 L141.4,337.6 L141.5,337.0 L141.5,336.3 L141.6,335.6 L141.6,335.0 L141.7,334.3 L141.7,333.7 L141.8,333.0 L141.9,332.3 L141.9,331.7 L142.0,331.0 L142.0,330.3 L142.1,329.7 L142.2,329.0 L142.2,328.3 L142.3,327.7 L142.4,327.0 L142.4,326.3 L142.5,325.7 L142.6,325.0 L142.6,324.4 L142.7,323.7 L142.8,323.0 L142.8,322.4 L142.9,321.7 L143.0,321.0 L143.0,320.4 L143.1,319.7 L143.2,319.0 L143.2,318.4 L143.3,317.7 L143.4,317.0 L143.4,316.4 L143.5,315.7 L143.6,315.1 L143.7,314.4 L143.7,313.7 L143.8,313.1 L143.9,312.4 L144.0,311.7 L144.0,311.1 L144.1,310.4 L144.2,309.7 L144.3,309.1 L144.3,308.4 L144.4,307.7 L144.5,307.1 L144.6,306.4 L144.6,305.8 L144.7,305.1 L144.8,304.4 L144.9,303.8 L144.9,303.1 L145.0,302.4 L145.1,301.8 L145.2,301.1 L145.3,300.4 L145.3,299.8 L145.4,299.1 L145.5,298.4 L145.6,297.8 L145.6,297.1 L145.7,296.4 L145.8,295.8 L145.9,295.1 L145.9,294.5 L146.0,293.8 L146.1,293.1 L146.2,292.5 L146.2,291.8 L146.3,291.1 L146.4,290.5 L146.5,289.8 L146.5,289.1 L146.6,288.5 L146.7,287.8 L146.8,287.1 L146.8,286.5 L146.9,285.8 L147.0,285.1 L147.0,284.5 L147.1,283.8 L147.2,283.1 L147.3,282.5 L147.3,281.8 L147.4,281.1 L147.5,280.5 L147.5,279.8 L147.6,279.1 L147.7,278.5 L147.8,277.8 L147.8,277.1 L147.9,276.5 L148.0,275.8 L148.0,275.1 L148.1,274.5 L148.2,273.8 L148.2,273.1 L148.3,272.5 L148.4,271.8 L148.5,271.1 L148.5,270.5 L148.6,269.8 L148.7,269.1 L148.7,268.5 L148.8,267.8 L148.9,267.1 L148.9,266.5 L149.0,265.8 L149.1,265.1 L149.1,264.5 L149.2,263.8 L149.3,263.1 L149.4,262.5 L149.4,261.8 L149.5,261.1 L149.6,260.5 L149.6,259.8 L149.7,259.1 L149.8,258.5 L149.8,257.8 L149.9,257.1 L150.0,256.5 L150.1,255.8 L150.1,255.1 L150.2,254.5 L150.3,253.8 L150.3,253.1 L150.4,252.5 L150.5,251.8 L150.6,251.1 L150.6,250.5 L150.7,249.8 L150.8,249.1 L150.9,248.5 L150.9,247.8 L151.0,247.1 L151.1,246.5 L151.2,245.8 L151.2,245.1 L151.3,244.5 L151.4,243.8 L151.5,243.1 L151.5,242.5 L151.6,241.8 L151.7,241.1 L151.8,240.5 L151.8,239.8 L151.9,239.1 L152.0,238.5 L152.1,237.8 L152.2,237.2 L152.2,236.5 L152.3,235.8 L152.4,235.2 L152.5,234.5 L152.6,233.8 L152.7,233.2 L152.7,232.5 L152.8,231.8 L152.9,231.2 L153.0,230.5 L153.1,229.8 L153.1,229.2 L153.2,228.5 L153.3,227.8 L153.4,227.2 L153.5,226.5 L153.5,225.9 L153.6,225.2 L153.7,224.5 L153.8,223.9 L153.9,223.2 L153.9,222.5 L154.0,221.9 L154.1,221.2 L154.2,220.5 L154.3,219.9 L154.3,219.2 L154.4,218.6 L154.5,217.9 L154.6,217.2 L154.7,216.6 L154.8,215.9 L154.8,215.2 L154.9,214.6 L155.0,213.9 L155.1,213.2 L155.2,212.6 L155.2,211.9 L155.3,211.2 L155.4,210.6 L155.5,209.9 L155.6,209.3 L155.7,208.6 L155.7,207.9 L155.8,207.3 L155.9,206.6 L156.0,205.9 L156.1,205.3 L156.2,204.6 L156.2,203.9 L156.3,203.3 L156.4,202.6 L156.5,201.9 L156.6,201.3 L156.7,200.6 L156.8,199.9 L156.9,199.3 L157.0,198.6 L157.1,198.0 L157.2,197.3 L157.3,196.6 L157.4,196.0 L157.5,195.3 L157.6,194.6 L157.8,194.0 L157.9,193.3 L158.0,192.7 L158.2,192.0 L158.3,191.3 L158.4,190.7 L158.6,190.0 L158.8,189.4 L158.9,188.7 L159.1,188.1 L159.2,187.4 L159.4,186.7 L159.6,186.1 L159.7,185.4 L159.9,184.8 L160.1,184.1 L160.3,183.5 L160.5,182.8 L160.7,182.2 L160.8,181.5 L161.0,180.9 L161.2,180.2 L161.4,179.5 L161.6,178.9 L161.8,178.2 L162.0,177.6 L162.2,176.9 L162.5,176.3 L162.7,175.7 L162.9,175.0 L163.1,174.4 L163.3,173.7 L163.5,173.1 L163.8,172.4 L164.0,171.8 L164.2,171.2 L164.5,170.5 L164.7,169.9 L164.9,169.3 L165.2,168.6 L165.4,168.0 L165.6,167.4 L165.9,166.8 L166.1,166.1 L166.4,165.5 L166.6,164.9 L166.8,164.3 L167.1,163.7 L167.3,163.0 L167.6,162.4 L167.8,161.8 L168.1,161.2 L168.4,160.6 L168.6,160.0 L168.9,159.4 L169.1,158.8 L169.4,158.2 L169.7,157.6 L169.9,157.0 L170.2,156.5 L170.4,155.9 L170.7,155.3 L171.0,154.7 L171.2,154.1 L171.5,153.6 L171.8,153.0 L172.0,152.4 L172.3,151.9 L172.6,151.3 L172.9,150.7 L173.1,150.2 L173.4,149.6 L173.7,149.1 L173.9,148.5 L174.2,148.0 L174.5,147.4 L174.8,146.9 L175.0,146.4 L175.3,145.8 L175.6,145.3 L175.9,144.8 L176.1,144.3 L176.4,143.7 L176.7,143.2 L177.0,142.7 L177.3,142.2 L177.5,141.7 L177.8,141.2 L178.1,140.6 L178.4,140.1 L178.7,139.6 L178.9,139.1 L179.2,138.6 L179.5,138.1 L179.8,137.6 L180.1,137.1 L180.3,136.6 L180.6,136.1 L180.9,135.6 L181.2,135.1 L181.5,134.6 L181.8,134.1 L182.1,133.6 L182.3,133.1 L182.6,132.6 L182.9,132.2 L183.2,131.7 L183.5,131.2 L183.8,130.7 L184.1,130.2 L184.4,129.7 L184.7,129.2 L185.0,128.8 L185.3,128.3 L185.6,127.8 L185.9,127.4 L186.2,126.9 L186.6,126.4 L186.9,126.0 L187.2,125.5 L187.5,125.0 L187.9,124.6 L188.2,124.1 L188.5,123.7 L188.9,123.3 L189.2,122.8 L189.6,122.4 L189.9,121.9 L190.3,121.5 L190.6,121.1 L191.0,120.6 L191.4,120.2 L191.7,119.8 L192.1,119.4 L192.5,118.9 L192.9,118.5 L193.2,118.1 L193.6,117.7 L194.0,117.3 L194.4,116.9 L194.8,116.5 L195.2,116.1 L195.6,115.7 L196.0,115.3 L196.4,114.9 L196.8,114.5 L197.2,114.1 L197.7,113.7 L198.1,113.4 L198.5,113.0 L198.9,112.6 L199.4,112.2 L199.8,111.8 L200.3,111.5 L200.7,111.1 L201.2,110.7 L201.6,110.3 L202.1,110.0 L202.5,109.6 L203.0,109.2 L203.5,108.9 L203.9,108.5 L204.4,108.1 L204.9,107.8 L205.4,107.4 L205.9,107.1 L206.4,106.7 L206.9,106.4 L207.3,106.0 L207.8,105.7 L208.3,105.3 L208.9,105.0 L209.4,104.6 L209.9,104.3 L210.4,103.9 L210.9,103.6 L211.4,103.2 L211.9,102.9 L212.5,102.6 L213.0,102.2 L213.5,101.9 L214.1,101.6 L214.6,101.2 L215.1,99.7 L215.7,99.4 L216.2,99.3 L216.7,98.7 L217.3,99.0 L217.8,99.9 L218.4,98.3 L218.9,98.7 L219.5,98.4 L220.0,98.5 L220.6,97.8 L221.2,97.8 L221.7,98.2 L222.3,97.8 L222.8,98.1 L223.4,97.1 L224.0,97.1 L224.5,97.5 L225.1,96.0 L225.7,95.6 L226.2,95.3 L226.8,94.8 L227.4,94.6 L227.9,93.8 L228.5,93.0 L229.1,92.8 L229.6,93.0 L230.2,92.1 L230.8,90.5 L231.4,90.9 L231.9,90.3 L232.5,90.4 L233.1,89.9 L233.6,90.3 L234.2,89.9 L234.8,89.7 L235.4,89.4 L236.0,89.3 L236.5,89.4 L237.1,89.6 L237.7,89.4 L238.3,89.1 L238.9,89.5 L239.4,89.1 L240.0,88.9 L240.6,88.5 L241.2,88.4 L241.8,88.1 L242.4,87.2 L242.9,88.0 L243.5,87.4 L244.1,86.8 L244.7,86.7 L245.3,86.0 L245.9,85.5 L246.5,84.2 L247.1,84.4 L247.7,84.1 L248.2,84.0 L248.8,83.7 L249.4,83.2 L250.0,82.1 L250.6,81.6 L251.2,82.2 L251.8,81.9 L252.4,82.1 L253.0,81.7 L253.6,81.8 L254.2,81.3 L254.8,81.9 L255.4,81.6 L256.0,81.9 L256.6,81.9 L257.2,81.7 L257.8,81.8 L258.4,81.6 L259.0,81.7 L259.6,81.4 L260.2,80.9 L260.8,80.6 L261.4,80.9 L262.0,80.0 L262.6,79.9 L263.2,79.3 L263.8,78.5 L264.5,78.0 L265.1,77.8 L265.7,77.4 L266.3,77.1 L266.9,76.2 L267.5,76.1 L268.1,76.0 L268.7,76.3 L269.3,75.0 L269.9,75.8 L270.6,75.4 L271.2,75.7 L271.8,75.5 L272.4,75.8 L273.0,76.2 L273.6,75.9 L274.2,76.0 L274.9,76.1 L275.5,75.7 L276.1,76.1 L276.7,75.8 L277.3,75.4 L277.9,75.5 L278.6,75.2 L279.2,75.2 L279.8,74.6 L280.4,74.1 L281.0,74.3 L281.7,73.7 L282.3,73.4 L282.9,72.8 L283.5,72.2 L284.2,71.7 L284.8,71.4 L285.4,71.5 L286.0,71.0 L286.7,70.4 L287.3,70.7 L287.9,70.3 L288.5,70.8 L289.2,70.4 L289.8,70.5 L290.4,71.0 L291.0,71.0 L291.7,70.7 L292.3,71.5 L292.9,72.0 L293.6,71.0 L294.2,71.9 L294.8,71.1 L295.4,71.1 L296.1,71.0 L296.7,70.6 L297.3,71.4 L298.0,71.1 L298.6,70.6 L299.2,70.5 L299.9,70.0 L300.5,70.1 L301.1,70.3 L301.8,69.3 L302.4,69.5 L303.0,69.6 L303.7,69.7 L304.3,69.8 L304.9,69.2 L305.6,69.1 L306.2,69.5 L306.9,69.4 L307.5,69.5 L308.1,70.0 L308.8,70.3 L309.4,70.0 L310.0,69.9 L310.7,70.2 L311.3,69.4 L312.0,69.8 L312.6,69.4 L313.2,70.2 L313.9,69.4 L314.5,68.8 L315.2,68.3 L315.8,67.1 L316.4,67.5 L317.1,67.2 L317.7,65.9 L318.4,65.9 L319.0,65.5 L319.7,64.5 L320.3,65.0 L320.9,64.9 L321.6,64.3 L322.2,64.1 L322.9,64.3 L323.5,63.6 L324.2,64.2 L324.8,64.6 L325.5,64.0 L326.1,64.9 L326.7,64.6 L327.4,64.3 L328.0,65.1 L328.7,65.0 L329.3,65.5 L330.0,65.1 L330.6,64.3 L331.3,64.2 L331.9,64.2 L332.6,64.1 L333.2,64.0 L333.9,63.9 L334.5,63.9 L335.2,63.8 L335.8,63.7 L336.4,63.7 L337.1,63.6 L337.7,63.6 L338.4,63.5 L339.0,63.4 L339.7,63.4 L340.3,63.3 L341.0,63.3 L341.6,63.2 L342.3,63.1 L342.9,63.1 L343.6,63.0 L344.2,63.0 L344.9,62.9 L345.5,62.9 L346.2,62.8 L346.8,62.8 L347.5,62.7 L348.1,62.7 L348.8,62.6 L349.4,62.6 L350.1,62.6 L350.7,62.5 L351.4,62.5 L352.0,62.4 L352.7,62.4 L353.3,62.3 L354.0,62.3 L354.6,62.3 L355.3,62.2 L355.9,62.2 L356.6,62.2 L357.2,62.1 L357.9,62.1 L358.5,62.1 L359.2,62.0 L359.9,62.0 L360.5,62.0 L361.2,61.9 L361.8,61.9 L362.5,61.9 L363.1,61.9 L363.8,61.8 L364.4,61.8 L365.1,61.8 L365.7,61.8 L366.4,61.7 L367.0,61.7 L367.7,61.7 L368.3,61.7 L369.0,61.7 L369.6,61.6 L370.3,61.6 L370.9,61.6 L371.6,61.6 L372.2,61.6 L372.9,61.6 L373.5,61.6 L374.2,61.5 L374.8,61.5 L375.5,61.5 L376.1,61.5 L376.8,61.5 L377.4,61.5 L378.1,61.5" stroke="#AADD33" stroke-width="4.8"/><path d="M96.4,333.0 L97.9,334.0 L99.4,335.1 L100.9,335.6 L102.4,335.4 L103.9,335.6 L105.4,335.6 L106.9,335.3 L108.4,335.6 L109.9,335.6 L111.4,335.4 L112.9,335.4 L114.4,335.5 L115.9,336.0 L117.4,336.0 L118.9,336.4 L120.4,336.7 L121.9,336.3 L123.4,336.7 L124.9,337.0 L126.4,337.4 L127.9,337.1 L129.4,337.2 L130.9,337.5 L132.4,337.3 L133.9,337.8 L135.4,337.0 L136.5,336.8 L137.5,336.3 L138.3,335.6 L138.8,334.6 L138.9,333.5 L139.2,333.4 L139.2,332.8 L139.3,332.1 L139.3,331.4 L139.4,330.8 L139.5,330.1 L139.5,329.4 L139.6,328.8 L139.6,328.1 L139.7,327.4 L139.8,326.8 L139.8,326.1 L139.9,325.4 L140.0,324.8 L140.0,324.1 L140.1,323.4 L140.2,322.8 L140.2,322.1 L140.3,321.4 L140.4,320.8 L140.4,320.1 L140.5,319.4 L140.6,318.8 L140.6,318.1 L140.7,317.4 L140.8,316.8 L140.9,316.1 L140.9,315.4 L141.0,314.8 L141.1,314.1 L141.1,313.4 L141.2,312.8 L141.3,312.1 L141.4,311.4 L141.4,310.8 L141.5,310.1 L141.6,309.4 L141.7,308.8 L141.7,308.1 L141.8,307.5 L141.9,306.8 L142.0,306.1 L142.0,305.5 L142.1,304.8 L142.2,304.1 L142.3,303.5 L142.4,302.8 L142.4,302.1 L142.5,301.5 L142.6,300.8 L142.7,300.1 L142.8,299.5 L142.8,298.8 L142.9,298.1 L143.0,297.5 L143.1,296.8 L143.2,296.1 L143.2,295.5 L143.3,294.8 L143.4,294.1 L143.5,293.5 L143.6,292.8 L143.6,292.1 L143.7,291.5 L143.8,290.8 L143.9,290.2 L144.0,289.5 L144.1,288.8 L144.1,288.2 L144.2,287.5 L144.3,286.8 L144.4,286.2 L144.5,285.5 L144.6,284.8 L144.6,284.2 L144.7,283.5 L144.8,282.8 L144.9,282.2 L145.0,281.5 L145.1,280.8 L145.1,280.2 L145.2,279.5 L145.3,278.8 L145.4,278.2 L145.5,277.5 L145.6,276.8 L145.7,276.2 L145.7,275.5 L145.8,274.9 L145.9,274.2 L146.0,273.5 L146.1,272.9 L146.2,272.2 L146.3,271.5 L146.3,270.9 L146.4,270.2 L146.5,269.5 L146.6,268.9 L146.7,268.2 L146.8,267.5 L146.9,266.9 L146.9,266.2 L147.0,265.5 L147.1,264.9 L147.2,264.2 L147.3,263.6 L147.4,262.9 L147.5,262.2 L147.5,261.6 L147.6,260.9 L147.7,260.2 L147.8,259.6 L147.9,258.9 L148.0,258.2 L148.1,257.6 L148.1,256.9 L148.2,256.2 L148.3,255.6 L148.4,254.9 L148.5,254.2 L148.6,253.6 L148.7,252.9 L148.7,252.3 L148.8,251.6 L148.9,250.9 L149.0,250.3 L149.1,249.6 L149.2,248.9 L149.3,248.3 L149.3,247.6 L149.4,246.9 L149.5,246.3 L149.6,245.6 L149.7,244.9 L149.8,244.3 L149.8,243.6 L149.9,242.9 L150.0,242.3 L150.1,241.6 L150.2,241.0 L150.3,240.3 L150.3,239.6 L150.4,239.0 L150.5,238.3 L150.6,237.6 L150.7,237.0 L150.8,236.3 L150.8,235.6 L150.9,235.0 L151.0,234.3 L151.1,233.6 L151.2,233.0 L151.2,232.3 L151.3,231.7 L151.4,231.0 L151.5,230.3 L151.6,229.7 L151.6,229.0 L151.7,228.3 L151.8,227.7 L151.9,227.0 L152.0,226.3 L152.1,225.7 L152.1,225.0 L152.2,224.3 L152.3,223.7 L152.4,223.0 L152.5,222.4 L152.5,221.7 L152.6,221.0 L152.7,220.4 L152.8,219.7 L152.9,219.0 L152.9,218.4 L153.0,217.7 L153.1,217.0 L153.2,216.4 L153.3,215.7 L153.3,215.1 L153.4,214.4 L153.5,213.7 L153.6,213.1 L153.7,212.4 L153.8,211.7 L153.8,211.1 L153.9,210.4 L154.0,209.7 L154.1,209.1 L154.2,208.4 L154.3,207.7 L154.3,207.1 L154.4,206.4 L154.5,205.7 L154.6,205.1 L154.7,204.4 L154.8,203.7 L154.8,203.1 L154.9,202.4 L155.0,201.8 L155.1,201.1 L155.2,200.4 L155.3,199.8 L155.4,199.1 L155.5,198.4 L155.6,197.8 L155.7,197.1 L155.8,196.4 L155.9,195.8 L156.0,195.1 L156.1,194.4 L156.3,193.8 L156.4,193.1 L156.5,192.5 L156.7,191.8 L156.8,191.1 L156.9,190.5 L157.1,189.8 L157.2,189.2 L157.4,188.5 L157.6,187.8 L157.7,187.2 L157.9,186.5 L158.1,185.9 L158.2,185.2 L158.4,184.6 L158.6,183.9 L158.8,183.2 L158.9,182.6 L159.1,181.9 L159.3,181.3 L159.5,180.6 L159.7,180.0 L159.9,179.3 L160.1,178.7 L160.3,178.0 L160.5,177.4 L160.7,176.7 L160.9,176.1 L161.1,175.4 L161.3,174.8 L161.5,174.1 L161.8,173.5 L162.0,172.8 L162.2,172.2 L162.4,171.5 L162.6,170.9 L162.9,170.3 L163.1,169.6 L163.3,169.0 L163.6,168.3 L163.8,167.7 L164.0,167.1 L164.3,166.5 L164.5,165.8 L164.7,165.2 L165.0,164.6 L165.2,163.9 L165.5,163.3 L165.7,162.7 L166.0,162.1 L166.2,161.5 L166.5,160.9 L166.7,160.3 L167.0,159.6 L167.2,159.0 L167.5,158.4 L167.7,157.8 L168.0,157.2 L168.3,156.6 L168.5,156.0 L168.8,155.5 L169.1,154.9 L169.3,154.3 L169.6,153.7 L169.9,153.1 L170.1,152.5 L170.4,152.0 L170.7,151.4 L170.9,150.8 L171.2,150.2 L171.5,149.7 L171.7,149.1 L172.0,148.6 L172.3,148.0 L172.6,147.4 L172.8,146.9 L173.1,146.3 L173.4,145.8 L173.7,145.2 L173.9,144.7 L174.2,144.2 L174.5,143.6 L174.8,143.1 L175.0,142.6 L175.3,142.0 L175.6,141.5 L175.9,141.0 L176.2,140.5 L176.5,139.9 L176.7,139.4 L177.0,138.9 L177.3,138.4 L177.6,137.9 L177.9,137.3 L178.2,136.8 L178.5,136.3 L178.7,135.8 L179.0,135.3 L179.3,134.8 L179.6,134.3 L179.9,133.8 L180.2,133.3 L180.5,132.8 L180.8,132.3 L181.1,131.8 L181.4,131.3 L181.6,130.8 L181.9,130.3 L182.2,129.8 L182.5,129.3 L182.8,128.8 L183.2,128.3 L183.5,127.8 L183.8,127.3 L184.1,126.8 L184.4,126.3 L184.7,125.9 L185.1,125.4 L185.4,124.9 L185.7,124.5 L186.1,124.0 L186.4,123.5 L186.8,123.1 L187.1,122.6 L187.5,122.1 L187.8,121.7 L188.2,121.2 L188.5,120.8 L188.9,120.4 L189.3,119.9 L189.6,119.5 L190.0,119.0 L190.4,118.6 L190.8,118.2 L191.1,117.7 L191.5,117.3 L191.9,116.9 L192.3,116.5 L192.7,116.1 L193.1,115.6 L193.5,115.2 L193.9,114.8 L194.3,114.4 L194.7,114.0 L195.2,113.6 L195.6,113.2 L196.0,112.8 L196.4,112.4 L196.9,112.0 L197.3,111.6 L197.8,111.2 L198.2,110.8 L198.6,110.5 L199.1,110.1 L199.6,109.7 L200.0,109.3 L200.5,108.9 L200.9,108.6 L201.4,108.2 L201.9,107.8 L202.4,107.4 L202.9,107.1 L203.3,106.7 L203.8,106.3 L204.3,106.0 L204.8,105.6 L205.3,105.2 L205.8,104.9 L206.3,104.5 L206.8,104.2 L207.3,103.8 L207.8,103.5 L208.4,103.1 L208.9,102.8 L209.4,102.4 L209.9,102.1 L210.4,101.7 L211.0,101.4 L211.5,101.1 L212.0,100.7 L212.6,100.4 L213.1,100.0 L213.6,99.7 L214.2,99.4 L214.7,99.0 L215.3,98.5 L215.8,98.6 L216.4,97.7 L216.9,98.3 L217.5,97.4 L218.0,97.3 L218.6,96.7 L219.1,97.1 L219.7,97.0 L220.3,96.6 L220.8,96.3 L221.4,95.2 L222.0,95.1 L222.5,94.8 L223.1,94.3 L223.7,94.5 L224.2,93.9 L224.8,93.4 L225.4,93.2 L226.0,92.3 L226.5,91.9 L227.1,91.6 L227.7,91.6 L228.2,91.2 L228.8,91.0 L229.4,90.8 L230.0,89.8 L230.5,89.7 L231.1,89.7 L231.7,89.0 L232.3,89.1 L232.9,89.3 L233.4,89.2 L234.0,89.0 L234.6,88.5 L235.2,88.2 L235.8,88.5 L236.4,87.8 L236.9,87.8 L237.5,87.9 L238.1,87.2 L238.7,86.8 L239.3,86.7 L239.9,86.6 L240.5,86.3 L241.1,85.9 L241.6,85.6 L242.2,84.6 L242.8,84.5 L243.4,84.5 L244.0,83.8 L244.6,83.3 L245.2,83.0 L245.8,82.8 L246.4,82.7 L247.0,82.2 L247.6,82.3 L248.2,82.5 L248.8,81.7 L249.4,82.0 L250.0,81.5 L250.6,80.9 L251.2,81.0 L251.8,80.7 L252.4,81.1 L253.0,80.4 L253.6,81.0 L254.2,80.6 L254.8,79.7 L255.4,80.4 L256.0,80.4 L256.6,79.5 L257.2,79.8 L257.8,78.7 L258.4,79.1 L259.0,78.2 L259.6,78.6 L260.2,77.6 L260.8,77.0 L261.4,77.6 L262.1,77.9 L262.7,76.7 L263.3,76.8 L263.9,76.3 L264.5,76.0 L265.1,76.0 L265.7,76.1 L266.3,75.1 L267.0,75.4 L267.6,75.2 L268.2,74.6 L268.8,75.4 L269.4,75.4 L270.0,74.5 L270.6,75.2 L271.3,74.6 L271.9,74.4 L272.5,74.8 L273.1,74.3 L273.7,74.2 L274.4,74.4 L275.0,74.2 L275.6,73.8 L276.2,72.9 L276.8,72.6 L277.5,73.2 L278.1,72.3 L278.7,72.4 L279.3,71.7 L280.0,71.7 L280.6,71.1 L281.2,71.7 L281.8,70.7 L282.5,70.7 L283.1,70.5 L283.7,70.8 L284.3,69.9 L285.0,70.2 L285.6,70.0 L286.2,70.2 L286.9,70.1 L287.5,69.8 L288.1,69.9 L288.7,69.7 L289.4,69.9 L290.0,69.7 L290.6,69.4 L291.3,69.5 L291.9,69.6 L292.5,70.0 L293.2,69.0 L293.8,69.1 L294.4,69.2 L295.1,68.0 L295.7,67.8 L296.3,67.8 L297.0,67.8 L297.6,68.4 L298.2,67.5 L298.9,67.5 L299.5,66.9 L300.2,66.0 L300.8,65.9 L301.4,66.8 L302.1,66.4 L302.7,65.9 L303.3,66.5 L304.0,65.7 L304.6,66.5 L305.3,66.5 L305.9,65.9 L306.5,65.8 L307.2,66.3 L307.8,65.7 L308.5,66.3 L309.1,65.6 L309.7,66.2 L310.4,65.9 L311.0,65.6 L311.7,65.3 L312.3,65.5 L313.0,64.7 L313.6,64.9 L314.2,64.7 L314.9,64.8 L315.5,64.0 L316.2,64.7 L316.8,63.9 L317.5,63.5 L318.1,64.1 L318.8,64.0 L319.4,63.4 L320.1,63.1 L320.7,63.3 L321.3,63.1 L322.0,63.2 L322.6,63.7 L323.3,63.4 L323.9,63.3 L324.6,63.4 L325.2,63.3 L325.9,63.6 L326.5,63.6 L327.2,63.2 L327.8,63.3 L328.5,64.0 L329.1,63.3 L329.8,63.0 L330.4,62.5 L331.1,62.4 L331.7,62.4 L332.4,62.3 L333.0,62.2 L333.7,62.2 L334.3,62.1 L335.0,62.0 L335.6,62.0 L336.3,61.9 L336.9,61.8 L337.6,61.8 L338.2,61.7 L338.9,61.6 L339.5,61.6 L340.2,61.5 L340.8,61.5 L341.5,61.4 L342.1,61.4 L342.8,61.3 L343.4,61.2 L344.1,61.2 L344.7,61.1 L345.4,61.1 L346.0,61.0 L346.7,61.0 L347.4,60.9 L348.0,60.9 L348.7,60.8 L349.3,60.8 L350.0,60.8 L350.6,60.7 L351.3,60.7 L351.9,60.6 L352.6,60.6 L353.2,60.5 L353.9,60.5 L354.5,60.5 L355.2,60.4 L355.8,60.4 L356.5,60.4 L357.2,60.3 L357.8,60.3 L358.5,60.3 L359.1,60.2 L359.8,60.2 L360.4,60.2 L361.1,60.1 L361.7,60.1 L362.4,60.1 L363.0,60.1 L363.7,60.0 L364.3,60.0 L365.0,60.0 L365.7,60.0 L366.3,59.9 L367.0,59.9 L367.6,59.9 L368.3,59.9 L368.9,59.9 L369.6,59.8 L370.2,59.8 L370.9,59.8 L371.5,59.8 L372.2,59.8 L372.8,59.8 L373.5,59.8 L374.2,59.7 L374.8,59.7 L375.5,59.7 L376.1,59.7 L376.8,59.7 L377.4,59.7 L378.1,59.7" stroke="#00DD00" stroke-width="4.8"/></g><g font-family='"Liberation Sans", sans-serif' font-weight="bold" fill="#000"><path d="M0.43,0 V-0.716 H0.315 L0.105,-0.53 V-0.41 L0.29,-0.545 V0 Z" transform="translate(44.69,30.95) scale(27.5)"/><text x="59.98" y="30.95" font-size="27.5">0</text><text x="75.27" y="19.7" font-size="17.5">3</text><path d="M0.43,0 V-0.716 H0.315 L0.105,-0.53 V-0.41 L0.29,-0.545 V0 Z" transform="translate(44.69,77.17) scale(27.5)"/><text x="59.98" y="77.17" font-size="27.5">0</text><text x="75.27" y="65.92" font-size="17.5">2</text><path d="M0.43,0 V-0.716 H0.315 L0.105,-0.53 V-0.41 L0.29,-0.545 V0 Z" transform="translate(44.69,123.39) scale(27.5)"/><text x="59.98" y="123.39" font-size="27.5">0</text><path d="M0.43,0 V-0.716 H0.315 L0.105,-0.53 V-0.41 L0.29,-0.545 V0 Z" transform="translate(75.27,112.14) scale(17.5)"/><path d="M0.43,0 V-0.716 H0.315 L0.105,-0.53 V-0.41 L0.29,-0.545 V0 Z" transform="translate(44.69,169.61) scale(27.5)"/><text x="59.98" y="169.61" font-size="27.5">0</text><text x="75.27" y="158.36" font-size="17.5">0</text><path d="M0.43,0 V-0.716 H0.315 L0.105,-0.53 V-0.41 L0.29,-0.545 V0 Z" transform="translate(38.86,215.83) scale(27.5)"/><text x="54.15" y="215.83" font-size="27.5">0</text><text x="69.44" y="204.58" font-size="17.5">-</text><path d="M0.43,0 V-0.716 H0.315 L0.105,-0.53 V-0.41 L0.29,-0.545 V0 Z" transform="translate(75.27,204.58) scale(17.5)"/><path d="M0.43,0 V-0.716 H0.315 L0.105,-0.53 V-0.41 L0.29,-0.545 V0 Z" transform="translate(38.86,262.05) scale(27.5)"/><text x="54.15" y="262.05" font-size="27.5">0</text><text x="69.44" y="250.8" font-size="17.5">-2</text><path d="M0.43,0 V-0.716 H0.315 L0.105,-0.53 V-0.41 L0.29,-0.545 V0 Z" transform="translate(38.86,308.27) scale(27.5)"/><text x="54.15" y="308.27" font-size="27.5">0</text><text x="69.44" y="297.02" font-size="17.5">-3</text><path d="M0.43,0 V-0.716 H0.315 L0.105,-0.53 V-0.41 L0.29,-0.545 V0 Z" transform="translate(38.86,354.49) scale(27.5)"/><text x="54.15" y="354.49" font-size="27.5">0</text><text x="69.44" y="343.24" font-size="17.5">-4</text><path d="M0.43,0 V-0.716 H0.315 L0.105,-0.53 V-0.41 L0.29,-0.545 V0 Z" transform="translate(38.86,400.71) scale(27.5)"/><text x="54.15" y="400.71" font-size="27.5">0</text><text x="69.44" y="389.46" font-size="17.5">-5</text><text x="124.3" y="424.8" font-size="26.5" text-anchor="middle">-6</text><text x="179.9" y="424.8" font-size="26.5" text-anchor="middle">-4</text><text x="235.5" y="424.8" font-size="26.5" text-anchor="middle">-2</text><text x="291.1" y="424.8" font-size="26.5" text-anchor="middle">0</text><text x="346.7" y="424.8" font-size="26.5" text-anchor="middle">2</text><text x="195.4" y="454.5" font-size="28">V</text><text x="213.02" y="461.1" font-size="19">G</text><text x="226.6" y="454.5" font-size="28">(V)</text><text transform="translate(26.2,261.2) rotate(-90)" font-size="27">I<tspan font-size="18.5" dy="7">D</tspan><tspan dy="-7">(mA/mm)</tspan></text><text x="6.22" y="456.1" font-size="27.5">(a)</text><text x="246.7" y="126.2" font-size="28.5">V</text><text x="264.29" y="132.4" font-size="19.5">D</text><text x="282.17" y="126.2" font-size="27">=</text><path d="M0.43,0 V-0.716 H0.315 L0.105,-0.53 V-0.41 L0.29,-0.545 V0 Z" transform="translate(304.38,126.2) scale(27.5)"/><text x="319.67" y="126.2" font-size="27.5">0</text><text x="341.3" y="126.2" font-size="28.5">V</text></g><rect x="239.3" y="147.10000000000002" width="120.5" height="193.1" fill="#fff"/><g clip-path="url(#cai)"><line x1="274" y1="147" x2="261.4" y2="340" stroke="#EE0A96" stroke-width="2.3"/><line x1="284" y1="147" x2="271.3" y2="340" stroke="#FF3C3C" stroke-width="2.3"/><line x1="287.4" y1="147" x2="274.3" y2="340" stroke="#F08228" stroke-width="2.3"/><line x1="299.5" y1="147" x2="283.8" y2="340" stroke="#E6A832" stroke-width="2.3"/><line x1="301.8" y1="147" x2="286" y2="340" stroke="#E6D22D" stroke-width="2.3"/><line x1="303.9" y1="147" x2="289.8" y2="340" stroke="#00DD00" stroke-width="2.3"/><line x1="310.4" y1="147" x2="294.3" y2="340" stroke="#AADD33" stroke-width="2.3"/></g><g stroke="#000" fill="none"><rect x="240.5" y="148.3" width="118.1" height="190.7" stroke-width="2.5"/><line x1="240.5" y1="152.3" x2="243.7" y2="152.3" stroke-width="1.7"/><line x1="358.6" y1="152.3" x2="355.4" y2="152.3" stroke-width="1.7"/><line x1="240.5" y1="156.35" x2="243.7" y2="156.35" stroke-width="1.7"/><line x1="358.6" y1="156.35" x2="355.4" y2="156.35" stroke-width="1.7"/><line x1="240.5" y1="160.4" x2="243.7" y2="160.4" stroke-width="1.7"/><line x1="358.6" y1="160.4" x2="355.4" y2="160.4" stroke-width="1.7"/><line x1="240.5" y1="164.45" x2="243.7" y2="164.45" stroke-width="1.7"/><line x1="358.6" y1="164.45" x2="355.4" y2="164.45" stroke-width="1.7"/><line x1="240.5" y1="168.5" x2="243.7" y2="168.5" stroke-width="1.7"/><line x1="358.6" y1="168.5" x2="355.4" y2="168.5" stroke-width="1.7"/><line x1="240.5" y1="172.55" x2="243.7" y2="172.55" stroke-width="1.7"/><line x1="358.6" y1="172.55" x2="355.4" y2="172.55" stroke-width="1.7"/><line x1="240.5" y1="176.6" x2="243.7" y2="176.6" stroke-width="1.7"/><line x1="358.6" y1="176.6" x2="355.4" y2="176.6" stroke-width="1.7"/><line x1="240.5" y1="180.65" x2="243.7" y2="180.65" stroke-width="1.7"/><line x1="358.6" y1="180.65" x2="355.4" y2="180.65" stroke-width="1.7"/><line x1="240.5" y1="184.7" x2="243.7" y2="184.7" stroke-width="1.7"/><line x1="358.6" y1="184.7" x2="355.4" y2="184.7" stroke-width="1.7"/><line x1="240.5" y1="188.75" x2="243.7" y2="188.75" stroke-width="1.7"/><line x1="358.6" y1="188.75" x2="355.4" y2="188.75" stroke-width="1.7"/><line x1="240.5" y1="192.8" x2="243.7" y2="192.8" stroke-width="1.7"/><line x1="358.6" y1="192.8" x2="355.4" y2="192.8" stroke-width="1.7"/><line x1="240.5" y1="196.85" x2="243.7" y2="196.85" stroke-width="1.7"/><line x1="358.6" y1="196.85" x2="355.4" y2="196.85" stroke-width="1.7"/><line x1="240.5" y1="200.9" x2="243.7" y2="200.9" stroke-width="1.7"/><line x1="358.6" y1="200.9" x2="355.4" y2="200.9" stroke-width="1.7"/><line x1="240.5" y1="204.95" x2="243.7" y2="204.95" stroke-width="1.7"/><line x1="358.6" y1="204.95" x2="355.4" y2="204.95" stroke-width="1.7"/><line x1="240.5" y1="209" x2="243.7" y2="209" stroke-width="1.7"/><line x1="358.6" y1="209" x2="355.4" y2="209" stroke-width="1.7"/><line x1="240.5" y1="213.05" x2="243.7" y2="213.05" stroke-width="1.7"/><line x1="358.6" y1="213.05" x2="355.4" y2="213.05" stroke-width="1.7"/><line x1="240.5" y1="217.1" x2="243.7" y2="217.1" stroke-width="1.7"/><line x1="358.6" y1="217.1" x2="355.4" y2="217.1" stroke-width="1.7"/><line x1="240.5" y1="221.15" x2="243.7" y2="221.15" stroke-width="1.7"/><line x1="358.6" y1="221.15" x2="355.4" y2="221.15" stroke-width="1.7"/><line x1="240.5" y1="225.2" x2="243.7" y2="225.2" stroke-width="1.7"/><line x1="358.6" y1="225.2" x2="355.4" y2="225.2" stroke-width="1.7"/><line x1="240.5" y1="229.25" x2="243.7" y2="229.25" stroke-width="1.7"/><line x1="358.6" y1="229.25" x2="355.4" y2="229.25" stroke-width="1.7"/><line x1="240.5" y1="233.3" x2="243.7" y2="233.3" stroke-width="1.7"/><line x1="358.6" y1="233.3" x2="355.4" y2="233.3" stroke-width="1.7"/><line x1="240.5" y1="237.35" x2="243.7" y2="237.35" stroke-width="1.7"/><line x1="358.6" y1="237.35" x2="355.4" y2="237.35" stroke-width="1.7"/><line x1="240.5" y1="241.4" x2="243.7" y2="241.4" stroke-width="1.7"/><line x1="358.6" y1="241.4" x2="355.4" y2="241.4" stroke-width="1.7"/><line x1="240.5" y1="245.45" x2="243.7" y2="245.45" stroke-width="1.7"/><line x1="358.6" y1="245.45" x2="355.4" y2="245.45" stroke-width="1.7"/><line x1="240.5" y1="249.5" x2="243.7" y2="249.5" stroke-width="1.7"/><line x1="358.6" y1="249.5" x2="355.4" y2="249.5" stroke-width="1.7"/><line x1="240.5" y1="253.55" x2="243.7" y2="253.55" stroke-width="1.7"/><line x1="358.6" y1="253.55" x2="355.4" y2="253.55" stroke-width="1.7"/><line x1="240.5" y1="257.6" x2="243.7" y2="257.6" stroke-width="1.7"/><line x1="358.6" y1="257.6" x2="355.4" y2="257.6" stroke-width="1.7"/><line x1="240.5" y1="261.65" x2="243.7" y2="261.65" stroke-width="1.7"/><line x1="358.6" y1="261.65" x2="355.4" y2="261.65" stroke-width="1.7"/><line x1="240.5" y1="265.7" x2="243.7" y2="265.7" stroke-width="1.7"/><line x1="358.6" y1="265.7" x2="355.4" y2="265.7" stroke-width="1.7"/><line x1="240.5" y1="269.75" x2="243.7" y2="269.75" stroke-width="1.7"/><line x1="358.6" y1="269.75" x2="355.4" y2="269.75" stroke-width="1.7"/><line x1="240.5" y1="273.8" x2="243.7" y2="273.8" stroke-width="1.7"/><line x1="358.6" y1="273.8" x2="355.4" y2="273.8" stroke-width="1.7"/><line x1="240.5" y1="277.85" x2="243.7" y2="277.85" stroke-width="1.7"/><line x1="358.6" y1="277.85" x2="355.4" y2="277.85" stroke-width="1.7"/><line x1="240.5" y1="281.9" x2="243.7" y2="281.9" stroke-width="1.7"/><line x1="358.6" y1="281.9" x2="355.4" y2="281.9" stroke-width="1.7"/><line x1="240.5" y1="285.95" x2="243.7" y2="285.95" stroke-width="1.7"/><line x1="358.6" y1="285.95" x2="355.4" y2="285.95" stroke-width="1.7"/><line x1="240.5" y1="290" x2="243.7" y2="290" stroke-width="1.7"/><line x1="358.6" y1="290" x2="355.4" y2="290" stroke-width="1.7"/><line x1="240.5" y1="294.05" x2="243.7" y2="294.05" stroke-width="1.7"/><line x1="358.6" y1="294.05" x2="355.4" y2="294.05" stroke-width="1.7"/><line x1="240.5" y1="298.1" x2="243.7" y2="298.1" stroke-width="1.7"/><line x1="358.6" y1="298.1" x2="355.4" y2="298.1" stroke-width="1.7"/><line x1="240.5" y1="302.15" x2="243.7" y2="302.15" stroke-width="1.7"/><line x1="358.6" y1="302.15" x2="355.4" y2="302.15" stroke-width="1.7"/><line x1="240.5" y1="306.2" x2="243.7" y2="306.2" stroke-width="1.7"/><line x1="358.6" y1="306.2" x2="355.4" y2="306.2" stroke-width="1.7"/><line x1="240.5" y1="310.25" x2="243.7" y2="310.25" stroke-width="1.7"/><line x1="358.6" y1="310.25" x2="355.4" y2="310.25" stroke-width="1.7"/><line x1="240.5" y1="314.3" x2="243.7" y2="314.3" stroke-width="1.7"/><line x1="358.6" y1="314.3" x2="355.4" y2="314.3" stroke-width="1.7"/><line x1="240.5" y1="318.35" x2="243.7" y2="318.35" stroke-width="1.7"/><line x1="358.6" y1="318.35" x2="355.4" y2="318.35" stroke-width="1.7"/><line x1="240.5" y1="322.4" x2="243.7" y2="322.4" stroke-width="1.7"/><line x1="358.6" y1="322.4" x2="355.4" y2="322.4" stroke-width="1.7"/><line x1="240.5" y1="326.45" x2="243.7" y2="326.45" stroke-width="1.7"/><line x1="358.6" y1="326.45" x2="355.4" y2="326.45" stroke-width="1.7"/><line x1="240.5" y1="330.5" x2="243.7" y2="330.5" stroke-width="1.7"/><line x1="358.6" y1="330.5" x2="355.4" y2="330.5" stroke-width="1.7"/><line x1="240.5" y1="334.55" x2="243.7" y2="334.55" stroke-width="1.7"/><line x1="358.6" y1="334.55" x2="355.4" y2="334.55" stroke-width="1.7"/><line x1="240.5" y1="205.48" x2="246.5" y2="205.48" stroke-width="2.3"/><line x1="358.6" y1="205.48" x2="352.6" y2="205.48" stroke-width="2.3"/><line x1="240.5" y1="268.7" x2="246.5" y2="268.7" stroke-width="2.3"/><line x1="358.6" y1="268.7" x2="352.6" y2="268.7" stroke-width="2.3"/><line x1="263.05" y1="339.0" x2="263.05" y2="336" stroke-width="2.3"/><line x1="263.05" y1="148.3" x2="263.05" y2="151.3" stroke-width="2.3"/><line x1="286.9" y1="339.0" x2="286.9" y2="334" stroke-width="2.3"/><line x1="286.9" y1="148.3" x2="286.9" y2="153.3" stroke-width="2.3"/><line x1="310.75" y1="339.0" x2="310.75" y2="336" stroke-width="2.3"/><line x1="310.75" y1="148.3" x2="310.75" y2="151.3" stroke-width="2.3"/><line x1="334.6" y1="339.0" x2="334.6" y2="334" stroke-width="2.3"/><line x1="334.6" y1="148.3" x2="334.6" y2="153.3" stroke-width="2.3"/></g><line x1="252" y1="204.9" x2="311" y2="204.9" stroke="#E6A832" stroke-width="2.3"/><path d="M309,201.5 L318.6,204.9 L309,208.3 Z" fill="#E6A832"/><g font-family='"Liberation Sans", sans-serif' font-weight="bold" fill="#000"><path d="M0.43,0 V-0.716 H0.315 L0.105,-0.53 V-0.41 L0.29,-0.545 V0 Z" transform="translate(173.7,154.2) scale(17)"/><text x="183.15" y="154.2" font-size="17">.</text><path d="M0.43,0 V-0.716 H0.315 L0.105,-0.53 V-0.41 L0.29,-0.545 V0 Z" transform="translate(187.88,154.2) scale(17)"/><text x="197.33" y="154.2" font-size="17">x</text><path d="M0.43,0 V-0.716 H0.315 L0.105,-0.53 V-0.41 L0.29,-0.545 V0 Z" transform="translate(206.78,154.2) scale(17)"/><text x="216.23" y="154.2" font-size="17">0</text><text x="225.68" y="147.1" font-size="11">0</text><path d="M0.43,0 V-0.716 H0.315 L0.105,-0.53 V-0.41 L0.29,-0.545 V0 Z" transform="translate(206.78,211.38) scale(17)"/><text x="216.23" y="211.38" font-size="17">0</text><text x="225.68" y="204.28" font-size="11">0</text><text x="184.21" y="274.6" font-size="17">9x</text><path d="M0.43,0 V-0.716 H0.315 L0.105,-0.53 V-0.41 L0.29,-0.545 V0 Z" transform="translate(203.12,274.6) scale(17)"/><text x="212.57" y="274.6" font-size="17">0</text><text x="222.02" y="267.5" font-size="11">-</text><path d="M0.43,0 V-0.716 H0.315 L0.105,-0.53 V-0.41 L0.29,-0.545 V0 Z" transform="translate(225.68,267.5) scale(11)"/><text x="184.21" y="345.27" font-size="17">8x</text><path d="M0.43,0 V-0.716 H0.315 L0.105,-0.53 V-0.41 L0.29,-0.545 V0 Z" transform="translate(203.12,345.27) scale(17)"/><text x="212.57" y="345.27" font-size="17">0</text><text x="222.02" y="338.17" font-size="11">-</text><path d="M0.43,0 V-0.716 H0.315 L0.105,-0.53 V-0.41 L0.29,-0.545 V0 Z" transform="translate(225.68,338.17) scale(11)"/><text x="239.4" y="359.8" font-size="17.5" text-anchor="middle">-4.8</text><text x="287.1" y="359.8" font-size="17.5" text-anchor="middle">-4.6</text><text x="334.8" y="359.8" font-size="17.5" text-anchor="middle">-4.4</text><text x="278.26" y="377.6" font-size="19.7">V</text><text x="291.88" y="383.5" font-size="12.8">G</text><text x="301.4" y="377.6" font-size="20">(V)</text><text transform="translate(179.2,302.9) rotate(-90)" font-size="20.2">I<tspan font-size="13" dy="5.6">D</tspan><tspan dy="-5.6">(mA/mm)</tspan></text><text transform="translate(253,200.6) rotate(-61)" font-size="18.3">25°C</text><text transform="translate(323.5,238.5) rotate(-59.5)" font-size="18.5">200 °C</text></g><g stroke="#000" fill="none"><rect x="470.3" y="19.2" width="273" height="373.4" stroke-width="4"/><line x1="471.8" y1="392.5" x2="481.3" y2="392.5" stroke-width="3.6"/><line x1="471.8" y1="379.3" x2="475" y2="379.3" stroke-width="3.5"/><line x1="471.8" y1="371.58" x2="475" y2="371.58" stroke-width="3.5"/><line x1="471.8" y1="366.1" x2="475" y2="366.1" stroke-width="3.5"/><line x1="471.8" y1="361.85" x2="475" y2="361.85" stroke-width="3.5"/><line x1="471.8" y1="358.38" x2="475" y2="358.38" stroke-width="3.5"/><line x1="471.8" y1="355.44" x2="475" y2="355.44" stroke-width="3.5"/><line x1="471.8" y1="352.9" x2="475" y2="352.9" stroke-width="3.5"/><line x1="471.8" y1="350.66" x2="475" y2="350.66" stroke-width="3.5"/><line x1="471.8" y1="348.65" x2="481.3" y2="348.65" stroke-width="3.6"/><line x1="471.8" y1="335.45" x2="475" y2="335.45" stroke-width="3.5"/><line x1="471.8" y1="327.73" x2="475" y2="327.73" stroke-width="3.5"/><line x1="471.8" y1="322.25" x2="475" y2="322.25" stroke-width="3.5"/><line x1="471.8" y1="318" x2="475" y2="318" stroke-width="3.5"/><line x1="471.8" y1="314.53" x2="475" y2="314.53" stroke-width="3.5"/><line x1="471.8" y1="311.59" x2="475" y2="311.59" stroke-width="3.5"/><line x1="471.8" y1="309.05" x2="475" y2="309.05" stroke-width="3.5"/><line x1="471.8" y1="306.81" x2="475" y2="306.81" stroke-width="3.5"/><line x1="471.8" y1="304.8" x2="481.3" y2="304.8" stroke-width="3.6"/><line x1="471.8" y1="291.6" x2="475" y2="291.6" stroke-width="3.5"/><line x1="471.8" y1="283.88" x2="475" y2="283.88" stroke-width="3.5"/><line x1="471.8" y1="278.4" x2="475" y2="278.4" stroke-width="3.5"/><line x1="471.8" y1="274.15" x2="475" y2="274.15" stroke-width="3.5"/><line x1="471.8" y1="270.68" x2="475" y2="270.68" stroke-width="3.5"/><line x1="471.8" y1="267.74" x2="475" y2="267.74" stroke-width="3.5"/><line x1="471.8" y1="265.2" x2="475" y2="265.2" stroke-width="3.5"/><line x1="471.8" y1="262.96" x2="475" y2="262.96" stroke-width="3.5"/><line x1="471.8" y1="260.95" x2="481.3" y2="260.95" stroke-width="3.6"/><line x1="471.8" y1="247.75" x2="475" y2="247.75" stroke-width="3.5"/><line x1="471.8" y1="240.03" x2="475" y2="240.03" stroke-width="3.5"/><line x1="471.8" y1="234.55" x2="475" y2="234.55" stroke-width="3.5"/><line x1="471.8" y1="230.3" x2="475" y2="230.3" stroke-width="3.5"/><line x1="471.8" y1="226.83" x2="475" y2="226.83" stroke-width="3.5"/><line x1="471.8" y1="223.89" x2="475" y2="223.89" stroke-width="3.5"/><line x1="471.8" y1="221.35" x2="475" y2="221.35" stroke-width="3.5"/><line x1="471.8" y1="219.11" x2="475" y2="219.11" stroke-width="3.5"/><line x1="471.8" y1="217.1" x2="481.3" y2="217.1" stroke-width="3.6"/><line x1="471.8" y1="203.9" x2="475" y2="203.9" stroke-width="3.5"/><line x1="471.8" y1="196.18" x2="475" y2="196.18" stroke-width="3.5"/><line x1="471.8" y1="190.7" x2="475" y2="190.7" stroke-width="3.5"/><line x1="471.8" y1="186.45" x2="475" y2="186.45" stroke-width="3.5"/><line x1="471.8" y1="182.98" x2="475" y2="182.98" stroke-width="3.5"/><line x1="471.8" y1="180.04" x2="475" y2="180.04" stroke-width="3.5"/><line x1="471.8" y1="177.5" x2="475" y2="177.5" stroke-width="3.5"/><line x1="471.8" y1="175.26" x2="475" y2="175.26" stroke-width="3.5"/><line x1="471.8" y1="173.25" x2="481.3" y2="173.25" stroke-width="3.6"/><line x1="471.8" y1="160.05" x2="475" y2="160.05" stroke-width="3.5"/><line x1="471.8" y1="152.33" x2="475" y2="152.33" stroke-width="3.5"/><line x1="471.8" y1="146.85" x2="475" y2="146.85" stroke-width="3.5"/><line x1="471.8" y1="142.6" x2="475" y2="142.6" stroke-width="3.5"/><line x1="471.8" y1="139.13" x2="475" y2="139.13" stroke-width="3.5"/><line x1="471.8" y1="136.19" x2="475" y2="136.19" stroke-width="3.5"/><line x1="471.8" y1="133.65" x2="475" y2="133.65" stroke-width="3.5"/><line x1="471.8" y1="131.41" x2="475" y2="131.41" stroke-width="3.5"/><line x1="471.8" y1="129.4" x2="481.3" y2="129.4" stroke-width="3.6"/><line x1="471.8" y1="116.2" x2="475" y2="116.2" stroke-width="3.5"/><line x1="471.8" y1="108.48" x2="475" y2="108.48" stroke-width="3.5"/><line x1="471.8" y1="103" x2="475" y2="103" stroke-width="3.5"/><line x1="471.8" y1="98.75" x2="475" y2="98.75" stroke-width="3.5"/><line x1="471.8" y1="95.28" x2="475" y2="95.28" stroke-width="3.5"/><line x1="471.8" y1="92.34" x2="475" y2="92.34" stroke-width="3.5"/><line x1="471.8" y1="89.8" x2="475" y2="89.8" stroke-width="3.5"/><line x1="471.8" y1="87.56" x2="475" y2="87.56" stroke-width="3.5"/><line x1="471.8" y1="85.55" x2="481.3" y2="85.55" stroke-width="3.6"/><line x1="471.8" y1="72.35" x2="475" y2="72.35" stroke-width="3.5"/><line x1="471.8" y1="64.63" x2="475" y2="64.63" stroke-width="3.5"/><line x1="471.8" y1="59.15" x2="475" y2="59.15" stroke-width="3.5"/><line x1="471.8" y1="54.9" x2="475" y2="54.9" stroke-width="3.5"/><line x1="471.8" y1="51.43" x2="475" y2="51.43" stroke-width="3.5"/><line x1="471.8" y1="48.49" x2="475" y2="48.49" stroke-width="3.5"/><line x1="471.8" y1="45.95" x2="475" y2="45.95" stroke-width="3.5"/><line x1="471.8" y1="43.71" x2="475" y2="43.71" stroke-width="3.5"/><line x1="471.8" y1="41.7" x2="481.3" y2="41.7" stroke-width="3.6"/><line x1="471.8" y1="28.5" x2="475" y2="28.5" stroke-width="3.5"/><line x1="471.8" y1="20.78" x2="475" y2="20.78" stroke-width="3.5"/><line x1="741.8" y1="392.5" x2="732.3" y2="392.5" stroke-width="3.6"/><line x1="741.8" y1="379.3" x2="738.6" y2="379.3" stroke-width="3.5"/><line x1="741.8" y1="371.58" x2="738.6" y2="371.58" stroke-width="3.5"/><line x1="741.8" y1="366.1" x2="738.6" y2="366.1" stroke-width="3.5"/><line x1="741.8" y1="361.85" x2="738.6" y2="361.85" stroke-width="3.5"/><line x1="741.8" y1="358.38" x2="738.6" y2="358.38" stroke-width="3.5"/><line x1="741.8" y1="355.44" x2="738.6" y2="355.44" stroke-width="3.5"/><line x1="741.8" y1="352.9" x2="738.6" y2="352.9" stroke-width="3.5"/><line x1="741.8" y1="350.66" x2="738.6" y2="350.66" stroke-width="3.5"/><line x1="741.8" y1="348.65" x2="732.3" y2="348.65" stroke-width="3.6"/><line x1="741.8" y1="335.45" x2="738.6" y2="335.45" stroke-width="3.5"/><line x1="741.8" y1="327.73" x2="738.6" y2="327.73" stroke-width="3.5"/><line x1="741.8" y1="322.25" x2="738.6" y2="322.25" stroke-width="3.5"/><line x1="741.8" y1="318" x2="738.6" y2="318" stroke-width="3.5"/><line x1="741.8" y1="314.53" x2="738.6" y2="314.53" stroke-width="3.5"/><line x1="741.8" y1="311.59" x2="738.6" y2="311.59" stroke-width="3.5"/><line x1="741.8" y1="309.05" x2="738.6" y2="309.05" stroke-width="3.5"/><line x1="741.8" y1="306.81" x2="738.6" y2="306.81" stroke-width="3.5"/><line x1="741.8" y1="304.8" x2="732.3" y2="304.8" stroke-width="3.6"/><line x1="741.8" y1="291.6" x2="738.6" y2="291.6" stroke-width="3.5"/><line x1="741.8" y1="283.88" x2="738.6" y2="283.88" stroke-width="3.5"/><line x1="741.8" y1="278.4" x2="738.6" y2="278.4" stroke-width="3.5"/><line x1="741.8" y1="274.15" x2="738.6" y2="274.15" stroke-width="3.5"/><line x1="741.8" y1="270.68" x2="738.6" y2="270.68" stroke-width="3.5"/><line x1="741.8" y1="267.74" x2="738.6" y2="267.74" stroke-width="3.5"/><line x1="741.8" y1="265.2" x2="738.6" y2="265.2" stroke-width="3.5"/><line x1="741.8" y1="262.96" x2="738.6" y2="262.96" stroke-width="3.5"/><line x1="741.8" y1="260.95" x2="732.3" y2="260.95" stroke-width="3.6"/><line x1="741.8" y1="247.75" x2="738.6" y2="247.75" stroke-width="3.5"/><line x1="741.8" y1="240.03" x2="738.6" y2="240.03" stroke-width="3.5"/><line x1="741.8" y1="234.55" x2="738.6" y2="234.55" stroke-width="3.5"/><line x1="741.8" y1="230.3" x2="738.6" y2="230.3" stroke-width="3.5"/><line x1="741.8" y1="226.83" x2="738.6" y2="226.83" stroke-width="3.5"/><line x1="741.8" y1="223.89" x2="738.6" y2="223.89" stroke-width="3.5"/><line x1="741.8" y1="221.35" x2="738.6" y2="221.35" stroke-width="3.5"/><line x1="741.8" y1="219.11" x2="738.6" y2="219.11" stroke-width="3.5"/><line x1="741.8" y1="217.1" x2="732.3" y2="217.1" stroke-width="3.6"/><line x1="741.8" y1="203.9" x2="738.6" y2="203.9" stroke-width="3.5"/><line x1="741.8" y1="196.18" x2="738.6" y2="196.18" stroke-width="3.5"/><line x1="741.8" y1="190.7" x2="738.6" y2="190.7" stroke-width="3.5"/><line x1="741.8" y1="186.45" x2="738.6" y2="186.45" stroke-width="3.5"/><line x1="741.8" y1="182.98" x2="738.6" y2="182.98" stroke-width="3.5"/><line x1="741.8" y1="180.04" x2="738.6" y2="180.04" stroke-width="3.5"/><line x1="741.8" y1="177.5" x2="738.6" y2="177.5" stroke-width="3.5"/><line x1="741.8" y1="175.26" x2="738.6" y2="175.26" stroke-width="3.5"/><line x1="741.8" y1="173.25" x2="732.3" y2="173.25" stroke-width="3.6"/><line x1="741.8" y1="160.05" x2="738.6" y2="160.05" stroke-width="3.5"/><line x1="741.8" y1="152.33" x2="738.6" y2="152.33" stroke-width="3.5"/><line x1="741.8" y1="146.85" x2="738.6" y2="146.85" stroke-width="3.5"/><line x1="741.8" y1="142.6" x2="738.6" y2="142.6" stroke-width="3.5"/><line x1="741.8" y1="139.13" x2="738.6" y2="139.13" stroke-width="3.5"/><line x1="741.8" y1="136.19" x2="738.6" y2="136.19" stroke-width="3.5"/><line x1="741.8" y1="133.65" x2="738.6" y2="133.65" stroke-width="3.5"/><line x1="741.8" y1="131.41" x2="738.6" y2="131.41" stroke-width="3.5"/><line x1="741.8" y1="129.4" x2="732.3" y2="129.4" stroke-width="3.6"/><line x1="741.8" y1="116.2" x2="738.6" y2="116.2" stroke-width="3.5"/><line x1="741.8" y1="108.48" x2="738.6" y2="108.48" stroke-width="3.5"/><line x1="741.8" y1="103" x2="738.6" y2="103" stroke-width="3.5"/><line x1="741.8" y1="98.75" x2="738.6" y2="98.75" stroke-width="3.5"/><line x1="741.8" y1="95.28" x2="738.6" y2="95.28" stroke-width="3.5"/><line x1="741.8" y1="92.34" x2="738.6" y2="92.34" stroke-width="3.5"/><line x1="741.8" y1="89.8" x2="738.6" y2="89.8" stroke-width="3.5"/><line x1="741.8" y1="87.56" x2="738.6" y2="87.56" stroke-width="3.5"/><line x1="741.8" y1="85.55" x2="732.3" y2="85.55" stroke-width="3.6"/><line x1="741.8" y1="72.35" x2="738.6" y2="72.35" stroke-width="3.5"/><line x1="741.8" y1="64.63" x2="738.6" y2="64.63" stroke-width="3.5"/><line x1="741.8" y1="59.15" x2="738.6" y2="59.15" stroke-width="3.5"/><line x1="741.8" y1="54.9" x2="738.6" y2="54.9" stroke-width="3.5"/><line x1="741.8" y1="51.43" x2="738.6" y2="51.43" stroke-width="3.5"/><line x1="741.8" y1="48.49" x2="738.6" y2="48.49" stroke-width="3.5"/><line x1="741.8" y1="45.95" x2="738.6" y2="45.95" stroke-width="3.5"/><line x1="741.8" y1="43.71" x2="738.6" y2="43.71" stroke-width="3.5"/><line x1="741.8" y1="41.7" x2="732.3" y2="41.7" stroke-width="3.6"/><line x1="741.8" y1="28.5" x2="738.6" y2="28.5" stroke-width="3.5"/><line x1="741.8" y1="20.78" x2="738.6" y2="20.78" stroke-width="3.5"/><line x1="530" y1="391.1" x2="530" y2="380.6" stroke-width="3.6"/><line x1="589.1" y1="391.1" x2="589.1" y2="380.6" stroke-width="3.6"/><line x1="648.2" y1="391.1" x2="648.2" y2="380.6" stroke-width="3.6"/><line x1="707.3" y1="391.1" x2="707.3" y2="380.6" stroke-width="3.6"/><line x1="500.45" y1="391.1" x2="500.45" y2="386.6" stroke-width="3.6"/><line x1="559.55" y1="391.1" x2="559.55" y2="386.6" stroke-width="3.6"/><line x1="618.65" y1="391.1" x2="618.65" y2="386.6" stroke-width="3.6"/><line x1="677.75" y1="391.1" x2="677.75" y2="386.6" stroke-width="3.6"/><line x1="736.85" y1="391.1" x2="736.85" y2="386.6" stroke-width="3.6"/><line x1="530" y1="20.7" x2="530" y2="31.2" stroke-width="3.6"/><line x1="589.1" y1="20.7" x2="589.1" y2="31.2" stroke-width="3.6"/><line x1="648.2" y1="20.7" x2="648.2" y2="31.2" stroke-width="3.6"/><line x1="707.3" y1="20.7" x2="707.3" y2="31.2" stroke-width="3.6"/><line x1="500.45" y1="20.7" x2="500.45" y2="25.2" stroke-width="3.6"/><line x1="559.55" y1="20.7" x2="559.55" y2="25.2" stroke-width="3.6"/><line x1="618.65" y1="20.7" x2="618.65" y2="25.2" stroke-width="3.6"/><line x1="677.75" y1="20.7" x2="677.75" y2="25.2" stroke-width="3.6"/><line x1="736.85" y1="20.7" x2="736.85" y2="25.2" stroke-width="3.6"/></g><g clip-path="url(#cb)" fill="none" stroke-linejoin="round" stroke-linecap="round"><path d="M470.5,229.0 L472.0,228.8 L473.5,228.9 L475.0,229.7 L476.5,229.3 L478.0,229.5 L479.5,229.9 L481.0,229.8 L482.5,229.7 L484.0,229.9 L485.5,230.0 L487.0,230.7 L488.5,230.1 L490.0,230.3 L491.5,231.3 L493.0,230.5 L494.5,231.3 L496.0,231.3 L497.5,230.9 L499.0,230.6 L500.5,231.3 L502.0,231.5 L503.5,231.7 L505.0,231.5 L506.5,232.0 L508.0,232.1 L509.5,231.4 L511.0,232.4 L512.5,232.0 L514.0,231.9 L515.5,232.0 L517.0,232.9 L518.5,232.7 L520.0,231.8 L521.5,232.6 L523.0,232.6 L524.5,232.7 L526.0,232.7 L527.5,232.4 L529.0,233.3 L530.5,232.8 L532.0,233.1 L533.5,233.1 L535.0,233.2 L536.5,233.8 L538.0,233.8 L539.5,233.5 L541.0,233.5 L542.5,233.8 L544.0,234.4 L545.5,234.2 L547.0,234.3 L548.5,234.2 L550.0,234.4 L551.5,234.7 L553.0,234.1 L554.5,235.4 L556.0,234.7 L557.5,234.9 L559.0,235.7 L560.5,235.4 L562.0,235.5 L563.5,235.4 L565.0,235.2 L566.5,235.9 L568.0,236.4 L569.5,235.8 L571.0,236.7 L572.5,235.9 L574.0,236.2 L575.5,236.7 L577.0,236.7 L578.5,237.1 L580.0,236.7 L581.5,236.7 L583.0,236.5 L584.5,236.9 L586.0,237.1 L587.5,237.1 L589.0,237.8 L590.5,237.6 L592.0,237.2 L593.5,238.9 L595.0,237.9 L596.5,237.9 L598.0,238.9 L599.5,239.0 L601.0,238.3 L602.5,238.3 L604.0,238.6 L605.5,239.4 L607.0,239.1 L608.5,239.0 L610.0,239.4 L611.5,240.0 L613.0,239.2 L614.5,239.6 L616.0,239.4 L617.5,240.8 L619.0,240.8 L620.5,240.6 L622.0,240.4 L623.5,240.8 L625.0,239.9 L626.5,240.9 L628.0,240.4 L629.5,240.6 L631.0,240.9 L632.5,241.1 L634.0,241.6 L635.5,241.8 L637.0,241.7 L638.5,241.4 L640.0,242.1 L641.5,242.0 L643.0,242.5 L644.5,241.9 L646.0,241.4 L647.5,242.3 L648.7,242.6 L658.5,248.2 L666.8,255.8 L673.9,264.5 L680.3,273.8 L683.7,284.6 L686.6,295.5 L688.5,306.6 L690.3,317.8 L691.7,329.0 L693.0,340.2 L693.8,351.5 L694.7,362.7 L695.5,374.0 L696.0,376.0 L703.0,362.0 L711.0,350.0 L713.5,324.7 L714.8,299.3 L716.2,273.8 L717.6,248.4 L719.5,223.0 L721.6,197.7 L723.8,172.3 L726.7,147.0 L729.6,121.7 L733.0,96.5 L737.5,71.5 L741.2,46.3 L744.0,21.0" stroke="#EE0A96" stroke-width="4.0"/><path d="M470.5,223.1 L472.0,222.9 L473.5,223.2 L475.0,223.8 L476.5,223.7 L478.0,223.8 L479.5,223.6 L481.0,223.9 L482.5,224.0 L484.0,223.8 L485.5,223.7 L487.0,224.2 L488.5,224.6 L490.0,224.6 L491.5,224.6 L493.0,224.7 L494.5,225.6 L496.0,224.8 L497.5,225.2 L499.0,225.6 L500.5,225.0 L502.0,225.2 L503.5,225.6 L505.0,225.9 L506.5,225.5 L508.0,225.6 L509.5,225.6 L511.0,225.2 L512.5,226.1 L514.0,225.7 L515.5,225.3 L517.0,226.0 L518.5,225.5 L520.0,225.8 L521.5,226.3 L523.0,226.1 L524.5,226.8 L526.0,226.0 L527.5,226.7 L529.0,226.9 L530.5,227.3 L532.0,227.3 L533.5,227.1 L535.0,227.1 L536.5,227.2 L538.0,227.7 L539.5,227.2 L541.0,227.7 L542.5,227.5 L544.0,227.7 L545.5,227.7 L547.0,228.6 L548.5,227.7 L550.0,228.2 L551.5,228.3 L553.0,228.5 L554.5,228.6 L556.0,228.7 L557.5,229.1 L559.0,228.3 L560.5,229.0 L562.0,228.7 L563.5,229.3 L565.0,229.0 L566.5,229.2 L568.0,229.6 L569.5,230.3 L571.0,230.1 L572.5,230.1 L574.0,230.6 L575.5,229.9 L577.0,229.7 L578.5,230.4 L580.0,230.6 L581.5,231.2 L583.0,231.7 L584.5,230.6 L586.0,232.1 L587.5,231.9 L589.0,231.7 L590.5,231.7 L592.0,232.6 L593.5,231.9 L595.0,231.8 L596.5,232.1 L598.0,231.7 L599.5,232.5 L601.0,232.4 L602.5,232.7 L604.0,232.9 L605.5,232.5 L607.0,233.5 L608.5,232.8 L610.0,233.6 L611.5,232.8 L613.0,233.7 L614.5,233.4 L616.0,233.8 L617.5,233.7 L619.0,233.3 L620.5,233.8 L622.0,234.3 L623.5,234.6 L625.0,234.0 L626.5,233.9 L628.0,234.5 L629.5,234.9 L631.0,234.9 L632.5,234.9 L634.0,235.6 L635.5,235.8 L637.0,235.9 L638.5,235.4 L640.0,235.9 L641.5,235.9 L643.0,235.6 L644.5,236.6 L646.0,236.4 L647.5,236.3 L648.7,236.5 L658.6,242.2 L666.9,250.0 L674.0,259.0 L680.3,268.5 L684.1,279.3 L687.4,290.2 L689.8,301.4 L691.8,312.7 L693.4,324.0 L694.8,335.3 L695.8,346.8 L696.7,358.2 L697.6,369.6 L700.0,372.0 L705.5,380.0 L706.0,395.0 L707.5,395.0 L708.0,370.0 L710.5,351.0 L712.9,325.6 L714.2,300.1 L715.5,274.6 L716.9,249.1 L718.7,223.6 L720.9,198.2 L723.1,172.7 L725.9,147.3 L728.8,122.0 L732.2,96.7 L736.2,71.5 L739.9,46.2 L743.5,21.0" stroke="#FF3C3C" stroke-width="4.0"/><path d="M470.5,218.4 L472.0,218.6 L473.5,219.1 L475.0,219.4 L476.5,219.3 L478.0,218.7 L479.5,219.0 L481.0,219.6 L482.5,219.1 L484.0,219.4 L485.5,219.6 L487.0,220.1 L488.5,220.1 L490.0,220.0 L491.5,219.7 L493.0,220.2 L494.5,220.1 L496.0,219.9 L497.5,220.6 L499.0,220.3 L500.5,220.0 L502.0,220.7 L503.5,220.3 L505.0,220.7 L506.5,220.0 L508.0,220.6 L509.5,220.3 L511.0,220.4 L512.5,220.2 L514.0,221.7 L515.5,220.9 L517.0,221.1 L518.5,221.5 L520.0,221.2 L521.5,221.5 L523.0,220.9 L524.5,221.5 L526.0,221.4 L527.5,221.8 L529.0,221.7 L530.5,221.2 L532.0,221.2 L533.5,221.5 L535.0,222.2 L536.5,222.2 L538.0,222.2 L539.5,221.5 L541.0,221.3 L542.5,222.1 L544.0,222.3 L545.5,222.3 L547.0,222.7 L548.5,222.6 L550.0,222.3 L551.5,222.6 L553.0,223.0 L554.5,223.1 L556.0,223.2 L557.5,224.1 L559.0,223.4 L560.5,223.6 L562.0,223.4 L563.5,223.7 L565.0,224.1 L566.5,224.3 L568.0,224.1 L569.5,224.4 L571.0,224.4 L572.5,223.9 L574.0,223.5 L575.5,225.6 L577.0,225.2 L578.5,225.0 L580.0,224.5 L581.5,224.8 L583.0,225.9 L584.5,224.5 L586.0,225.5 L587.5,226.0 L589.0,225.9 L590.5,226.2 L592.0,226.0 L593.5,227.1 L595.0,226.0 L596.5,226.0 L598.0,226.7 L599.5,227.2 L601.0,226.8 L602.5,227.3 L604.0,226.9 L605.5,226.8 L607.0,227.8 L608.5,228.0 L610.0,228.1 L611.5,227.5 L613.0,227.4 L614.5,227.5 L616.0,227.9 L617.5,228.3 L619.0,228.4 L620.5,227.9 L622.0,228.5 L623.5,228.6 L625.0,228.7 L626.5,228.8 L628.0,228.9 L629.5,229.3 L631.0,229.2 L632.5,229.4 L634.0,229.2 L635.5,229.7 L637.0,229.6 L638.5,229.0 L640.0,230.1 L641.5,229.9 L643.0,230.5 L644.5,230.2 L646.0,230.4 L647.5,230.6 L648.7,231.9 L658.7,237.7 L667.0,245.7 L674.1,254.8 L680.4,264.5 L684.4,275.3 L687.9,286.3 L690.7,297.5 L692.9,308.8 L694.7,320.2 L696.2,331.7 L697.3,343.2 L698.2,354.8 L699.1,366.3 L699.0,373.0 L704.0,360.0 L710.1,351.8 L712.4,326.3 L713.7,300.7 L715.0,275.1 L716.4,249.6 L718.2,224.0 L720.4,198.5 L722.6,173.0 L725.4,147.6 L728.3,122.1 L731.5,96.8 L735.3,71.5 L738.9,46.1 L743.1,21.0" stroke="#F08228" stroke-width="4.0"/><path d="M470.5,213.3 L472.0,213.6 L473.5,213.6 L475.0,215.1 L476.5,214.0 L478.0,214.5 L479.5,214.9 L481.0,214.9 L482.5,215.0 L484.0,215.2 L485.5,215.4 L487.0,215.2 L488.5,216.2 L490.0,214.9 L491.5,215.4 L493.0,215.3 L494.5,215.3 L496.0,215.7 L497.5,216.1 L499.0,215.5 L500.5,215.5 L502.0,216.1 L503.5,216.1 L505.0,216.7 L506.5,216.5 L508.0,216.3 L509.5,216.2 L511.0,216.4 L512.5,216.4 L514.0,216.0 L515.5,216.6 L517.0,216.6 L518.5,216.7 L520.0,216.7 L521.5,217.5 L523.0,217.2 L524.5,217.4 L526.0,216.9 L527.5,216.9 L529.0,217.2 L530.5,217.5 L532.0,217.3 L533.5,217.5 L535.0,218.0 L536.5,217.8 L538.0,217.4 L539.5,217.7 L541.0,217.7 L542.5,218.1 L544.0,217.7 L545.5,218.1 L547.0,218.5 L548.5,218.4 L550.0,218.1 L551.5,218.4 L553.0,218.8 L554.5,219.0 L556.0,219.3 L557.5,219.0 L559.0,218.7 L560.5,219.8 L562.0,219.6 L563.5,219.7 L565.0,219.8 L566.5,219.5 L568.0,219.8 L569.5,220.2 L571.0,220.6 L572.5,220.3 L574.0,219.4 L575.5,220.5 L577.0,220.8 L578.5,221.3 L580.0,221.2 L581.5,221.9 L583.0,221.7 L584.5,221.8 L586.0,221.8 L587.5,221.1 L589.0,222.0 L590.5,222.0 L592.0,221.7 L593.5,222.3 L595.0,222.3 L596.5,222.1 L598.0,222.4 L599.5,222.5 L601.0,222.7 L602.5,222.6 L604.0,223.1 L605.5,222.4 L607.0,223.1 L608.5,222.7 L610.0,223.2 L611.5,223.7 L613.0,223.7 L614.5,223.7 L616.0,223.9 L617.5,224.6 L619.0,223.8 L620.5,224.6 L622.0,223.9 L623.5,224.4 L625.0,224.7 L626.5,224.5 L628.0,225.0 L629.5,225.3 L631.0,224.7 L632.5,225.2 L634.0,225.3 L635.5,224.8 L637.0,225.6 L638.5,225.5 L640.0,226.4 L641.5,225.7 L643.0,226.7 L644.5,226.1 L646.0,227.1 L647.5,226.7 L648.7,227.3 L658.8,233.3 L667.1,241.4 L674.2,250.6 L680.4,260.5 L684.7,271.3 L688.5,282.3 L691.7,293.5 L694.0,305.0 L696.0,316.5 L697.6,328.1 L698.8,339.7 L699.7,351.3 L700.6,363.0 L700.5,380.0 L705.0,362.0 L709.8,352.5 L711.9,326.9 L713.2,301.3 L714.5,275.7 L715.8,250.1 L717.7,224.5 L719.8,198.9 L722.0,173.3 L724.8,147.8 L727.8,122.3 L730.9,96.9 L734.3,71.4 L737.9,46.0 L742.8,21.0" stroke="#E6A832" stroke-width="4.0"/><path d="M470.5,207.5 L472.0,208.1 L473.5,208.6 L475.0,208.9 L476.5,209.1 L478.0,208.5 L479.5,208.3 L481.0,207.8 L482.5,208.7 L484.0,209.2 L485.5,209.2 L487.0,209.1 L488.5,209.1 L490.0,209.0 L491.5,209.2 L493.0,209.6 L494.5,208.9 L496.0,209.8 L497.5,209.2 L499.0,209.7 L500.5,209.6 L502.0,209.8 L503.5,209.6 L505.0,209.7 L506.5,210.1 L508.0,209.9 L509.5,211.2 L511.0,210.3 L512.5,210.2 L514.0,210.4 L515.5,210.3 L517.0,209.9 L518.5,210.7 L520.0,211.0 L521.5,210.4 L523.0,211.0 L524.5,210.7 L526.0,211.2 L527.5,211.4 L529.0,211.5 L530.5,211.6 L532.0,211.3 L533.5,211.9 L535.0,211.5 L536.5,211.9 L538.0,212.1 L539.5,211.8 L541.0,211.6 L542.5,212.3 L544.0,211.8 L545.5,211.9 L547.0,212.0 L548.5,212.7 L550.0,212.5 L551.5,212.0 L553.0,213.2 L554.5,213.8 L556.0,213.8 L557.5,213.2 L559.0,213.5 L560.5,213.8 L562.0,214.1 L563.5,214.0 L565.0,213.7 L566.5,214.5 L568.0,214.6 L569.5,214.1 L571.0,214.6 L572.5,215.0 L574.0,215.0 L575.5,215.4 L577.0,215.6 L578.5,215.7 L580.0,215.6 L581.5,215.3 L583.0,216.2 L584.5,216.6 L586.0,216.9 L587.5,216.4 L589.0,216.5 L590.5,217.2 L592.0,217.4 L593.5,217.1 L595.0,217.4 L596.5,217.0 L598.0,217.7 L599.5,217.3 L601.0,217.7 L602.5,217.9 L604.0,217.9 L605.5,217.5 L607.0,218.1 L608.5,218.6 L610.0,218.7 L611.5,218.7 L613.0,219.1 L614.5,219.4 L616.0,219.6 L617.5,219.2 L619.0,219.6 L620.5,219.6 L622.0,219.6 L623.5,219.5 L625.0,220.2 L626.5,220.0 L628.0,221.3 L629.5,220.6 L631.0,220.7 L632.5,220.8 L634.0,221.8 L635.5,220.9 L637.0,221.4 L638.5,221.3 L640.0,221.7 L641.5,221.9 L643.0,222.4 L644.5,221.7 L646.0,222.3 L647.5,223.0 L648.7,222.7 L658.8,228.8 L667.2,237.1 L674.3,246.5 L680.4,256.5 L685.0,267.4 L689.1,278.4 L692.6,289.6 L695.1,301.2 L697.3,312.7 L698.9,324.4 L700.3,336.2 L701.2,347.9 L702.2,359.7 L701.5,383.0 L706.0,362.0 L709.4,353.2 L711.4,327.6 L712.7,301.9 L714.0,276.2 L715.3,250.5 L717.1,224.9 L719.3,199.3 L721.5,173.6 L724.3,148.0 L727.2,122.5 L730.2,97.0 L733.4,71.4 L736.8,46.0 L742.4,21.0" stroke="#E6D22D" stroke-width="4.0"/><path d="M470.5,200.4 L472.0,201.0 L473.5,201.2 L475.0,200.8 L476.5,201.8 L478.0,202.4 L479.5,201.9 L481.0,201.5 L482.5,202.4 L484.0,202.4 L485.5,202.8 L487.0,202.9 L488.5,202.6 L490.0,202.9 L491.5,202.2 L493.0,203.3 L494.5,203.1 L496.0,203.5 L497.5,203.6 L499.0,203.2 L500.5,203.4 L502.0,203.2 L503.5,202.9 L505.0,203.7 L506.5,203.9 L508.0,203.6 L509.5,204.3 L511.0,204.2 L512.5,204.4 L514.0,204.1 L515.5,203.8 L517.0,204.8 L518.5,204.9 L520.0,204.7 L521.5,204.7 L523.0,204.8 L524.5,205.0 L526.0,205.0 L527.5,204.5 L529.0,205.6 L530.5,204.9 L532.0,205.4 L533.5,205.5 L535.0,205.8 L536.5,205.3 L538.0,206.4 L539.5,206.3 L541.0,206.4 L542.5,206.7 L544.0,206.1 L545.5,205.3 L547.0,206.6 L548.5,207.1 L550.0,207.2 L551.5,206.8 L553.0,207.1 L554.5,207.4 L556.0,206.8 L557.5,207.4 L559.0,207.5 L560.5,208.5 L562.0,207.9 L563.5,208.8 L565.0,208.4 L566.5,208.0 L568.0,209.5 L569.5,208.5 L571.0,209.3 L572.5,209.8 L574.0,209.2 L575.5,209.1 L577.0,210.0 L578.5,209.9 L580.0,209.6 L581.5,209.8 L583.0,210.2 L584.5,210.8 L586.0,210.5 L587.5,211.0 L589.0,211.5 L590.5,211.6 L592.0,211.8 L593.5,211.9 L595.0,211.0 L596.5,212.2 L598.0,212.0 L599.5,212.0 L601.0,211.9 L602.5,211.8 L604.0,212.2 L605.5,212.7 L607.0,212.5 L608.5,212.7 L610.0,213.0 L611.5,213.6 L613.0,213.4 L614.5,213.6 L616.0,214.3 L617.5,213.9 L619.0,214.4 L620.5,213.9 L622.0,214.6 L623.5,214.7 L625.0,214.8 L626.5,214.8 L628.0,214.7 L629.5,215.2 L631.0,215.3 L632.5,215.9 L634.0,216.1 L635.5,215.5 L637.0,216.3 L638.5,216.0 L640.0,216.5 L641.5,216.4 L643.0,216.2 L644.5,217.2 L646.0,217.2 L647.5,216.7 L648.7,218.1 L658.9,224.3 L667.2,232.8 L674.3,242.3 L680.5,252.5 L685.3,263.4 L689.7,274.5 L693.5,285.7 L696.2,297.3 L698.6,309.0 L700.3,320.8 L701.8,332.6 L702.8,344.5 L703.7,356.4 L704.0,360.0 L708.0,360.0 L709.0,354.0 L711.0,328.3 L712.2,302.5 L713.5,276.8 L714.8,251.0 L716.6,225.3 L718.8,199.6 L720.9,173.9 L723.8,148.3 L726.7,122.7 L729.6,97.0 L732.5,71.4 L735.8,45.9 L742.0,21.0" stroke="#AADD33" stroke-width="4.0"/><path d="M707,308 L703.8,330 L705.8,354 L708.4,355 L710.4,330 Z" fill="#00DD00" stroke="none"/><path d="M470.5,190.3 L472.0,191.1 L473.5,192.9 L475.0,192.8 L476.5,192.9 L478.0,192.5 L479.5,194.0 L481.0,194.0 L482.5,193.6 L484.0,193.6 L485.5,194.6 L487.0,193.4 L488.5,194.1 L490.0,194.3 L491.5,194.8 L493.0,194.8 L494.5,194.9 L496.0,195.0 L497.5,195.8 L499.0,195.4 L500.5,194.5 L502.0,195.5 L503.5,196.0 L505.0,195.3 L506.5,196.2 L508.0,195.3 L509.5,195.8 L511.0,195.4 L512.5,195.8 L514.0,196.8 L515.5,195.9 L517.0,195.4 L518.5,196.5 L520.0,196.4 L521.5,196.8 L523.0,197.1 L524.5,196.1 L526.0,196.2 L527.5,196.7 L529.0,197.5 L530.5,197.1 L532.0,197.5 L533.5,198.1 L535.0,198.4 L536.5,198.3 L538.0,199.0 L539.5,198.9 L541.0,198.4 L542.5,198.6 L544.0,198.7 L545.5,199.5 L547.0,199.7 L548.5,199.4 L550.0,200.5 L551.5,200.3 L553.0,200.2 L554.5,199.2 L556.0,200.5 L557.5,199.9 L559.0,200.1 L560.5,199.0 L562.0,199.3 L563.5,199.4 L565.0,199.8 L566.5,200.0 L568.0,199.8 L569.5,200.9 L571.0,200.8 L572.5,201.3 L574.0,201.9 L575.5,202.2 L577.0,201.8 L578.5,203.0 L580.0,203.1 L581.5,203.2 L583.0,203.4 L584.5,203.8 L586.0,204.8 L587.5,204.8 L589.0,205.5 L590.5,205.3 L592.0,206.6 L593.5,205.8 L595.0,205.9 L596.5,206.0 L598.0,206.4 L599.5,207.0 L601.0,205.6 L602.5,207.2 L604.0,205.4 L605.5,205.4 L607.0,206.6 L608.5,206.1 L610.0,206.2 L611.5,206.1 L613.0,206.4 L614.5,206.4 L616.0,207.0 L617.5,207.3 L619.0,207.6 L620.5,208.5 L622.0,208.8 L623.5,209.0 L625.0,207.7 L626.5,209.7 L628.0,209.2 L629.5,209.7 L631.0,210.0 L632.5,210.0 L634.0,210.3 L635.5,210.6 L637.0,209.8 L638.5,211.2 L640.0,211.2 L641.5,212.1 L643.0,211.1 L644.5,211.1 L646.0,212.4 L647.5,212.1 L648.7,212.0 L659.0,218.4 L667.4,227.0 L674.4,236.7 L680.5,247.2 L685.7,258.1 L690.4,269.2 L694.8,280.5 L697.7,292.2 L700.3,304.0 L702.1,315.9 L703.7,327.9 L704.8,340.0 L705.8,352.0 L705.8,355.0 L708.4,355.0 L708.5,355.0 L710.3,329.2 L711.6,303.4 L712.9,277.5 L714.1,251.7 L715.9,225.9 L718.1,200.1 L720.2,174.3 L723.0,148.6 L726.0,122.9 L728.7,97.2 L731.2,71.4 L734.5,45.8 L741.5,21.0" stroke="#00DD00" stroke-width="4.0"/></g><rect x="514.8" y="187" width="4.7" height="62" fill="#E6A832"/><path d="M510,189 L517.3,158.2 L525.3,189 Z" fill="#E6A832"/><line x1="490" y1="256.8" x2="673.2" y2="256.8" stroke="#000" stroke-width="2.2"/><rect x="613.4" y="35.5" width="91.8" height="138.5" fill="#fff"/><g clip-path="url(#cbi)" fill="none"><path d="M614.5,132.9 L615.7,133.1 L616.9,133.4 L618.1,135.1 L619.3,135.4 L620.5,136.6 L621.7,137.0 L622.9,137.6 L624.1,138.1 L625.3,138.0 L626.5,138.1 L627.7,139.5 L628.9,139.1 L630.1,139.4 L631.3,139.2 L632.5,138.6 L633.7,139.1 L634.9,140.4 L636.1,139.5 L637.3,139.8 L638.5,139.4 L639.7,140.0 L640.9,140.2 L642.1,140.3 L643.3,140.5 L644.5,140.4 L645.7,140.5 L646.9,140.9 L648.1,141.2 L649.3,141.1 L650.5,142.0 L651.7,141.5 L652.9,141.6 L654.1,141.3 L655.3,142.2 L656.5,141.4 L657.7,141.2 L658.9,141.6 L660.1,142.5 L661.3,141.8 L662.5,143.0 L663.7,142.5 L664.9,142.0 L666.1,142.7 L667.3,143.7 L668.5,142.6 L669.7,142.5 L670.9,143.5 L672.1,144.0 L673.3,143.9 L674.5,143.4 L675.7,143.8 L676.9,144.0 L678.1,144.5 L679.3,145.0 L680.5,144.1 L681.7,144.9 L682.9,144.3 L684.1,144.8 L685.3,144.2 L686.5,144.4 L687.7,145.1 L688.9,144.6 L690.1,145.5 L691.3,145.0 L692.5,145.4 L693.7,145.4 L694.9,145.4 L696.1,145.8 L697.3,146.3 L698.5,147.3 L699.7,145.5 L700.9,146.3 L702.1,146.2 L703.3,146.0 L704.5,146.6" stroke="#EE0A96" stroke-width="2"/><path d="M614.5,126.1 L615.7,127.4 L616.9,128.9 L618.1,128.3 L619.3,130.1 L620.5,130.9 L621.7,130.9 L622.9,132.1 L624.1,132.6 L625.3,132.7 L626.5,133.7 L627.7,132.8 L628.9,133.9 L630.1,133.6 L631.3,133.3 L632.5,133.9 L633.7,133.9 L634.9,134.6 L636.1,133.7 L637.3,134.4 L638.5,134.4 L639.7,135.4 L640.9,134.3 L642.1,135.5 L643.3,134.3 L644.5,135.4 L645.7,135.3 L646.9,135.7 L648.1,135.3 L649.3,134.9 L650.5,135.2 L651.7,136.6 L652.9,136.2 L654.1,135.9 L655.3,136.8 L656.5,136.2 L657.7,136.3 L658.9,136.2 L660.1,137.4 L661.3,137.9 L662.5,136.7 L663.7,137.4 L664.9,137.9 L666.1,138.5 L667.3,136.6 L668.5,137.9 L669.7,138.2 L670.9,137.4 L672.1,138.4 L673.3,138.4 L674.5,138.8 L675.7,138.3 L676.9,138.9 L678.1,138.6 L679.3,139.3 L680.5,139.2 L681.7,139.1 L682.9,138.7 L684.1,140.2 L685.3,140.1 L686.5,140.2 L687.7,139.6 L688.9,139.9 L690.1,140.9 L691.3,140.6 L692.5,140.0 L693.7,140.6 L694.9,140.7 L696.1,140.7 L697.3,140.5 L698.5,141.6 L699.7,141.5 L700.9,141.2 L702.1,140.7 L703.3,141.3 L704.5,141.7" stroke="#FF3C3C" stroke-width="2"/><path d="M614.5,120.4 L615.7,120.5 L616.9,121.7 L618.1,121.9 L619.3,122.0 L620.5,121.6 L621.7,122.7 L622.9,123.0 L624.1,123.9 L625.3,124.4 L626.5,125.2 L627.7,124.7 L628.9,124.3 L630.1,125.9 L631.3,125.1 L632.5,125.0 L633.7,125.1 L634.9,124.8 L636.1,125.8 L637.3,125.8 L638.5,126.5 L639.7,126.4 L640.9,126.4 L642.1,126.7 L643.3,126.2 L644.5,126.2 L645.7,126.5 L646.9,126.1 L648.1,126.8 L649.3,126.8 L650.5,127.4 L651.7,127.2 L652.9,126.5 L654.1,127.5 L655.3,128.2 L656.5,126.9 L657.7,127.5 L658.9,128.0 L660.1,127.5 L661.3,128.0 L662.5,128.4 L663.7,127.9 L664.9,128.8 L666.1,129.0 L667.3,128.3 L668.5,129.1 L669.7,129.7 L670.9,129.2 L672.1,129.6 L673.3,129.8 L674.5,129.6 L675.7,130.3 L676.9,130.1 L678.1,129.6 L679.3,130.4 L680.5,130.7 L681.7,130.8 L682.9,130.3 L684.1,130.9 L685.3,131.5 L686.5,131.1 L687.7,131.7 L688.9,131.8 L690.1,131.4 L691.3,131.8 L692.5,131.5 L693.7,132.3 L694.9,131.9 L696.1,131.8 L697.3,132.2 L698.5,132.3 L699.7,132.6 L700.9,132.8 L702.1,132.2 L703.3,132.5 L704.5,133.1" stroke="#F08228" stroke-width="2"/><path d="M614.5,114.7 L615.7,115.4 L616.9,117.3 L618.1,117.4 L619.3,117.6 L620.5,118.6 L621.7,119.4 L622.9,119.5 L624.1,119.0 L625.3,120.2 L626.5,120.5 L627.7,121.6 L628.9,120.0 L630.1,121.6 L631.3,121.0 L632.5,121.6 L633.7,121.2 L634.9,121.5 L636.1,122.1 L637.3,121.7 L638.5,122.3 L639.7,121.9 L640.9,121.9 L642.1,122.1 L643.3,122.1 L644.5,122.4 L645.7,123.2 L646.9,122.2 L648.1,122.1 L649.3,123.0 L650.5,123.9 L651.7,123.7 L652.9,124.0 L654.1,124.1 L655.3,123.3 L656.5,123.8 L657.7,122.7 L658.9,123.8 L660.1,124.4 L661.3,123.6 L662.5,123.5 L663.7,124.0 L664.9,124.8 L666.1,125.3 L667.3,126.1 L668.5,125.7 L669.7,124.5 L670.9,124.3 L672.1,125.5 L673.3,126.1 L674.5,125.0 L675.7,125.6 L676.9,125.8 L678.1,126.1 L679.3,126.2 L680.5,126.6 L681.7,127.0 L682.9,126.7 L684.1,127.1 L685.3,127.8 L686.5,126.6 L687.7,126.7 L688.9,127.5 L690.1,128.3 L691.3,127.6 L692.5,128.2 L693.7,127.7 L694.9,128.4 L696.1,127.8 L697.3,128.5 L698.5,128.5 L699.7,128.6 L700.9,129.2 L702.1,129.2 L703.3,128.6 L704.5,129.4" stroke="#E6A832" stroke-width="2"/><path d="M614.5,108.1 L615.7,109.8 L616.9,111.1 L618.1,110.6 L619.3,111.1 L620.5,111.3 L621.7,112.0 L622.9,111.7 L624.1,112.5 L625.3,112.3 L626.5,112.5 L627.7,112.9 L628.9,112.9 L630.1,112.2 L631.3,114.0 L632.5,113.3 L633.7,112.6 L634.9,114.0 L636.1,113.7 L637.3,113.9 L638.5,114.3 L639.7,113.7 L640.9,112.9 L642.1,114.4 L643.3,114.6 L644.5,115.1 L645.7,114.5 L646.9,114.8 L648.1,115.3 L649.3,115.1 L650.5,115.3 L651.7,115.7 L652.9,115.2 L654.1,116.5 L655.3,115.5 L656.5,116.1 L657.7,116.1 L658.9,116.1 L660.1,116.8 L661.3,117.1 L662.5,117.5 L663.7,117.2 L664.9,116.9 L666.1,117.6 L667.3,116.7 L668.5,117.6 L669.7,117.9 L670.9,118.1 L672.1,117.4 L673.3,117.4 L674.5,119.0 L675.7,118.2 L676.9,117.8 L678.1,118.1 L679.3,118.8 L680.5,119.5 L681.7,119.1 L682.9,119.8 L684.1,119.5 L685.3,119.7 L686.5,120.1 L687.7,119.6 L688.9,120.1 L690.1,119.9 L691.3,119.9 L692.5,120.7 L693.7,120.1 L694.9,120.7 L696.1,122.4 L697.3,122.9 L698.5,122.8 L699.7,123.7 L700.9,123.4 L702.1,121.5 L703.3,122.4 L704.5,120.5" stroke="#E6D22D" stroke-width="2"/><path d="M614.5,98.7 L615.7,98.9 L616.9,100.9 L618.1,101.8 L619.3,102.6 L620.5,103.1 L621.7,103.2 L622.9,104.8 L624.1,104.6 L625.3,104.8 L626.5,104.7 L627.7,105.6 L628.9,105.3 L630.1,105.4 L631.3,105.9 L632.5,106.0 L633.7,105.7 L634.9,106.7 L636.1,105.9 L637.3,105.9 L638.5,106.7 L639.7,106.8 L640.9,106.9 L642.1,106.8 L643.3,107.1 L644.5,107.0 L645.7,106.7 L646.9,107.9 L648.1,107.2 L649.3,107.7 L650.5,108.3 L651.7,108.1 L652.9,109.4 L654.1,107.7 L655.3,108.1 L656.5,108.7 L657.7,109.4 L658.9,108.8 L660.1,108.4 L661.3,109.7 L662.5,108.9 L663.7,109.3 L664.9,110.0 L666.1,109.4 L667.3,109.6 L668.5,110.2 L669.7,110.0 L670.9,110.4 L672.1,110.0 L673.3,110.5 L674.5,110.2 L675.7,110.1 L676.9,111.7 L678.1,111.3 L679.3,111.6 L680.5,110.9 L681.7,111.5 L682.9,111.5 L684.1,111.1 L685.3,112.1 L686.5,111.7 L687.7,112.1 L688.9,111.6 L690.1,112.9 L691.3,112.9 L692.5,112.9 L693.7,112.4 L694.9,112.7 L696.1,113.7 L697.3,113.1 L698.5,113.5 L699.7,113.6 L700.9,113.1 L702.1,114.5 L703.3,113.0 L704.5,114.2" stroke="#AADD33" stroke-width="2"/><path d="M614.5,88.5 L615.7,88.2 L616.9,89.4 L618.1,89.8 L619.3,90.0 L620.5,90.0 L621.7,90.9 L622.9,91.6 L624.1,91.6 L625.3,92.7 L626.5,92.6 L627.7,92.9 L628.9,93.5 L630.1,92.8 L631.3,93.2 L632.5,94.0 L633.7,94.3 L634.9,95.1 L636.1,95.1 L637.3,94.8 L638.5,95.0 L639.7,94.9 L640.9,94.9 L642.1,94.9 L643.3,95.5 L644.5,94.9 L645.7,94.9 L646.9,95.2 L648.1,94.9 L649.3,95.1 L650.5,94.4 L651.7,95.7 L652.9,95.6 L654.1,96.1 L655.3,96.5 L656.5,95.8 L657.7,98.1 L658.9,97.4 L660.1,97.8 L661.3,97.3 L662.5,98.8 L663.7,99.1 L664.9,99.0 L666.1,99.6 L667.3,100.3 L668.5,99.7 L669.7,99.6 L670.9,100.7 L672.1,100.3 L673.3,100.1 L674.5,101.3 L675.7,100.3 L676.9,100.2 L678.1,100.4 L679.3,100.1 L680.5,100.5 L681.7,100.6 L682.9,100.4 L684.1,100.7 L685.3,101.2 L686.5,101.6 L687.7,102.0 L688.9,102.4 L690.1,102.6 L691.3,103.1 L692.5,103.0 L693.7,103.5 L694.9,104.4 L696.1,103.4 L697.3,104.7 L698.5,106.2 L699.7,104.1 L700.9,105.8 L702.1,104.4 L703.3,105.4 L704.5,106.0" stroke="#00DD00" stroke-width="2"/></g><g stroke="#000" fill="none"><rect x="614.4" y="36.5" width="89.8" height="136.5" stroke-width="2.2"/><line x1="614.4" y1="172.9" x2="618.9" y2="172.9" stroke-width="2"/><line x1="614.4" y1="152.37" x2="616.9" y2="152.37" stroke-width="1.5"/><line x1="614.4" y1="140.36" x2="616.9" y2="140.36" stroke-width="1.5"/><line x1="614.4" y1="131.84" x2="616.9" y2="131.84" stroke-width="1.5"/><line x1="614.4" y1="125.23" x2="616.9" y2="125.23" stroke-width="1.5"/><line x1="614.4" y1="119.83" x2="616.9" y2="119.83" stroke-width="1.5"/><line x1="614.4" y1="115.26" x2="616.9" y2="115.26" stroke-width="1.5"/><line x1="614.4" y1="111.31" x2="616.9" y2="111.31" stroke-width="1.5"/><line x1="614.4" y1="107.82" x2="616.9" y2="107.82" stroke-width="1.5"/><line x1="614.4" y1="104.7" x2="618.9" y2="104.7" stroke-width="2"/><line x1="614.4" y1="84.17" x2="616.9" y2="84.17" stroke-width="1.5"/><line x1="614.4" y1="72.16" x2="616.9" y2="72.16" stroke-width="1.5"/><line x1="614.4" y1="63.64" x2="616.9" y2="63.64" stroke-width="1.5"/><line x1="614.4" y1="57.03" x2="616.9" y2="57.03" stroke-width="1.5"/><line x1="614.4" y1="51.63" x2="616.9" y2="51.63" stroke-width="1.5"/><line x1="614.4" y1="47.06" x2="616.9" y2="47.06" stroke-width="1.5"/><line x1="614.4" y1="43.11" x2="616.9" y2="43.11" stroke-width="1.5"/><line x1="614.4" y1="39.62" x2="616.9" y2="39.62" stroke-width="1.5"/><line x1="614.4" y1="36.5" x2="618.9" y2="36.5" stroke-width="2"/><line x1="704.2" y1="172.9" x2="699.7" y2="172.9" stroke-width="2"/><line x1="704.2" y1="152.37" x2="701.7" y2="152.37" stroke-width="1.5"/><line x1="704.2" y1="140.36" x2="701.7" y2="140.36" stroke-width="1.5"/><line x1="704.2" y1="131.84" x2="701.7" y2="131.84" stroke-width="1.5"/><line x1="704.2" y1="125.23" x2="701.7" y2="125.23" stroke-width="1.5"/><line x1="704.2" y1="119.83" x2="701.7" y2="119.83" stroke-width="1.5"/><line x1="704.2" y1="115.26" x2="701.7" y2="115.26" stroke-width="1.5"/><line x1="704.2" y1="111.31" x2="701.7" y2="111.31" stroke-width="1.5"/><line x1="704.2" y1="107.82" x2="701.7" y2="107.82" stroke-width="1.5"/><line x1="704.2" y1="104.7" x2="699.7" y2="104.7" stroke-width="2"/><line x1="704.2" y1="84.17" x2="701.7" y2="84.17" stroke-width="1.5"/><line x1="704.2" y1="72.16" x2="701.7" y2="72.16" stroke-width="1.5"/><line x1="704.2" y1="63.64" x2="701.7" y2="63.64" stroke-width="1.5"/><line x1="704.2" y1="57.03" x2="701.7" y2="57.03" stroke-width="1.5"/><line x1="704.2" y1="51.63" x2="701.7" y2="51.63" stroke-width="1.5"/><line x1="704.2" y1="47.06" x2="701.7" y2="47.06" stroke-width="1.5"/><line x1="704.2" y1="43.11" x2="701.7" y2="43.11" stroke-width="1.5"/><line x1="704.2" y1="39.62" x2="701.7" y2="39.62" stroke-width="1.5"/><line x1="704.2" y1="36.5" x2="699.7" y2="36.5" stroke-width="2"/><line x1="636.98" y1="173.0" x2="636.98" y2="170" stroke-width="2"/><line x1="636.98" y1="36.5" x2="636.98" y2="39.5" stroke-width="2"/><line x1="659.4" y1="173.0" x2="659.4" y2="168" stroke-width="2"/><line x1="659.4" y1="36.5" x2="659.4" y2="41.5" stroke-width="2"/><line x1="681.82" y1="173.0" x2="681.82" y2="170" stroke-width="2"/><line x1="681.82" y1="36.5" x2="681.82" y2="39.5" stroke-width="2"/></g><line x1="630.3" y1="148.7" x2="641.3" y2="86.4" stroke="#E6A832" stroke-width="1.6"/><g font-family='"Liberation Sans", sans-serif' font-weight="bold" fill="#000"><path d="M0.43,0 V-0.716 H0.315 L0.105,-0.53 V-0.41 L0.29,-0.545 V0 Z" transform="translate(419.65,52.7) scale(27)"/><text x="434.66" y="52.7" font-size="27">0</text><text x="449.67" y="41.9" font-size="17.5">0</text><path d="M0.43,0 V-0.716 H0.315 L0.105,-0.53 V-0.41 L0.29,-0.545 V0 Z" transform="translate(413.82,96.55) scale(27)"/><text x="428.83" y="96.55" font-size="27">0</text><text x="443.84" y="85.75" font-size="17.5">-</text><path d="M0.43,0 V-0.716 H0.315 L0.105,-0.53 V-0.41 L0.29,-0.545 V0 Z" transform="translate(449.67,85.75) scale(17.5)"/><path d="M0.43,0 V-0.716 H0.315 L0.105,-0.53 V-0.41 L0.29,-0.545 V0 Z" transform="translate(413.82,140.4) scale(27)"/><text x="428.83" y="140.4" font-size="27">0</text><text x="443.84" y="129.6" font-size="17.5">-2</text><path d="M0.43,0 V-0.716 H0.315 L0.105,-0.53 V-0.41 L0.29,-0.545 V0 Z" transform="translate(413.82,184.25) scale(27)"/><text x="428.83" y="184.25" font-size="27">0</text><text x="443.84" y="173.45" font-size="17.5">-3</text><path d="M0.43,0 V-0.716 H0.315 L0.105,-0.53 V-0.41 L0.29,-0.545 V0 Z" transform="translate(413.82,228.1) scale(27)"/><text x="428.83" y="228.1" font-size="27">0</text><text x="443.84" y="217.3" font-size="17.5">-4</text><path d="M0.43,0 V-0.716 H0.315 L0.105,-0.53 V-0.41 L0.29,-0.545 V0 Z" transform="translate(413.82,271.95) scale(27)"/><text x="428.83" y="271.95" font-size="27">0</text><text x="443.84" y="261.15" font-size="17.5">-5</text><path d="M0.43,0 V-0.716 H0.315 L0.105,-0.53 V-0.41 L0.29,-0.545 V0 Z" transform="translate(413.82,315.8) scale(27)"/><text x="428.83" y="315.8" font-size="27">0</text><text x="443.84" y="305" font-size="17.5">-6</text><path d="M0.43,0 V-0.716 H0.315 L0.105,-0.53 V-0.41 L0.29,-0.545 V0 Z" transform="translate(413.82,359.65) scale(27)"/><text x="428.83" y="359.65" font-size="27">0</text><text x="443.84" y="348.85" font-size="17.5">-7</text><path d="M0.43,0 V-0.716 H0.315 L0.105,-0.53 V-0.41 L0.29,-0.545 V0 Z" transform="translate(413.82,403.5) scale(27)"/><text x="428.83" y="403.5" font-size="27">0</text><text x="443.84" y="392.7" font-size="17.5">-8</text><text x="471.2" y="426" font-size="26.5" text-anchor="middle">-20</text><text x="511.15" y="426" font-size="26.5">-</text><path d="M0.43,0 V-0.716 H0.315 L0.105,-0.53 V-0.41 L0.29,-0.545 V0 Z" transform="translate(519.98,426) scale(26.5)"/><text x="534.71" y="426" font-size="26.5">5</text><text x="570.25" y="426" font-size="26.5">-</text><path d="M0.43,0 V-0.716 H0.315 L0.105,-0.53 V-0.41 L0.29,-0.545 V0 Z" transform="translate(579.08,426) scale(26.5)"/><text x="593.81" y="426" font-size="26.5">0</text><text x="648.5" y="426" font-size="26.5" text-anchor="middle">-5</text><text x="707.6" y="426" font-size="26.5" text-anchor="middle">0</text><text x="574.41" y="451.8" font-size="27">V</text><text x="591.58" y="459.2" font-size="17.5">G</text><text x="605.65" y="451.8" font-size="27">(V)</text><text transform="translate(403.5,261.2) rotate(-90)" font-size="27">I<tspan font-size="18.5" dy="7">G</tspan><tspan dy="-7">(mA/mm)</tspan></text><text x="382.45" y="457.6" font-size="27">(b)</text><text x="489.88" y="279.9" font-size="26.3">25</text><text x="517.84" y="279.9" font-size="26.3">°</text><text transform="translate(526.94,279.9) scale(0.79,1)" font-size="26.3" font-weight="normal" style="stroke:#000;stroke-width:1.25px">C</text><text x="551.58" y="279.9" font-size="26.3">to</text><text x="589.68" y="279.9" font-size="26.3">200</text><text x="631.44" y="279.9" font-size="26.3">°</text><text transform="translate(642.93,279.9) scale(0.72,1)" font-size="26.3" font-weight="normal" style="stroke:#000;stroke-width:1.25px">C</text><path d="M0.43,0 V-0.716 H0.315 L0.105,-0.53 V-0.41 L0.29,-0.545 V0 Z" transform="translate(580.53,43.3) scale(17)"/><text x="589.98" y="43.3" font-size="17">0</text><text x="599.43" y="35.7" font-size="12">-3</text><path d="M0.43,0 V-0.716 H0.315 L0.105,-0.53 V-0.41 L0.29,-0.545 V0 Z" transform="translate(580.53,111.5) scale(17)"/><text x="589.98" y="111.5" font-size="17">0</text><text x="599.43" y="103.9" font-size="12">-4</text><path d="M0.43,0 V-0.716 H0.315 L0.105,-0.53 V-0.41 L0.29,-0.545 V0 Z" transform="translate(580.53,179.7) scale(17)"/><text x="589.98" y="179.7" font-size="17">0</text><text x="599.43" y="172.1" font-size="12">-5</text><text x="615.05" y="191.2" font-size="15.4" text-anchor="middle">-20</text><text x="648.77" y="191.2" font-size="15.4">-</text><path d="M0.43,0 V-0.716 H0.315 L0.105,-0.53 V-0.41 L0.29,-0.545 V0 Z" transform="translate(653.9,191.2) scale(15.4)"/><text x="662.46" y="191.2" font-size="15.4">5</text><text x="693.62" y="191.2" font-size="15.4">-</text><path d="M0.43,0 V-0.716 H0.315 L0.105,-0.53 V-0.41 L0.29,-0.545 V0 Z" transform="translate(698.75,191.2) scale(15.4)"/><text x="707.31" y="191.2" font-size="15.4">0</text><text x="642.59" y="205.4" font-size="16">V</text><text x="653.35" y="209.6" font-size="11">G</text><text x="660.83" y="205.4" font-size="17.5">(V)</text><text transform="translate(579.2,141.8) rotate(-90)" font-size="15.5">I<tspan font-size="10.3" dy="4.5">D</tspan><tspan dy="-4.5">(mA/mm)</tspan></text><text x="633.52" y="60.1" font-size="16.5">25</text><text x="649.87" y="60.1" font-size="16.5">°</text><text transform="translate(656.82,60.1) scale(0.8,1)" font-size="16.5" font-weight="normal" style="stroke:#000;stroke-width:1.25px">C</text><text x="673" y="60.1" font-size="16.5">to</text><text x="633.52" y="82.2" font-size="16.5">200</text><text x="659.67" y="82.2" font-size="16.5">°</text><text transform="translate(666.66,82.2) scale(0.76,1)" font-size="16.5" font-weight="normal" style="stroke:#000;stroke-width:1.25px">C</text></g><g stroke="#000"><line x1="383" y1="434.5" x2="416.2" y2="434.5" stroke-width="2"/><line x1="574.1" y1="429.3" x2="591.3" y2="429.3" stroke-width="2.2"/><line x1="605.4" y1="429.3" x2="639.9" y2="429.3" stroke-width="2.2"/><line x1="591.8" y1="444.2" x2="604.9" y2="444.2" stroke-width="1.5"/><line x1="396" y1="239" x2="396" y2="253" stroke-width="1.5"/></g></svg></body></html>
